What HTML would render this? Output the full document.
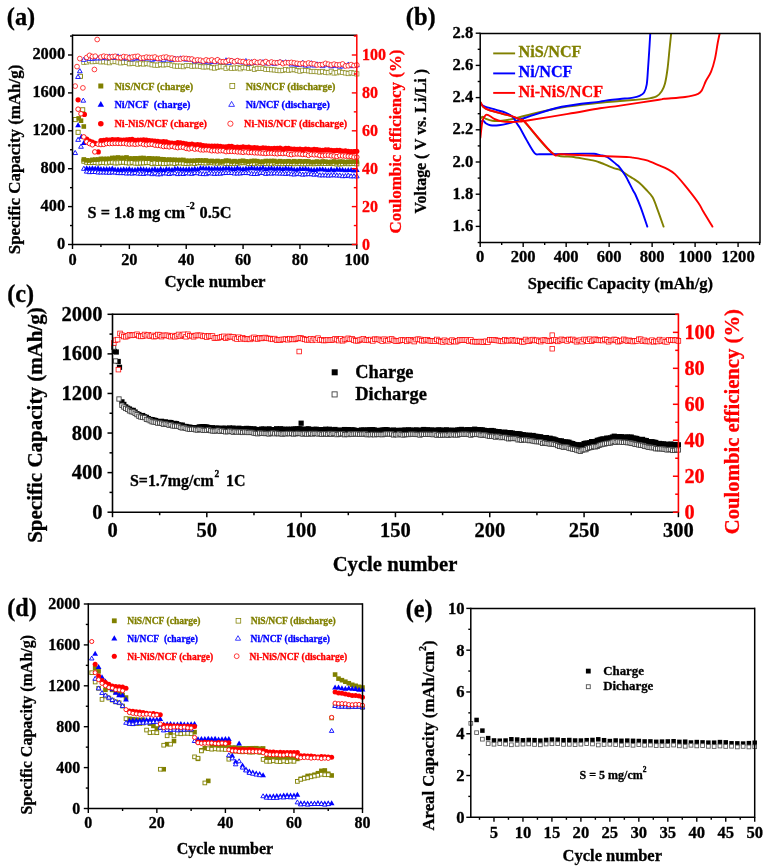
<!DOCTYPE html>
<html><head><meta charset="utf-8"><style>
html,body{margin:0;padding:0;background:#fff;}
svg{display:block;will-change:transform;}
text{stroke-width:0.3px;paint-order:stroke;}
</style></head><body>
<svg width="768" height="867" viewBox="0 0 768 867">
<rect width="768" height="867" fill="#fff"/>
<rect x="81.82" y="159.13" width="4.1" height="4.1" fill="#fff" stroke="#808000" stroke-width="0.9"/>
<rect x="84.67" y="160.19" width="4.1" height="4.1" fill="#fff" stroke="#808000" stroke-width="0.9"/>
<rect x="87.51" y="160.55" width="4.1" height="4.1" fill="#fff" stroke="#808000" stroke-width="0.9"/>
<rect x="90.35" y="160.32" width="4.1" height="4.1" fill="#fff" stroke="#808000" stroke-width="0.9"/>
<rect x="93.19" y="160.4" width="4.1" height="4.1" fill="#fff" stroke="#808000" stroke-width="0.9"/>
<rect x="96.04" y="160.91" width="4.1" height="4.1" fill="#fff" stroke="#808000" stroke-width="0.9"/>
<rect x="98.88" y="160.43" width="4.1" height="4.1" fill="#fff" stroke="#808000" stroke-width="0.9"/>
<rect x="101.72" y="160.52" width="4.1" height="4.1" fill="#fff" stroke="#808000" stroke-width="0.9"/>
<rect x="104.57" y="160.82" width="4.1" height="4.1" fill="#fff" stroke="#808000" stroke-width="0.9"/>
<rect x="107.41" y="160.13" width="4.1" height="4.1" fill="#fff" stroke="#808000" stroke-width="0.9"/>
<rect x="110.25" y="160.1" width="4.1" height="4.1" fill="#fff" stroke="#808000" stroke-width="0.9"/>
<rect x="113.09" y="160.86" width="4.1" height="4.1" fill="#fff" stroke="#808000" stroke-width="0.9"/>
<rect x="115.94" y="160.77" width="4.1" height="4.1" fill="#fff" stroke="#808000" stroke-width="0.9"/>
<rect x="118.78" y="160.2" width="4.1" height="4.1" fill="#fff" stroke="#808000" stroke-width="0.9"/>
<rect x="121.62" y="160.14" width="4.1" height="4.1" fill="#fff" stroke="#808000" stroke-width="0.9"/>
<rect x="124.47" y="160.69" width="4.1" height="4.1" fill="#fff" stroke="#808000" stroke-width="0.9"/>
<rect x="127.31" y="160.89" width="4.1" height="4.1" fill="#fff" stroke="#808000" stroke-width="0.9"/>
<rect x="130.15" y="160.23" width="4.1" height="4.1" fill="#fff" stroke="#808000" stroke-width="0.9"/>
<rect x="133" y="161.06" width="4.1" height="4.1" fill="#fff" stroke="#808000" stroke-width="0.9"/>
<rect x="135.84" y="161.07" width="4.1" height="4.1" fill="#fff" stroke="#808000" stroke-width="0.9"/>
<rect x="138.68" y="160.87" width="4.1" height="4.1" fill="#fff" stroke="#808000" stroke-width="0.9"/>
<rect x="141.52" y="160.77" width="4.1" height="4.1" fill="#fff" stroke="#808000" stroke-width="0.9"/>
<rect x="144.37" y="160.53" width="4.1" height="4.1" fill="#fff" stroke="#808000" stroke-width="0.9"/>
<rect x="147.21" y="160.55" width="4.1" height="4.1" fill="#fff" stroke="#808000" stroke-width="0.9"/>
<rect x="150.05" y="161.55" width="4.1" height="4.1" fill="#fff" stroke="#808000" stroke-width="0.9"/>
<rect x="152.9" y="160.91" width="4.1" height="4.1" fill="#fff" stroke="#808000" stroke-width="0.9"/>
<rect x="155.74" y="161.45" width="4.1" height="4.1" fill="#fff" stroke="#808000" stroke-width="0.9"/>
<rect x="158.58" y="160.99" width="4.1" height="4.1" fill="#fff" stroke="#808000" stroke-width="0.9"/>
<rect x="161.43" y="161.54" width="4.1" height="4.1" fill="#fff" stroke="#808000" stroke-width="0.9"/>
<rect x="164.27" y="161.3" width="4.1" height="4.1" fill="#fff" stroke="#808000" stroke-width="0.9"/>
<rect x="167.11" y="160.98" width="4.1" height="4.1" fill="#fff" stroke="#808000" stroke-width="0.9"/>
<rect x="169.95" y="160.84" width="4.1" height="4.1" fill="#fff" stroke="#808000" stroke-width="0.9"/>
<rect x="172.8" y="161.37" width="4.1" height="4.1" fill="#fff" stroke="#808000" stroke-width="0.9"/>
<rect x="175.64" y="160.7" width="4.1" height="4.1" fill="#fff" stroke="#808000" stroke-width="0.9"/>
<rect x="178.48" y="160.85" width="4.1" height="4.1" fill="#fff" stroke="#808000" stroke-width="0.9"/>
<rect x="181.33" y="161.16" width="4.1" height="4.1" fill="#fff" stroke="#808000" stroke-width="0.9"/>
<rect x="184.17" y="161.44" width="4.1" height="4.1" fill="#fff" stroke="#808000" stroke-width="0.9"/>
<rect x="187.01" y="161.18" width="4.1" height="4.1" fill="#fff" stroke="#808000" stroke-width="0.9"/>
<rect x="189.86" y="160.83" width="4.1" height="4.1" fill="#fff" stroke="#808000" stroke-width="0.9"/>
<rect x="192.7" y="161.45" width="4.1" height="4.1" fill="#fff" stroke="#808000" stroke-width="0.9"/>
<rect x="195.54" y="160.72" width="4.1" height="4.1" fill="#fff" stroke="#808000" stroke-width="0.9"/>
<rect x="198.38" y="160.52" width="4.1" height="4.1" fill="#fff" stroke="#808000" stroke-width="0.9"/>
<rect x="201.23" y="160.75" width="4.1" height="4.1" fill="#fff" stroke="#808000" stroke-width="0.9"/>
<rect x="204.07" y="160.91" width="4.1" height="4.1" fill="#fff" stroke="#808000" stroke-width="0.9"/>
<rect x="206.91" y="160.51" width="4.1" height="4.1" fill="#fff" stroke="#808000" stroke-width="0.9"/>
<rect x="209.76" y="160.64" width="4.1" height="4.1" fill="#fff" stroke="#808000" stroke-width="0.9"/>
<rect x="212.6" y="160.84" width="4.1" height="4.1" fill="#fff" stroke="#808000" stroke-width="0.9"/>
<rect x="215.44" y="161.05" width="4.1" height="4.1" fill="#fff" stroke="#808000" stroke-width="0.9"/>
<rect x="218.29" y="160.62" width="4.1" height="4.1" fill="#fff" stroke="#808000" stroke-width="0.9"/>
<rect x="221.13" y="160.86" width="4.1" height="4.1" fill="#fff" stroke="#808000" stroke-width="0.9"/>
<rect x="223.97" y="161.4" width="4.1" height="4.1" fill="#fff" stroke="#808000" stroke-width="0.9"/>
<rect x="226.81" y="161.5" width="4.1" height="4.1" fill="#fff" stroke="#808000" stroke-width="0.9"/>
<rect x="229.66" y="161.18" width="4.1" height="4.1" fill="#fff" stroke="#808000" stroke-width="0.9"/>
<rect x="232.5" y="161.23" width="4.1" height="4.1" fill="#fff" stroke="#808000" stroke-width="0.9"/>
<rect x="235.34" y="161.13" width="4.1" height="4.1" fill="#fff" stroke="#808000" stroke-width="0.9"/>
<rect x="238.19" y="160.7" width="4.1" height="4.1" fill="#fff" stroke="#808000" stroke-width="0.9"/>
<rect x="241.03" y="160.6" width="4.1" height="4.1" fill="#fff" stroke="#808000" stroke-width="0.9"/>
<rect x="243.87" y="160.59" width="4.1" height="4.1" fill="#fff" stroke="#808000" stroke-width="0.9"/>
<rect x="246.72" y="161.49" width="4.1" height="4.1" fill="#fff" stroke="#808000" stroke-width="0.9"/>
<rect x="249.56" y="161.3" width="4.1" height="4.1" fill="#fff" stroke="#808000" stroke-width="0.9"/>
<rect x="252.4" y="161.57" width="4.1" height="4.1" fill="#fff" stroke="#808000" stroke-width="0.9"/>
<rect x="255.24" y="160.63" width="4.1" height="4.1" fill="#fff" stroke="#808000" stroke-width="0.9"/>
<rect x="258.09" y="161.26" width="4.1" height="4.1" fill="#fff" stroke="#808000" stroke-width="0.9"/>
<rect x="260.93" y="161.11" width="4.1" height="4.1" fill="#fff" stroke="#808000" stroke-width="0.9"/>
<rect x="263.77" y="161.37" width="4.1" height="4.1" fill="#fff" stroke="#808000" stroke-width="0.9"/>
<rect x="266.62" y="160.97" width="4.1" height="4.1" fill="#fff" stroke="#808000" stroke-width="0.9"/>
<rect x="269.46" y="161.66" width="4.1" height="4.1" fill="#fff" stroke="#808000" stroke-width="0.9"/>
<rect x="272.3" y="160.75" width="4.1" height="4.1" fill="#fff" stroke="#808000" stroke-width="0.9"/>
<rect x="275.15" y="161.23" width="4.1" height="4.1" fill="#fff" stroke="#808000" stroke-width="0.9"/>
<rect x="277.99" y="161.43" width="4.1" height="4.1" fill="#fff" stroke="#808000" stroke-width="0.9"/>
<rect x="280.83" y="161.6" width="4.1" height="4.1" fill="#fff" stroke="#808000" stroke-width="0.9"/>
<rect x="283.68" y="161.45" width="4.1" height="4.1" fill="#fff" stroke="#808000" stroke-width="0.9"/>
<rect x="286.52" y="161.42" width="4.1" height="4.1" fill="#fff" stroke="#808000" stroke-width="0.9"/>
<rect x="289.36" y="161.52" width="4.1" height="4.1" fill="#fff" stroke="#808000" stroke-width="0.9"/>
<rect x="292.2" y="161.65" width="4.1" height="4.1" fill="#fff" stroke="#808000" stroke-width="0.9"/>
<rect x="295.05" y="161.1" width="4.1" height="4.1" fill="#fff" stroke="#808000" stroke-width="0.9"/>
<rect x="297.89" y="161.44" width="4.1" height="4.1" fill="#fff" stroke="#808000" stroke-width="0.9"/>
<rect x="300.73" y="161.67" width="4.1" height="4.1" fill="#fff" stroke="#808000" stroke-width="0.9"/>
<rect x="303.58" y="161.65" width="4.1" height="4.1" fill="#fff" stroke="#808000" stroke-width="0.9"/>
<rect x="306.42" y="161.2" width="4.1" height="4.1" fill="#fff" stroke="#808000" stroke-width="0.9"/>
<rect x="309.26" y="161.59" width="4.1" height="4.1" fill="#fff" stroke="#808000" stroke-width="0.9"/>
<rect x="312.1" y="161.67" width="4.1" height="4.1" fill="#fff" stroke="#808000" stroke-width="0.9"/>
<rect x="314.95" y="161.39" width="4.1" height="4.1" fill="#fff" stroke="#808000" stroke-width="0.9"/>
<rect x="317.79" y="161.45" width="4.1" height="4.1" fill="#fff" stroke="#808000" stroke-width="0.9"/>
<rect x="320.63" y="161.22" width="4.1" height="4.1" fill="#fff" stroke="#808000" stroke-width="0.9"/>
<rect x="323.48" y="161.43" width="4.1" height="4.1" fill="#fff" stroke="#808000" stroke-width="0.9"/>
<rect x="326.32" y="161.46" width="4.1" height="4.1" fill="#fff" stroke="#808000" stroke-width="0.9"/>
<rect x="329.16" y="160.94" width="4.1" height="4.1" fill="#fff" stroke="#808000" stroke-width="0.9"/>
<rect x="332.01" y="161.51" width="4.1" height="4.1" fill="#fff" stroke="#808000" stroke-width="0.9"/>
<rect x="334.85" y="161.88" width="4.1" height="4.1" fill="#fff" stroke="#808000" stroke-width="0.9"/>
<rect x="337.69" y="161.77" width="4.1" height="4.1" fill="#fff" stroke="#808000" stroke-width="0.9"/>
<rect x="340.53" y="161.63" width="4.1" height="4.1" fill="#fff" stroke="#808000" stroke-width="0.9"/>
<rect x="343.38" y="161.3" width="4.1" height="4.1" fill="#fff" stroke="#808000" stroke-width="0.9"/>
<rect x="346.22" y="161.66" width="4.1" height="4.1" fill="#fff" stroke="#808000" stroke-width="0.9"/>
<rect x="349.06" y="161.51" width="4.1" height="4.1" fill="#fff" stroke="#808000" stroke-width="0.9"/>
<rect x="351.91" y="161.38" width="4.1" height="4.1" fill="#fff" stroke="#808000" stroke-width="0.9"/>
<rect x="354.75" y="161.79" width="4.1" height="4.1" fill="#fff" stroke="#808000" stroke-width="0.9"/>
<rect x="78.35" y="74.25" width="4.1" height="4.1" fill="#fff" stroke="#808000" stroke-width="0.9"/>
<rect x="80.65" y="107.75" width="4.1" height="4.1" fill="#fff" stroke="#808000" stroke-width="0.9"/>
<rect x="73.15" y="117.55" width="4.1" height="4.1" fill="#fff" stroke="#808000" stroke-width="0.9"/>
<rect x="76.05" y="130.25" width="4.1" height="4.1" fill="#fff" stroke="#808000" stroke-width="0.9"/>
<rect x="81.75" y="60.13" width="4.25" height="4.25" fill="#fff" stroke="#8c8c20" stroke-width="0.75"/>
<rect x="84.59" y="59.83" width="4.25" height="4.25" fill="#fff" stroke="#8c8c20" stroke-width="0.75"/>
<rect x="87.43" y="58.53" width="4.25" height="4.25" fill="#fff" stroke="#8c8c20" stroke-width="0.75"/>
<rect x="90.28" y="59.56" width="4.25" height="4.25" fill="#fff" stroke="#8c8c20" stroke-width="0.75"/>
<rect x="93.12" y="59.34" width="4.25" height="4.25" fill="#fff" stroke="#8c8c20" stroke-width="0.75"/>
<rect x="95.96" y="58.89" width="4.25" height="4.25" fill="#fff" stroke="#8c8c20" stroke-width="0.75"/>
<rect x="98.81" y="59.73" width="4.25" height="4.25" fill="#fff" stroke="#8c8c20" stroke-width="0.75"/>
<rect x="101.65" y="59.52" width="4.25" height="4.25" fill="#fff" stroke="#8c8c20" stroke-width="0.75"/>
<rect x="104.49" y="59.88" width="4.25" height="4.25" fill="#fff" stroke="#8c8c20" stroke-width="0.75"/>
<rect x="107.33" y="60.58" width="4.25" height="4.25" fill="#fff" stroke="#8c8c20" stroke-width="0.75"/>
<rect x="110.18" y="59.54" width="4.25" height="4.25" fill="#fff" stroke="#8c8c20" stroke-width="0.75"/>
<rect x="113.02" y="59.25" width="4.25" height="4.25" fill="#fff" stroke="#8c8c20" stroke-width="0.75"/>
<rect x="115.86" y="59.92" width="4.25" height="4.25" fill="#fff" stroke="#8c8c20" stroke-width="0.75"/>
<rect x="118.71" y="60.75" width="4.25" height="4.25" fill="#fff" stroke="#8c8c20" stroke-width="0.75"/>
<rect x="121.55" y="60.04" width="4.25" height="4.25" fill="#fff" stroke="#8c8c20" stroke-width="0.75"/>
<rect x="124.39" y="60.13" width="4.25" height="4.25" fill="#fff" stroke="#8c8c20" stroke-width="0.75"/>
<rect x="127.24" y="61.61" width="4.25" height="4.25" fill="#fff" stroke="#8c8c20" stroke-width="0.75"/>
<rect x="130.08" y="61.31" width="4.25" height="4.25" fill="#fff" stroke="#8c8c20" stroke-width="0.75"/>
<rect x="132.92" y="61.07" width="4.25" height="4.25" fill="#fff" stroke="#8c8c20" stroke-width="0.75"/>
<rect x="135.76" y="62.03" width="4.25" height="4.25" fill="#fff" stroke="#8c8c20" stroke-width="0.75"/>
<rect x="138.61" y="61.16" width="4.25" height="4.25" fill="#fff" stroke="#8c8c20" stroke-width="0.75"/>
<rect x="141.45" y="61.92" width="4.25" height="4.25" fill="#fff" stroke="#8c8c20" stroke-width="0.75"/>
<rect x="144.29" y="61.23" width="4.25" height="4.25" fill="#fff" stroke="#8c8c20" stroke-width="0.75"/>
<rect x="147.14" y="61.8" width="4.25" height="4.25" fill="#fff" stroke="#8c8c20" stroke-width="0.75"/>
<rect x="149.98" y="62.63" width="4.25" height="4.25" fill="#fff" stroke="#8c8c20" stroke-width="0.75"/>
<rect x="152.82" y="62.97" width="4.25" height="4.25" fill="#fff" stroke="#8c8c20" stroke-width="0.75"/>
<rect x="155.66" y="63.06" width="4.25" height="4.25" fill="#fff" stroke="#8c8c20" stroke-width="0.75"/>
<rect x="158.51" y="62.32" width="4.25" height="4.25" fill="#fff" stroke="#8c8c20" stroke-width="0.75"/>
<rect x="161.35" y="62.82" width="4.25" height="4.25" fill="#fff" stroke="#8c8c20" stroke-width="0.75"/>
<rect x="164.19" y="62.49" width="4.25" height="4.25" fill="#fff" stroke="#8c8c20" stroke-width="0.75"/>
<rect x="167.04" y="62.32" width="4.25" height="4.25" fill="#fff" stroke="#8c8c20" stroke-width="0.75"/>
<rect x="169.88" y="63.12" width="4.25" height="4.25" fill="#fff" stroke="#8c8c20" stroke-width="0.75"/>
<rect x="172.72" y="63.88" width="4.25" height="4.25" fill="#fff" stroke="#8c8c20" stroke-width="0.75"/>
<rect x="175.57" y="64.05" width="4.25" height="4.25" fill="#fff" stroke="#8c8c20" stroke-width="0.75"/>
<rect x="178.41" y="63.96" width="4.25" height="4.25" fill="#fff" stroke="#8c8c20" stroke-width="0.75"/>
<rect x="181.25" y="64.54" width="4.25" height="4.25" fill="#fff" stroke="#8c8c20" stroke-width="0.75"/>
<rect x="184.09" y="63.47" width="4.25" height="4.25" fill="#fff" stroke="#8c8c20" stroke-width="0.75"/>
<rect x="186.94" y="63.4" width="4.25" height="4.25" fill="#fff" stroke="#8c8c20" stroke-width="0.75"/>
<rect x="189.78" y="64.04" width="4.25" height="4.25" fill="#fff" stroke="#8c8c20" stroke-width="0.75"/>
<rect x="192.62" y="63.85" width="4.25" height="4.25" fill="#fff" stroke="#8c8c20" stroke-width="0.75"/>
<rect x="195.47" y="63.86" width="4.25" height="4.25" fill="#fff" stroke="#8c8c20" stroke-width="0.75"/>
<rect x="198.31" y="64.35" width="4.25" height="4.25" fill="#fff" stroke="#8c8c20" stroke-width="0.75"/>
<rect x="201.15" y="64.85" width="4.25" height="4.25" fill="#fff" stroke="#8c8c20" stroke-width="0.75"/>
<rect x="204" y="64.74" width="4.25" height="4.25" fill="#fff" stroke="#8c8c20" stroke-width="0.75"/>
<rect x="206.84" y="64.54" width="4.25" height="4.25" fill="#fff" stroke="#8c8c20" stroke-width="0.75"/>
<rect x="209.68" y="65.6" width="4.25" height="4.25" fill="#fff" stroke="#8c8c20" stroke-width="0.75"/>
<rect x="212.53" y="65.96" width="4.25" height="4.25" fill="#fff" stroke="#8c8c20" stroke-width="0.75"/>
<rect x="215.37" y="65.12" width="4.25" height="4.25" fill="#fff" stroke="#8c8c20" stroke-width="0.75"/>
<rect x="218.21" y="64.55" width="4.25" height="4.25" fill="#fff" stroke="#8c8c20" stroke-width="0.75"/>
<rect x="221.05" y="64.59" width="4.25" height="4.25" fill="#fff" stroke="#8c8c20" stroke-width="0.75"/>
<rect x="223.9" y="66.21" width="4.25" height="4.25" fill="#fff" stroke="#8c8c20" stroke-width="0.75"/>
<rect x="226.74" y="64.83" width="4.25" height="4.25" fill="#fff" stroke="#8c8c20" stroke-width="0.75"/>
<rect x="229.58" y="66.14" width="4.25" height="4.25" fill="#fff" stroke="#8c8c20" stroke-width="0.75"/>
<rect x="232.43" y="66" width="4.25" height="4.25" fill="#fff" stroke="#8c8c20" stroke-width="0.75"/>
<rect x="235.27" y="65.64" width="4.25" height="4.25" fill="#fff" stroke="#8c8c20" stroke-width="0.75"/>
<rect x="238.11" y="66.62" width="4.25" height="4.25" fill="#fff" stroke="#8c8c20" stroke-width="0.75"/>
<rect x="240.95" y="65.34" width="4.25" height="4.25" fill="#fff" stroke="#8c8c20" stroke-width="0.75"/>
<rect x="243.8" y="65.66" width="4.25" height="4.25" fill="#fff" stroke="#8c8c20" stroke-width="0.75"/>
<rect x="246.64" y="66.35" width="4.25" height="4.25" fill="#fff" stroke="#8c8c20" stroke-width="0.75"/>
<rect x="249.48" y="65.69" width="4.25" height="4.25" fill="#fff" stroke="#8c8c20" stroke-width="0.75"/>
<rect x="252.33" y="67.25" width="4.25" height="4.25" fill="#fff" stroke="#8c8c20" stroke-width="0.75"/>
<rect x="255.17" y="66.29" width="4.25" height="4.25" fill="#fff" stroke="#8c8c20" stroke-width="0.75"/>
<rect x="258.01" y="66.23" width="4.25" height="4.25" fill="#fff" stroke="#8c8c20" stroke-width="0.75"/>
<rect x="260.86" y="66.18" width="4.25" height="4.25" fill="#fff" stroke="#8c8c20" stroke-width="0.75"/>
<rect x="263.7" y="67.35" width="4.25" height="4.25" fill="#fff" stroke="#8c8c20" stroke-width="0.75"/>
<rect x="266.54" y="67.15" width="4.25" height="4.25" fill="#fff" stroke="#8c8c20" stroke-width="0.75"/>
<rect x="269.38" y="67.6" width="4.25" height="4.25" fill="#fff" stroke="#8c8c20" stroke-width="0.75"/>
<rect x="272.23" y="67.77" width="4.25" height="4.25" fill="#fff" stroke="#8c8c20" stroke-width="0.75"/>
<rect x="275.07" y="68.17" width="4.25" height="4.25" fill="#fff" stroke="#8c8c20" stroke-width="0.75"/>
<rect x="277.91" y="68.56" width="4.25" height="4.25" fill="#fff" stroke="#8c8c20" stroke-width="0.75"/>
<rect x="280.76" y="68.2" width="4.25" height="4.25" fill="#fff" stroke="#8c8c20" stroke-width="0.75"/>
<rect x="283.6" y="67.45" width="4.25" height="4.25" fill="#fff" stroke="#8c8c20" stroke-width="0.75"/>
<rect x="286.44" y="68.07" width="4.25" height="4.25" fill="#fff" stroke="#8c8c20" stroke-width="0.75"/>
<rect x="289.29" y="67.66" width="4.25" height="4.25" fill="#fff" stroke="#8c8c20" stroke-width="0.75"/>
<rect x="292.13" y="67.48" width="4.25" height="4.25" fill="#fff" stroke="#8c8c20" stroke-width="0.75"/>
<rect x="294.97" y="68.43" width="4.25" height="4.25" fill="#fff" stroke="#8c8c20" stroke-width="0.75"/>
<rect x="297.81" y="68.99" width="4.25" height="4.25" fill="#fff" stroke="#8c8c20" stroke-width="0.75"/>
<rect x="300.66" y="68.15" width="4.25" height="4.25" fill="#fff" stroke="#8c8c20" stroke-width="0.75"/>
<rect x="303.5" y="68.44" width="4.25" height="4.25" fill="#fff" stroke="#8c8c20" stroke-width="0.75"/>
<rect x="306.34" y="68.7" width="4.25" height="4.25" fill="#fff" stroke="#8c8c20" stroke-width="0.75"/>
<rect x="309.19" y="69.45" width="4.25" height="4.25" fill="#fff" stroke="#8c8c20" stroke-width="0.75"/>
<rect x="312.03" y="69.26" width="4.25" height="4.25" fill="#fff" stroke="#8c8c20" stroke-width="0.75"/>
<rect x="314.87" y="69.55" width="4.25" height="4.25" fill="#fff" stroke="#8c8c20" stroke-width="0.75"/>
<rect x="317.72" y="69.93" width="4.25" height="4.25" fill="#fff" stroke="#8c8c20" stroke-width="0.75"/>
<rect x="320.56" y="69.4" width="4.25" height="4.25" fill="#fff" stroke="#8c8c20" stroke-width="0.75"/>
<rect x="323.4" y="70.24" width="4.25" height="4.25" fill="#fff" stroke="#8c8c20" stroke-width="0.75"/>
<rect x="326.25" y="70.57" width="4.25" height="4.25" fill="#fff" stroke="#8c8c20" stroke-width="0.75"/>
<rect x="329.09" y="69.22" width="4.25" height="4.25" fill="#fff" stroke="#8c8c20" stroke-width="0.75"/>
<rect x="331.93" y="70.87" width="4.25" height="4.25" fill="#fff" stroke="#8c8c20" stroke-width="0.75"/>
<rect x="334.77" y="70.61" width="4.25" height="4.25" fill="#fff" stroke="#8c8c20" stroke-width="0.75"/>
<rect x="337.62" y="69.67" width="4.25" height="4.25" fill="#fff" stroke="#8c8c20" stroke-width="0.75"/>
<rect x="340.46" y="70.37" width="4.25" height="4.25" fill="#fff" stroke="#8c8c20" stroke-width="0.75"/>
<rect x="343.3" y="70.81" width="4.25" height="4.25" fill="#fff" stroke="#8c8c20" stroke-width="0.75"/>
<rect x="346.15" y="71.44" width="4.25" height="4.25" fill="#fff" stroke="#8c8c20" stroke-width="0.75"/>
<rect x="348.99" y="70.61" width="4.25" height="4.25" fill="#fff" stroke="#8c8c20" stroke-width="0.75"/>
<rect x="351.83" y="71.08" width="4.25" height="4.25" fill="#fff" stroke="#8c8c20" stroke-width="0.75"/>
<rect x="354.68" y="71.76" width="4.25" height="4.25" fill="#fff" stroke="#8c8c20" stroke-width="0.75"/>
<rect x="81.57" y="157.15" width="4.6" height="4.6" fill="#808000"/>
<rect x="84.42" y="158.06" width="4.6" height="4.6" fill="#808000"/>
<rect x="87.26" y="158.2" width="4.6" height="4.6" fill="#808000"/>
<rect x="90.1" y="157.53" width="4.6" height="4.6" fill="#808000"/>
<rect x="92.94" y="157.35" width="4.6" height="4.6" fill="#808000"/>
<rect x="95.79" y="157.21" width="4.6" height="4.6" fill="#808000"/>
<rect x="98.63" y="156.58" width="4.6" height="4.6" fill="#808000"/>
<rect x="101.47" y="156.7" width="4.6" height="4.6" fill="#808000"/>
<rect x="104.32" y="156.6" width="4.6" height="4.6" fill="#808000"/>
<rect x="107.16" y="156.55" width="4.6" height="4.6" fill="#808000"/>
<rect x="110" y="155.64" width="4.6" height="4.6" fill="#808000"/>
<rect x="112.84" y="155.63" width="4.6" height="4.6" fill="#808000"/>
<rect x="115.69" y="155.2" width="4.6" height="4.6" fill="#808000"/>
<rect x="118.53" y="155.71" width="4.6" height="4.6" fill="#808000"/>
<rect x="121.37" y="155.69" width="4.6" height="4.6" fill="#808000"/>
<rect x="124.22" y="155.14" width="4.6" height="4.6" fill="#808000"/>
<rect x="127.06" y="156.18" width="4.6" height="4.6" fill="#808000"/>
<rect x="129.9" y="156.26" width="4.6" height="4.6" fill="#808000"/>
<rect x="132.75" y="156.05" width="4.6" height="4.6" fill="#808000"/>
<rect x="135.59" y="156.12" width="4.6" height="4.6" fill="#808000"/>
<rect x="138.43" y="155.76" width="4.6" height="4.6" fill="#808000"/>
<rect x="141.27" y="155.72" width="4.6" height="4.6" fill="#808000"/>
<rect x="144.12" y="156.35" width="4.6" height="4.6" fill="#808000"/>
<rect x="146.96" y="156" width="4.6" height="4.6" fill="#808000"/>
<rect x="149.8" y="156.25" width="4.6" height="4.6" fill="#808000"/>
<rect x="152.65" y="156.42" width="4.6" height="4.6" fill="#808000"/>
<rect x="155.49" y="156.33" width="4.6" height="4.6" fill="#808000"/>
<rect x="158.33" y="156.88" width="4.6" height="4.6" fill="#808000"/>
<rect x="161.18" y="156.98" width="4.6" height="4.6" fill="#808000"/>
<rect x="164.02" y="157.5" width="4.6" height="4.6" fill="#808000"/>
<rect x="166.86" y="157.3" width="4.6" height="4.6" fill="#808000"/>
<rect x="169.7" y="157.54" width="4.6" height="4.6" fill="#808000"/>
<rect x="172.55" y="157.52" width="4.6" height="4.6" fill="#808000"/>
<rect x="175.39" y="157.8" width="4.6" height="4.6" fill="#808000"/>
<rect x="178.23" y="157.72" width="4.6" height="4.6" fill="#808000"/>
<rect x="181.08" y="157.66" width="4.6" height="4.6" fill="#808000"/>
<rect x="183.92" y="158.5" width="4.6" height="4.6" fill="#808000"/>
<rect x="186.76" y="158.58" width="4.6" height="4.6" fill="#808000"/>
<rect x="189.61" y="158.52" width="4.6" height="4.6" fill="#808000"/>
<rect x="192.45" y="158.47" width="4.6" height="4.6" fill="#808000"/>
<rect x="195.29" y="158.17" width="4.6" height="4.6" fill="#808000"/>
<rect x="198.13" y="158.17" width="4.6" height="4.6" fill="#808000"/>
<rect x="200.98" y="158.31" width="4.6" height="4.6" fill="#808000"/>
<rect x="203.82" y="158.18" width="4.6" height="4.6" fill="#808000"/>
<rect x="206.66" y="158.97" width="4.6" height="4.6" fill="#808000"/>
<rect x="209.51" y="158.62" width="4.6" height="4.6" fill="#808000"/>
<rect x="212.35" y="159.09" width="4.6" height="4.6" fill="#808000"/>
<rect x="215.19" y="158.64" width="4.6" height="4.6" fill="#808000"/>
<rect x="218.04" y="159.23" width="4.6" height="4.6" fill="#808000"/>
<rect x="220.88" y="159.14" width="4.6" height="4.6" fill="#808000"/>
<rect x="223.72" y="158.32" width="4.6" height="4.6" fill="#808000"/>
<rect x="226.56" y="158.54" width="4.6" height="4.6" fill="#808000"/>
<rect x="229.41" y="159.26" width="4.6" height="4.6" fill="#808000"/>
<rect x="232.25" y="158.84" width="4.6" height="4.6" fill="#808000"/>
<rect x="235.09" y="159.37" width="4.6" height="4.6" fill="#808000"/>
<rect x="237.94" y="158.81" width="4.6" height="4.6" fill="#808000"/>
<rect x="240.78" y="158.5" width="4.6" height="4.6" fill="#808000"/>
<rect x="243.62" y="159.08" width="4.6" height="4.6" fill="#808000"/>
<rect x="246.47" y="159.25" width="4.6" height="4.6" fill="#808000"/>
<rect x="249.31" y="158.76" width="4.6" height="4.6" fill="#808000"/>
<rect x="252.15" y="158.59" width="4.6" height="4.6" fill="#808000"/>
<rect x="254.99" y="158.86" width="4.6" height="4.6" fill="#808000"/>
<rect x="257.84" y="159.51" width="4.6" height="4.6" fill="#808000"/>
<rect x="260.68" y="159.32" width="4.6" height="4.6" fill="#808000"/>
<rect x="263.52" y="158.7" width="4.6" height="4.6" fill="#808000"/>
<rect x="266.37" y="158.85" width="4.6" height="4.6" fill="#808000"/>
<rect x="269.21" y="158.72" width="4.6" height="4.6" fill="#808000"/>
<rect x="272.05" y="158.7" width="4.6" height="4.6" fill="#808000"/>
<rect x="274.9" y="159.46" width="4.6" height="4.6" fill="#808000"/>
<rect x="277.74" y="158.86" width="4.6" height="4.6" fill="#808000"/>
<rect x="280.58" y="159.26" width="4.6" height="4.6" fill="#808000"/>
<rect x="283.43" y="159.17" width="4.6" height="4.6" fill="#808000"/>
<rect x="286.27" y="158.93" width="4.6" height="4.6" fill="#808000"/>
<rect x="289.11" y="159.49" width="4.6" height="4.6" fill="#808000"/>
<rect x="291.95" y="158.91" width="4.6" height="4.6" fill="#808000"/>
<rect x="294.8" y="159.44" width="4.6" height="4.6" fill="#808000"/>
<rect x="297.64" y="158.93" width="4.6" height="4.6" fill="#808000"/>
<rect x="300.48" y="159.26" width="4.6" height="4.6" fill="#808000"/>
<rect x="303.33" y="159.07" width="4.6" height="4.6" fill="#808000"/>
<rect x="306.17" y="159.14" width="4.6" height="4.6" fill="#808000"/>
<rect x="309.01" y="159.86" width="4.6" height="4.6" fill="#808000"/>
<rect x="311.85" y="159.71" width="4.6" height="4.6" fill="#808000"/>
<rect x="314.7" y="159.23" width="4.6" height="4.6" fill="#808000"/>
<rect x="317.54" y="159.83" width="4.6" height="4.6" fill="#808000"/>
<rect x="320.38" y="159.18" width="4.6" height="4.6" fill="#808000"/>
<rect x="323.23" y="159.38" width="4.6" height="4.6" fill="#808000"/>
<rect x="326.07" y="159.86" width="4.6" height="4.6" fill="#808000"/>
<rect x="328.91" y="159.67" width="4.6" height="4.6" fill="#808000"/>
<rect x="331.76" y="159.15" width="4.6" height="4.6" fill="#808000"/>
<rect x="334.6" y="160.05" width="4.6" height="4.6" fill="#808000"/>
<rect x="337.44" y="159.3" width="4.6" height="4.6" fill="#808000"/>
<rect x="340.28" y="159.36" width="4.6" height="4.6" fill="#808000"/>
<rect x="343.13" y="159.9" width="4.6" height="4.6" fill="#808000"/>
<rect x="345.97" y="159.47" width="4.6" height="4.6" fill="#808000"/>
<rect x="348.81" y="159.46" width="4.6" height="4.6" fill="#808000"/>
<rect x="351.66" y="159.25" width="4.6" height="4.6" fill="#808000"/>
<rect x="354.5" y="159.29" width="4.6" height="4.6" fill="#808000"/>
<rect x="76.4" y="116.1" width="4.6" height="4.6" fill="#808000"/>
<rect x="78.7" y="118.4" width="4.6" height="4.6" fill="#808000"/>
<rect x="81.5" y="124.2" width="4.6" height="4.6" fill="#808000"/>
<polygon points="83.87,166.23 81.5,170.34 86.24,170.34" fill="#fff" stroke="#0000ff" stroke-width="0.9"/>
<polygon points="86.72,169 84.34,173.11 89.09,173.11" fill="#fff" stroke="#0000ff" stroke-width="0.9"/>
<polygon points="89.56,169.57 87.19,173.67 91.93,173.67" fill="#fff" stroke="#0000ff" stroke-width="0.9"/>
<polygon points="92.4,169.36 90.03,173.46 94.77,173.46" fill="#fff" stroke="#0000ff" stroke-width="0.9"/>
<polygon points="95.24,169.39 92.87,173.5 97.61,173.5" fill="#fff" stroke="#0000ff" stroke-width="0.9"/>
<polygon points="98.09,169.89 95.72,174 100.46,174" fill="#fff" stroke="#0000ff" stroke-width="0.9"/>
<polygon points="100.93,169.88 98.56,173.98 103.3,173.98" fill="#fff" stroke="#0000ff" stroke-width="0.9"/>
<polygon points="103.77,169.87 101.4,173.97 106.14,173.97" fill="#fff" stroke="#0000ff" stroke-width="0.9"/>
<polygon points="106.62,169.97 104.25,174.08 108.99,174.08" fill="#fff" stroke="#0000ff" stroke-width="0.9"/>
<polygon points="109.46,170.17 107.09,174.28 111.83,174.28" fill="#fff" stroke="#0000ff" stroke-width="0.9"/>
<polygon points="112.3,169.79 109.93,173.89 114.67,173.89" fill="#fff" stroke="#0000ff" stroke-width="0.9"/>
<polygon points="115.14,169.9 112.77,174 117.52,174" fill="#fff" stroke="#0000ff" stroke-width="0.9"/>
<polygon points="117.99,170.47 115.62,174.58 120.36,174.58" fill="#fff" stroke="#0000ff" stroke-width="0.9"/>
<polygon points="120.83,170.54 118.46,174.65 123.2,174.65" fill="#fff" stroke="#0000ff" stroke-width="0.9"/>
<polygon points="123.67,170.47 121.3,174.58 126.04,174.58" fill="#fff" stroke="#0000ff" stroke-width="0.9"/>
<polygon points="126.52,170.92 124.15,175.02 128.89,175.02" fill="#fff" stroke="#0000ff" stroke-width="0.9"/>
<polygon points="129.36,170.69 126.99,174.79 131.73,174.79" fill="#fff" stroke="#0000ff" stroke-width="0.9"/>
<polygon points="132.2,171.04 129.83,175.15 134.57,175.15" fill="#fff" stroke="#0000ff" stroke-width="0.9"/>
<polygon points="135.05,170.35 132.68,174.46 137.42,174.46" fill="#fff" stroke="#0000ff" stroke-width="0.9"/>
<polygon points="137.89,171.02 135.52,175.13 140.26,175.13" fill="#fff" stroke="#0000ff" stroke-width="0.9"/>
<polygon points="140.73,171.17 138.36,175.27 143.1,175.27" fill="#fff" stroke="#0000ff" stroke-width="0.9"/>
<polygon points="143.57,171.34 141.2,175.44 145.94,175.44" fill="#fff" stroke="#0000ff" stroke-width="0.9"/>
<polygon points="146.42,170.69 144.05,174.8 148.79,174.8" fill="#fff" stroke="#0000ff" stroke-width="0.9"/>
<polygon points="149.26,170.75 146.89,174.86 151.63,174.86" fill="#fff" stroke="#0000ff" stroke-width="0.9"/>
<polygon points="152.1,171.54 149.73,175.65 154.47,175.65" fill="#fff" stroke="#0000ff" stroke-width="0.9"/>
<polygon points="154.95,170.76 152.58,174.86 157.32,174.86" fill="#fff" stroke="#0000ff" stroke-width="0.9"/>
<polygon points="157.79,171.75 155.42,175.86 160.16,175.86" fill="#fff" stroke="#0000ff" stroke-width="0.9"/>
<polygon points="160.63,171.61 158.26,175.71 163,175.71" fill="#fff" stroke="#0000ff" stroke-width="0.9"/>
<polygon points="163.48,170.69 161.11,174.8 165.85,174.8" fill="#fff" stroke="#0000ff" stroke-width="0.9"/>
<polygon points="166.32,170.81 163.95,174.91 168.69,174.91" fill="#fff" stroke="#0000ff" stroke-width="0.9"/>
<polygon points="169.16,171.38 166.79,175.49 171.53,175.49" fill="#fff" stroke="#0000ff" stroke-width="0.9"/>
<polygon points="172,170.81 169.63,174.92 174.38,174.92" fill="#fff" stroke="#0000ff" stroke-width="0.9"/>
<polygon points="174.85,170.6 172.48,174.71 177.22,174.71" fill="#fff" stroke="#0000ff" stroke-width="0.9"/>
<polygon points="177.69,171.48 175.32,175.58 180.06,175.58" fill="#fff" stroke="#0000ff" stroke-width="0.9"/>
<polygon points="180.53,170.97 178.16,175.08 182.9,175.08" fill="#fff" stroke="#0000ff" stroke-width="0.9"/>
<polygon points="183.38,171.4 181.01,175.51 185.75,175.51" fill="#fff" stroke="#0000ff" stroke-width="0.9"/>
<polygon points="186.22,170.6 183.85,174.7 188.59,174.7" fill="#fff" stroke="#0000ff" stroke-width="0.9"/>
<polygon points="189.06,170.92 186.69,175.02 191.43,175.02" fill="#fff" stroke="#0000ff" stroke-width="0.9"/>
<polygon points="191.91,171.24 189.54,175.35 194.28,175.35" fill="#fff" stroke="#0000ff" stroke-width="0.9"/>
<polygon points="194.75,170.43 192.38,174.54 197.12,174.54" fill="#fff" stroke="#0000ff" stroke-width="0.9"/>
<polygon points="197.59,170.64 195.22,174.75 199.96,174.75" fill="#fff" stroke="#0000ff" stroke-width="0.9"/>
<polygon points="200.44,171.21 198.06,175.31 202.81,175.31" fill="#fff" stroke="#0000ff" stroke-width="0.9"/>
<polygon points="203.28,171.47 200.91,175.58 205.65,175.58" fill="#fff" stroke="#0000ff" stroke-width="0.9"/>
<polygon points="206.12,171.53 203.75,175.63 208.49,175.63" fill="#fff" stroke="#0000ff" stroke-width="0.9"/>
<polygon points="208.96,170.49 206.59,174.6 211.33,174.6" fill="#fff" stroke="#0000ff" stroke-width="0.9"/>
<polygon points="211.81,170.95 209.44,175.06 214.18,175.06" fill="#fff" stroke="#0000ff" stroke-width="0.9"/>
<polygon points="214.65,171.25 212.28,175.35 217.02,175.35" fill="#fff" stroke="#0000ff" stroke-width="0.9"/>
<polygon points="217.49,170.93 215.12,175.04 219.86,175.04" fill="#fff" stroke="#0000ff" stroke-width="0.9"/>
<polygon points="220.34,171.14 217.97,175.25 222.71,175.25" fill="#fff" stroke="#0000ff" stroke-width="0.9"/>
<polygon points="223.18,170.54 220.81,174.64 225.55,174.64" fill="#fff" stroke="#0000ff" stroke-width="0.9"/>
<polygon points="226.02,170.39 223.65,174.49 228.39,174.49" fill="#fff" stroke="#0000ff" stroke-width="0.9"/>
<polygon points="228.87,170.42 226.5,174.52 231.24,174.52" fill="#fff" stroke="#0000ff" stroke-width="0.9"/>
<polygon points="231.71,170.33 229.34,174.43 234.08,174.43" fill="#fff" stroke="#0000ff" stroke-width="0.9"/>
<polygon points="234.55,170.94 232.18,175.04 236.92,175.04" fill="#fff" stroke="#0000ff" stroke-width="0.9"/>
<polygon points="237.39,170.88 235.02,174.99 239.76,174.99" fill="#fff" stroke="#0000ff" stroke-width="0.9"/>
<polygon points="240.24,170.94 237.87,175.04 242.61,175.04" fill="#fff" stroke="#0000ff" stroke-width="0.9"/>
<polygon points="243.08,170.42 240.71,174.53 245.45,174.53" fill="#fff" stroke="#0000ff" stroke-width="0.9"/>
<polygon points="245.92,170.46 243.55,174.56 248.29,174.56" fill="#fff" stroke="#0000ff" stroke-width="0.9"/>
<polygon points="248.77,170.47 246.4,174.58 251.14,174.58" fill="#fff" stroke="#0000ff" stroke-width="0.9"/>
<polygon points="251.61,171.23 249.24,175.33 253.98,175.33" fill="#fff" stroke="#0000ff" stroke-width="0.9"/>
<polygon points="254.45,171.4 252.08,175.5 256.82,175.5" fill="#fff" stroke="#0000ff" stroke-width="0.9"/>
<polygon points="257.29,171.31 254.92,175.42 259.66,175.42" fill="#fff" stroke="#0000ff" stroke-width="0.9"/>
<polygon points="260.14,170.31 257.77,174.41 262.51,174.41" fill="#fff" stroke="#0000ff" stroke-width="0.9"/>
<polygon points="262.98,170.26 260.61,174.36 265.35,174.36" fill="#fff" stroke="#0000ff" stroke-width="0.9"/>
<polygon points="265.82,171.31 263.45,175.42 268.19,175.42" fill="#fff" stroke="#0000ff" stroke-width="0.9"/>
<polygon points="268.67,170.72 266.3,174.82 271.04,174.82" fill="#fff" stroke="#0000ff" stroke-width="0.9"/>
<polygon points="271.51,171.07 269.14,175.18 273.88,175.18" fill="#fff" stroke="#0000ff" stroke-width="0.9"/>
<polygon points="274.35,170.64 271.98,174.74 276.72,174.74" fill="#fff" stroke="#0000ff" stroke-width="0.9"/>
<polygon points="277.2,170.9 274.83,175 279.57,175" fill="#fff" stroke="#0000ff" stroke-width="0.9"/>
<polygon points="280.04,171.04 277.67,175.15 282.41,175.15" fill="#fff" stroke="#0000ff" stroke-width="0.9"/>
<polygon points="282.88,171.03 280.51,175.14 285.25,175.14" fill="#fff" stroke="#0000ff" stroke-width="0.9"/>
<polygon points="285.73,171.33 283.36,175.43 288.1,175.43" fill="#fff" stroke="#0000ff" stroke-width="0.9"/>
<polygon points="288.57,170.71 286.2,174.82 290.94,174.82" fill="#fff" stroke="#0000ff" stroke-width="0.9"/>
<polygon points="291.41,171.63 289.04,175.73 293.78,175.73" fill="#fff" stroke="#0000ff" stroke-width="0.9"/>
<polygon points="294.25,171.89 291.88,175.99 296.62,175.99" fill="#fff" stroke="#0000ff" stroke-width="0.9"/>
<polygon points="297.1,171.18 294.73,175.29 299.47,175.29" fill="#fff" stroke="#0000ff" stroke-width="0.9"/>
<polygon points="299.94,171.6 297.57,175.7 302.31,175.7" fill="#fff" stroke="#0000ff" stroke-width="0.9"/>
<polygon points="302.78,172.03 300.41,176.14 305.15,176.14" fill="#fff" stroke="#0000ff" stroke-width="0.9"/>
<polygon points="305.63,171.72 303.26,175.83 308,175.83" fill="#fff" stroke="#0000ff" stroke-width="0.9"/>
<polygon points="308.47,171.56 306.1,175.66 310.84,175.66" fill="#fff" stroke="#0000ff" stroke-width="0.9"/>
<polygon points="311.31,171.61 308.94,175.72 313.68,175.72" fill="#fff" stroke="#0000ff" stroke-width="0.9"/>
<polygon points="314.15,172.12 311.78,176.22 316.52,176.22" fill="#fff" stroke="#0000ff" stroke-width="0.9"/>
<polygon points="317,171.61 314.63,175.72 319.37,175.72" fill="#fff" stroke="#0000ff" stroke-width="0.9"/>
<polygon points="319.84,172.76 317.47,176.86 322.21,176.86" fill="#fff" stroke="#0000ff" stroke-width="0.9"/>
<polygon points="322.68,172.74 320.31,176.84 325.05,176.84" fill="#fff" stroke="#0000ff" stroke-width="0.9"/>
<polygon points="325.53,172.71 323.16,176.82 327.9,176.82" fill="#fff" stroke="#0000ff" stroke-width="0.9"/>
<polygon points="328.37,172.99 326,177.09 330.74,177.09" fill="#fff" stroke="#0000ff" stroke-width="0.9"/>
<polygon points="331.21,172.8 328.84,176.91 333.58,176.91" fill="#fff" stroke="#0000ff" stroke-width="0.9"/>
<polygon points="334.06,172.62 331.69,176.73 336.43,176.73" fill="#fff" stroke="#0000ff" stroke-width="0.9"/>
<polygon points="336.9,172.94 334.53,177.05 339.27,177.05" fill="#fff" stroke="#0000ff" stroke-width="0.9"/>
<polygon points="339.74,172.92 337.37,177.02 342.11,177.02" fill="#fff" stroke="#0000ff" stroke-width="0.9"/>
<polygon points="342.58,173.58 340.21,177.69 344.95,177.69" fill="#fff" stroke="#0000ff" stroke-width="0.9"/>
<polygon points="345.43,173.46 343.06,177.57 347.8,177.57" fill="#fff" stroke="#0000ff" stroke-width="0.9"/>
<polygon points="348.27,172.89 345.9,177 350.64,177" fill="#fff" stroke="#0000ff" stroke-width="0.9"/>
<polygon points="351.11,173.77 348.74,177.87 353.48,177.87" fill="#fff" stroke="#0000ff" stroke-width="0.9"/>
<polygon points="353.96,173.66 351.59,177.76 356.33,177.76" fill="#fff" stroke="#0000ff" stroke-width="0.9"/>
<polygon points="356.8,173.79 354.43,177.89 359.17,177.89" fill="#fff" stroke="#0000ff" stroke-width="0.9"/>
<polygon points="79.8,68.65 77.43,72.76 82.17,72.76" fill="#fff" stroke="#0000ff" stroke-width="0.9"/>
<polygon points="78,74.35 75.63,78.46 80.37,78.46" fill="#fff" stroke="#0000ff" stroke-width="0.9"/>
<polygon points="83.3,98.05 80.93,102.16 85.67,102.16" fill="#fff" stroke="#0000ff" stroke-width="0.9"/>
<polygon points="78.1,137.25 75.73,141.36 80.47,141.36" fill="#fff" stroke="#0000ff" stroke-width="0.9"/>
<polygon points="81,144.15 78.63,148.26 83.37,148.26" fill="#fff" stroke="#0000ff" stroke-width="0.9"/>
<polygon points="75.2,150.45 72.83,154.56 77.57,154.56" fill="#fff" stroke="#0000ff" stroke-width="0.9"/>
<polygon points="83.87,57.16 81.4,61.45 86.35,61.45" fill="#fff" stroke="#0000ff" stroke-width="0.75"/>
<polygon points="86.72,55.1 84.24,59.38 89.19,59.38" fill="#fff" stroke="#0000ff" stroke-width="0.75"/>
<polygon points="89.56,56.27 87.08,60.56 92.03,60.56" fill="#fff" stroke="#0000ff" stroke-width="0.75"/>
<polygon points="92.4,56.13 89.93,60.42 94.88,60.42" fill="#fff" stroke="#0000ff" stroke-width="0.75"/>
<polygon points="95.24,55.55 92.77,59.84 97.72,59.84" fill="#fff" stroke="#0000ff" stroke-width="0.75"/>
<polygon points="98.09,55.64 95.61,59.92 100.56,59.92" fill="#fff" stroke="#0000ff" stroke-width="0.75"/>
<polygon points="100.93,55.53 98.46,59.82 103.41,59.82" fill="#fff" stroke="#0000ff" stroke-width="0.75"/>
<polygon points="103.77,54.65 101.3,58.93 106.25,58.93" fill="#fff" stroke="#0000ff" stroke-width="0.75"/>
<polygon points="106.62,55.52 104.14,59.81 109.09,59.81" fill="#fff" stroke="#0000ff" stroke-width="0.75"/>
<polygon points="109.46,53.88 106.98,58.16 111.93,58.16" fill="#fff" stroke="#0000ff" stroke-width="0.75"/>
<polygon points="112.3,54.63 109.83,58.92 114.78,58.92" fill="#fff" stroke="#0000ff" stroke-width="0.75"/>
<polygon points="115.14,55.01 112.67,59.3 117.62,59.3" fill="#fff" stroke="#0000ff" stroke-width="0.75"/>
<polygon points="117.99,53.87 115.51,58.16 120.46,58.16" fill="#fff" stroke="#0000ff" stroke-width="0.75"/>
<polygon points="120.83,54.82 118.36,59.1 123.31,59.1" fill="#fff" stroke="#0000ff" stroke-width="0.75"/>
<polygon points="123.67,55.6 121.2,59.89 126.15,59.89" fill="#fff" stroke="#0000ff" stroke-width="0.75"/>
<polygon points="126.52,55.61 124.04,59.9 128.99,59.9" fill="#fff" stroke="#0000ff" stroke-width="0.75"/>
<polygon points="129.36,54.65 126.89,58.93 131.84,58.93" fill="#fff" stroke="#0000ff" stroke-width="0.75"/>
<polygon points="132.2,56.55 129.73,60.84 134.68,60.84" fill="#fff" stroke="#0000ff" stroke-width="0.75"/>
<polygon points="135.05,55.87 132.57,60.16 137.52,60.16" fill="#fff" stroke="#0000ff" stroke-width="0.75"/>
<polygon points="137.89,55.07 135.41,59.36 140.36,59.36" fill="#fff" stroke="#0000ff" stroke-width="0.75"/>
<polygon points="140.73,55.96 138.26,60.24 143.21,60.24" fill="#fff" stroke="#0000ff" stroke-width="0.75"/>
<polygon points="143.57,55.77 141.1,60.06 146.05,60.06" fill="#fff" stroke="#0000ff" stroke-width="0.75"/>
<polygon points="146.42,55.73 143.94,60.01 148.89,60.01" fill="#fff" stroke="#0000ff" stroke-width="0.75"/>
<polygon points="149.26,55.41 146.79,59.69 151.74,59.69" fill="#fff" stroke="#0000ff" stroke-width="0.75"/>
<polygon points="152.1,57.04 149.63,61.33 154.58,61.33" fill="#fff" stroke="#0000ff" stroke-width="0.75"/>
<polygon points="154.95,56.16 152.47,60.45 157.42,60.45" fill="#fff" stroke="#0000ff" stroke-width="0.75"/>
<polygon points="157.79,56.37 155.31,60.65 160.26,60.65" fill="#fff" stroke="#0000ff" stroke-width="0.75"/>
<polygon points="160.63,56.66 158.16,60.95 163.11,60.95" fill="#fff" stroke="#0000ff" stroke-width="0.75"/>
<polygon points="163.48,57.37 161,61.65 165.95,61.65" fill="#fff" stroke="#0000ff" stroke-width="0.75"/>
<polygon points="166.32,55.02 163.84,59.3 168.79,59.3" fill="#fff" stroke="#0000ff" stroke-width="0.75"/>
<polygon points="169.16,56.7 166.69,60.98 171.64,60.98" fill="#fff" stroke="#0000ff" stroke-width="0.75"/>
<polygon points="172,57.16 169.53,61.44 174.48,61.44" fill="#fff" stroke="#0000ff" stroke-width="0.75"/>
<polygon points="174.85,56.04 172.37,60.33 177.32,60.33" fill="#fff" stroke="#0000ff" stroke-width="0.75"/>
<polygon points="177.69,56.56 175.22,60.85 180.17,60.85" fill="#fff" stroke="#0000ff" stroke-width="0.75"/>
<polygon points="180.53,55.78 178.06,60.07 183.01,60.07" fill="#fff" stroke="#0000ff" stroke-width="0.75"/>
<polygon points="183.38,56.3 180.9,60.59 185.85,60.59" fill="#fff" stroke="#0000ff" stroke-width="0.75"/>
<polygon points="186.22,56.91 183.75,61.19 188.69,61.19" fill="#fff" stroke="#0000ff" stroke-width="0.75"/>
<polygon points="189.06,56.33 186.59,60.61 191.54,60.61" fill="#fff" stroke="#0000ff" stroke-width="0.75"/>
<polygon points="191.91,56.86 189.43,61.15 194.38,61.15" fill="#fff" stroke="#0000ff" stroke-width="0.75"/>
<polygon points="194.75,58.7 192.27,62.99 197.22,62.99" fill="#fff" stroke="#0000ff" stroke-width="0.75"/>
<polygon points="197.59,57.92 195.12,62.2 200.07,62.2" fill="#fff" stroke="#0000ff" stroke-width="0.75"/>
<polygon points="200.44,57.95 197.96,62.23 202.91,62.23" fill="#fff" stroke="#0000ff" stroke-width="0.75"/>
<polygon points="203.28,59.28 200.8,63.57 205.75,63.57" fill="#fff" stroke="#0000ff" stroke-width="0.75"/>
<polygon points="206.12,58.38 203.65,62.67 208.6,62.67" fill="#fff" stroke="#0000ff" stroke-width="0.75"/>
<polygon points="208.96,59.63 206.49,63.92 211.44,63.92" fill="#fff" stroke="#0000ff" stroke-width="0.75"/>
<polygon points="211.81,58.8 209.33,63.08 214.28,63.08" fill="#fff" stroke="#0000ff" stroke-width="0.75"/>
<polygon points="214.65,59.34 212.18,63.62 217.12,63.62" fill="#fff" stroke="#0000ff" stroke-width="0.75"/>
<polygon points="217.49,57.52 215.02,61.81 219.97,61.81" fill="#fff" stroke="#0000ff" stroke-width="0.75"/>
<polygon points="220.34,58.97 217.86,63.26 222.81,63.26" fill="#fff" stroke="#0000ff" stroke-width="0.75"/>
<polygon points="223.18,59.49 220.7,63.77 225.65,63.77" fill="#fff" stroke="#0000ff" stroke-width="0.75"/>
<polygon points="226.02,57.72 223.55,62.01 228.5,62.01" fill="#fff" stroke="#0000ff" stroke-width="0.75"/>
<polygon points="228.87,60.12 226.39,64.41 231.34,64.41" fill="#fff" stroke="#0000ff" stroke-width="0.75"/>
<polygon points="231.71,58.21 229.23,62.5 234.18,62.5" fill="#fff" stroke="#0000ff" stroke-width="0.75"/>
<polygon points="234.55,59.12 232.08,63.4 237.03,63.4" fill="#fff" stroke="#0000ff" stroke-width="0.75"/>
<polygon points="237.39,58.42 234.92,62.71 239.87,62.71" fill="#fff" stroke="#0000ff" stroke-width="0.75"/>
<polygon points="240.24,59.37 237.76,63.65 242.71,63.65" fill="#fff" stroke="#0000ff" stroke-width="0.75"/>
<polygon points="243.08,59.76 240.6,64.05 245.55,64.05" fill="#fff" stroke="#0000ff" stroke-width="0.75"/>
<polygon points="245.92,58.42 243.45,62.71 248.4,62.71" fill="#fff" stroke="#0000ff" stroke-width="0.75"/>
<polygon points="248.77,60.82 246.29,65.11 251.24,65.11" fill="#fff" stroke="#0000ff" stroke-width="0.75"/>
<polygon points="251.61,59.55 249.13,63.84 254.08,63.84" fill="#fff" stroke="#0000ff" stroke-width="0.75"/>
<polygon points="254.45,59.92 251.98,64.21 256.93,64.21" fill="#fff" stroke="#0000ff" stroke-width="0.75"/>
<polygon points="257.29,60.2 254.82,64.49 259.77,64.49" fill="#fff" stroke="#0000ff" stroke-width="0.75"/>
<polygon points="260.14,59.69 257.66,63.98 262.61,63.98" fill="#fff" stroke="#0000ff" stroke-width="0.75"/>
<polygon points="262.98,59.58 260.51,63.86 265.46,63.86" fill="#fff" stroke="#0000ff" stroke-width="0.75"/>
<polygon points="265.82,60.63 263.35,64.92 268.3,64.92" fill="#fff" stroke="#0000ff" stroke-width="0.75"/>
<polygon points="268.67,60.48 266.19,64.77 271.14,64.77" fill="#fff" stroke="#0000ff" stroke-width="0.75"/>
<polygon points="271.51,59.85 269.03,64.14 273.99,64.14" fill="#fff" stroke="#0000ff" stroke-width="0.75"/>
<polygon points="274.35,61.07 271.88,65.36 276.83,65.36" fill="#fff" stroke="#0000ff" stroke-width="0.75"/>
<polygon points="277.2,60.07 274.72,64.36 279.67,64.36" fill="#fff" stroke="#0000ff" stroke-width="0.75"/>
<polygon points="280.04,59.43 277.56,63.72 282.51,63.72" fill="#fff" stroke="#0000ff" stroke-width="0.75"/>
<polygon points="282.88,60.13 280.41,64.42 285.36,64.42" fill="#fff" stroke="#0000ff" stroke-width="0.75"/>
<polygon points="285.73,59.7 283.25,63.98 288.2,63.98" fill="#fff" stroke="#0000ff" stroke-width="0.75"/>
<polygon points="288.57,60.09 286.09,64.37 291.04,64.37" fill="#fff" stroke="#0000ff" stroke-width="0.75"/>
<polygon points="291.41,61.74 288.94,66.02 293.89,66.02" fill="#fff" stroke="#0000ff" stroke-width="0.75"/>
<polygon points="294.25,60.88 291.78,65.17 296.73,65.17" fill="#fff" stroke="#0000ff" stroke-width="0.75"/>
<polygon points="297.1,62.3 294.62,66.58 299.57,66.58" fill="#fff" stroke="#0000ff" stroke-width="0.75"/>
<polygon points="299.94,62 297.46,66.29 302.42,66.29" fill="#fff" stroke="#0000ff" stroke-width="0.75"/>
<polygon points="302.78,60.28 300.31,64.57 305.26,64.57" fill="#fff" stroke="#0000ff" stroke-width="0.75"/>
<polygon points="305.63,62.82 303.15,67.1 308.1,67.1" fill="#fff" stroke="#0000ff" stroke-width="0.75"/>
<polygon points="308.47,62.8 305.99,67.08 310.94,67.08" fill="#fff" stroke="#0000ff" stroke-width="0.75"/>
<polygon points="311.31,60.63 308.84,64.91 313.79,64.91" fill="#fff" stroke="#0000ff" stroke-width="0.75"/>
<polygon points="314.15,62.88 311.68,67.17 316.63,67.17" fill="#fff" stroke="#0000ff" stroke-width="0.75"/>
<polygon points="317,61.74 314.52,66.03 319.47,66.03" fill="#fff" stroke="#0000ff" stroke-width="0.75"/>
<polygon points="319.84,61.96 317.37,66.25 322.32,66.25" fill="#fff" stroke="#0000ff" stroke-width="0.75"/>
<polygon points="322.68,63.34 320.21,67.63 325.16,67.63" fill="#fff" stroke="#0000ff" stroke-width="0.75"/>
<polygon points="325.53,61.54 323.05,65.83 328,65.83" fill="#fff" stroke="#0000ff" stroke-width="0.75"/>
<polygon points="328.37,62.36 325.89,66.65 330.85,66.65" fill="#fff" stroke="#0000ff" stroke-width="0.75"/>
<polygon points="331.21,63.53 328.74,67.82 333.69,67.82" fill="#fff" stroke="#0000ff" stroke-width="0.75"/>
<polygon points="334.06,63.07 331.58,67.35 336.53,67.35" fill="#fff" stroke="#0000ff" stroke-width="0.75"/>
<polygon points="336.9,62.5 334.42,66.79 339.37,66.79" fill="#fff" stroke="#0000ff" stroke-width="0.75"/>
<polygon points="339.74,63.92 337.27,68.21 342.22,68.21" fill="#fff" stroke="#0000ff" stroke-width="0.75"/>
<polygon points="342.58,63.59 340.11,67.88 345.06,67.88" fill="#fff" stroke="#0000ff" stroke-width="0.75"/>
<polygon points="345.43,63.13 342.95,67.42 347.9,67.42" fill="#fff" stroke="#0000ff" stroke-width="0.75"/>
<polygon points="348.27,61.96 345.8,66.25 350.75,66.25" fill="#fff" stroke="#0000ff" stroke-width="0.75"/>
<polygon points="351.11,63.38 348.64,67.66 353.59,67.66" fill="#fff" stroke="#0000ff" stroke-width="0.75"/>
<polygon points="353.96,63.03 351.48,67.32 356.43,67.32" fill="#fff" stroke="#0000ff" stroke-width="0.75"/>
<polygon points="356.8,62.47 354.32,66.76 359.28,66.76" fill="#fff" stroke="#0000ff" stroke-width="0.75"/>
<polygon points="86.72,165.24 83.81,170.26 89.62,170.26" fill="#0000ff"/>
<polygon points="89.56,165.58 86.66,170.6 92.46,170.6" fill="#0000ff"/>
<polygon points="92.4,165.16 89.5,170.19 95.3,170.19" fill="#0000ff"/>
<polygon points="95.24,165.55 92.34,170.57 98.14,170.57" fill="#0000ff"/>
<polygon points="98.09,165.17 95.19,170.19 100.99,170.19" fill="#0000ff"/>
<polygon points="100.93,165.95 98.03,170.97 103.83,170.97" fill="#0000ff"/>
<polygon points="103.77,166.12 100.87,171.14 106.67,171.14" fill="#0000ff"/>
<polygon points="106.62,165.96 103.72,170.98 109.52,170.98" fill="#0000ff"/>
<polygon points="109.46,166.1 106.56,171.12 112.36,171.12" fill="#0000ff"/>
<polygon points="112.3,165.54 109.4,170.56 115.2,170.56" fill="#0000ff"/>
<polygon points="115.14,166.42 112.24,171.44 118.05,171.44" fill="#0000ff"/>
<polygon points="117.99,166.56 115.09,171.59 120.89,171.59" fill="#0000ff"/>
<polygon points="120.83,166.61 117.93,171.63 123.73,171.63" fill="#0000ff"/>
<polygon points="123.67,166.13 120.77,171.15 126.57,171.15" fill="#0000ff"/>
<polygon points="126.52,166.48 123.62,171.51 129.42,171.51" fill="#0000ff"/>
<polygon points="129.36,165.97 126.46,170.99 132.26,170.99" fill="#0000ff"/>
<polygon points="132.2,166.73 129.3,171.75 135.1,171.75" fill="#0000ff"/>
<polygon points="135.05,166.71 132.15,171.74 137.95,171.74" fill="#0000ff"/>
<polygon points="137.89,166.15 134.99,171.18 140.79,171.18" fill="#0000ff"/>
<polygon points="140.73,165.89 137.83,170.91 143.63,170.91" fill="#0000ff"/>
<polygon points="143.57,166.36 140.67,171.39 146.47,171.39" fill="#0000ff"/>
<polygon points="146.42,166.55 143.52,171.57 149.32,171.57" fill="#0000ff"/>
<polygon points="149.26,166.86 146.36,171.88 152.16,171.88" fill="#0000ff"/>
<polygon points="152.1,166.57 149.2,171.59 155,171.59" fill="#0000ff"/>
<polygon points="154.95,166.07 152.05,171.09 157.85,171.09" fill="#0000ff"/>
<polygon points="157.79,167.06 154.89,172.08 160.69,172.08" fill="#0000ff"/>
<polygon points="160.63,166.09 157.73,171.11 163.53,171.11" fill="#0000ff"/>
<polygon points="163.48,166.9 160.58,171.92 166.38,171.92" fill="#0000ff"/>
<polygon points="166.32,166.08 163.42,171.1 169.22,171.1" fill="#0000ff"/>
<polygon points="169.16,166.2 166.26,171.22 172.06,171.22" fill="#0000ff"/>
<polygon points="172,166.67 169.1,171.69 174.91,171.69" fill="#0000ff"/>
<polygon points="174.85,165.82 171.95,170.84 177.75,170.84" fill="#0000ff"/>
<polygon points="177.69,165.76 174.79,170.78 180.59,170.78" fill="#0000ff"/>
<polygon points="180.53,166.13 177.63,171.15 183.43,171.15" fill="#0000ff"/>
<polygon points="183.38,166.3 180.48,171.33 186.28,171.33" fill="#0000ff"/>
<polygon points="186.22,166.37 183.32,171.39 189.12,171.39" fill="#0000ff"/>
<polygon points="189.06,166.12 186.16,171.14 191.96,171.14" fill="#0000ff"/>
<polygon points="191.91,166.35 189.01,171.38 194.81,171.38" fill="#0000ff"/>
<polygon points="194.75,165.74 191.85,170.76 197.65,170.76" fill="#0000ff"/>
<polygon points="197.59,166.21 194.69,171.24 200.49,171.24" fill="#0000ff"/>
<polygon points="200.44,165.11 197.53,170.13 203.34,170.13" fill="#0000ff"/>
<polygon points="203.28,165.2 200.38,170.22 206.18,170.22" fill="#0000ff"/>
<polygon points="206.12,165.49 203.22,170.51 209.02,170.51" fill="#0000ff"/>
<polygon points="208.96,165.13 206.06,170.16 211.86,170.16" fill="#0000ff"/>
<polygon points="211.81,165.66 208.91,170.68 214.71,170.68" fill="#0000ff"/>
<polygon points="214.65,165.55 211.75,170.58 217.55,170.58" fill="#0000ff"/>
<polygon points="217.49,165.41 214.59,170.44 220.39,170.44" fill="#0000ff"/>
<polygon points="220.34,165.8 217.44,170.82 223.24,170.82" fill="#0000ff"/>
<polygon points="223.18,165.46 220.28,170.48 226.08,170.48" fill="#0000ff"/>
<polygon points="226.02,165.16 223.12,170.18 228.92,170.18" fill="#0000ff"/>
<polygon points="228.87,165.24 225.97,170.27 231.77,170.27" fill="#0000ff"/>
<polygon points="231.71,165.8 228.81,170.82 234.61,170.82" fill="#0000ff"/>
<polygon points="234.55,165.87 231.65,170.89 237.45,170.89" fill="#0000ff"/>
<polygon points="237.39,165.04 234.49,170.06 240.29,170.06" fill="#0000ff"/>
<polygon points="240.24,165.81 237.34,170.83 243.14,170.83" fill="#0000ff"/>
<polygon points="243.08,165.95 240.18,170.97 245.98,170.97" fill="#0000ff"/>
<polygon points="245.92,165.41 243.02,170.44 248.82,170.44" fill="#0000ff"/>
<polygon points="248.77,165.47 245.87,170.5 251.67,170.5" fill="#0000ff"/>
<polygon points="251.61,165.03 248.71,170.05 254.51,170.05" fill="#0000ff"/>
<polygon points="254.45,165.43 251.55,170.45 257.35,170.45" fill="#0000ff"/>
<polygon points="257.29,165.39 254.39,170.41 260.19,170.41" fill="#0000ff"/>
<polygon points="260.14,165.51 257.24,170.53 263.04,170.53" fill="#0000ff"/>
<polygon points="262.98,164.82 260.08,169.84 265.88,169.84" fill="#0000ff"/>
<polygon points="265.82,165.95 262.92,170.97 268.72,170.97" fill="#0000ff"/>
<polygon points="268.67,165.41 265.77,170.43 271.57,170.43" fill="#0000ff"/>
<polygon points="271.51,165.27 268.61,170.29 274.41,170.29" fill="#0000ff"/>
<polygon points="274.35,165.81 271.45,170.84 277.25,170.84" fill="#0000ff"/>
<polygon points="277.2,165.59 274.3,170.62 280.1,170.62" fill="#0000ff"/>
<polygon points="280.04,165.58 277.14,170.6 282.94,170.6" fill="#0000ff"/>
<polygon points="282.88,165.88 279.98,170.9 285.78,170.9" fill="#0000ff"/>
<polygon points="285.73,165.2 282.83,170.22 288.62,170.22" fill="#0000ff"/>
<polygon points="288.57,165.83 285.67,170.86 291.47,170.86" fill="#0000ff"/>
<polygon points="291.41,165.75 288.51,170.77 294.31,170.77" fill="#0000ff"/>
<polygon points="294.25,166.47 291.35,171.49 297.15,171.49" fill="#0000ff"/>
<polygon points="297.1,166.49 294.2,171.52 300,171.52" fill="#0000ff"/>
<polygon points="299.94,165.78 297.04,170.8 302.84,170.8" fill="#0000ff"/>
<polygon points="302.78,166.09 299.88,171.11 305.68,171.11" fill="#0000ff"/>
<polygon points="305.63,165.74 302.73,170.76 308.53,170.76" fill="#0000ff"/>
<polygon points="308.47,166.17 305.57,171.2 311.37,171.2" fill="#0000ff"/>
<polygon points="311.31,166.7 308.41,171.72 314.21,171.72" fill="#0000ff"/>
<polygon points="314.15,166.87 311.25,171.89 317.05,171.89" fill="#0000ff"/>
<polygon points="317,166.42 314.1,171.45 319.9,171.45" fill="#0000ff"/>
<polygon points="319.84,166.3 316.94,171.32 322.74,171.32" fill="#0000ff"/>
<polygon points="322.68,166.22 319.78,171.24 325.58,171.24" fill="#0000ff"/>
<polygon points="325.53,166.79 322.63,171.82 328.43,171.82" fill="#0000ff"/>
<polygon points="328.37,167.23 325.47,172.25 331.27,172.25" fill="#0000ff"/>
<polygon points="331.21,166.34 328.31,171.36 334.11,171.36" fill="#0000ff"/>
<polygon points="334.06,167.19 331.16,172.21 336.96,172.21" fill="#0000ff"/>
<polygon points="336.9,166.35 334,171.37 339.8,171.37" fill="#0000ff"/>
<polygon points="339.74,166.62 336.84,171.64 342.64,171.64" fill="#0000ff"/>
<polygon points="342.58,166.73 339.69,171.75 345.48,171.75" fill="#0000ff"/>
<polygon points="345.43,167.34 342.53,172.37 348.33,172.37" fill="#0000ff"/>
<polygon points="348.27,166.97 345.37,172 351.17,172" fill="#0000ff"/>
<polygon points="351.11,167.08 348.21,172.1 354.01,172.1" fill="#0000ff"/>
<polygon points="353.96,167.46 351.06,172.49 356.86,172.49" fill="#0000ff"/>
<polygon points="356.8,166.91 353.9,171.93 359.7,171.93" fill="#0000ff"/>
<polygon points="78.1,122.29 75.2,127.31 81,127.31" fill="#0000ff"/>
<polygon points="81.5,133.79 78.6,138.81 84.4,138.81" fill="#0000ff"/>
<polygon points="83.8,140.09 80.9,145.11 86.7,145.11" fill="#0000ff"/>
<circle cx="86.72" cy="139.05" r="2.6" fill="#ff0000"/>
<circle cx="89.56" cy="141.03" r="2.6" fill="#ff0000"/>
<circle cx="92.4" cy="142.12" r="2.6" fill="#ff0000"/>
<circle cx="95.24" cy="143.44" r="2.6" fill="#ff0000"/>
<circle cx="100.93" cy="140.67" r="2.6" fill="#ff0000"/>
<circle cx="103.77" cy="140.26" r="2.6" fill="#ff0000"/>
<circle cx="106.62" cy="139.86" r="2.6" fill="#ff0000"/>
<circle cx="109.46" cy="139.98" r="2.6" fill="#ff0000"/>
<circle cx="112.3" cy="139.62" r="2.6" fill="#ff0000"/>
<circle cx="115.14" cy="139.78" r="2.6" fill="#ff0000"/>
<circle cx="117.99" cy="139.58" r="2.6" fill="#ff0000"/>
<circle cx="120.83" cy="140.1" r="2.6" fill="#ff0000"/>
<circle cx="123.67" cy="140.1" r="2.6" fill="#ff0000"/>
<circle cx="126.52" cy="139.93" r="2.6" fill="#ff0000"/>
<circle cx="129.36" cy="139.49" r="2.6" fill="#ff0000"/>
<circle cx="132.2" cy="139.41" r="2.6" fill="#ff0000"/>
<circle cx="135.05" cy="140.24" r="2.6" fill="#ff0000"/>
<circle cx="137.89" cy="140.18" r="2.6" fill="#ff0000"/>
<circle cx="140.73" cy="140.07" r="2.6" fill="#ff0000"/>
<circle cx="143.57" cy="139.86" r="2.6" fill="#ff0000"/>
<circle cx="146.42" cy="140.03" r="2.6" fill="#ff0000"/>
<circle cx="149.26" cy="140.71" r="2.6" fill="#ff0000"/>
<circle cx="152.1" cy="140.85" r="2.6" fill="#ff0000"/>
<circle cx="154.95" cy="141.14" r="2.6" fill="#ff0000"/>
<circle cx="157.79" cy="141.44" r="2.6" fill="#ff0000"/>
<circle cx="160.63" cy="141.82" r="2.6" fill="#ff0000"/>
<circle cx="163.48" cy="141.52" r="2.6" fill="#ff0000"/>
<circle cx="166.32" cy="141.84" r="2.6" fill="#ff0000"/>
<circle cx="169.16" cy="142.83" r="2.6" fill="#ff0000"/>
<circle cx="172" cy="143.02" r="2.6" fill="#ff0000"/>
<circle cx="174.85" cy="143.25" r="2.6" fill="#ff0000"/>
<circle cx="177.69" cy="142.67" r="2.6" fill="#ff0000"/>
<circle cx="180.53" cy="142.95" r="2.6" fill="#ff0000"/>
<circle cx="183.38" cy="143.42" r="2.6" fill="#ff0000"/>
<circle cx="186.22" cy="143.84" r="2.6" fill="#ff0000"/>
<circle cx="189.06" cy="144.3" r="2.6" fill="#ff0000"/>
<circle cx="191.91" cy="144.04" r="2.6" fill="#ff0000"/>
<circle cx="194.75" cy="144.74" r="2.6" fill="#ff0000"/>
<circle cx="197.59" cy="144.53" r="2.6" fill="#ff0000"/>
<circle cx="200.44" cy="144.8" r="2.6" fill="#ff0000"/>
<circle cx="203.28" cy="145.65" r="2.6" fill="#ff0000"/>
<circle cx="206.12" cy="145.79" r="2.6" fill="#ff0000"/>
<circle cx="208.96" cy="146.13" r="2.6" fill="#ff0000"/>
<circle cx="211.81" cy="145.98" r="2.6" fill="#ff0000"/>
<circle cx="214.65" cy="146.18" r="2.6" fill="#ff0000"/>
<circle cx="217.49" cy="146.02" r="2.6" fill="#ff0000"/>
<circle cx="220.34" cy="146.25" r="2.6" fill="#ff0000"/>
<circle cx="223.18" cy="146.75" r="2.6" fill="#ff0000"/>
<circle cx="226.02" cy="146.95" r="2.6" fill="#ff0000"/>
<circle cx="228.87" cy="146.29" r="2.6" fill="#ff0000"/>
<circle cx="231.71" cy="146.44" r="2.6" fill="#ff0000"/>
<circle cx="234.55" cy="147.23" r="2.6" fill="#ff0000"/>
<circle cx="237.39" cy="147.14" r="2.6" fill="#ff0000"/>
<circle cx="240.24" cy="147.39" r="2.6" fill="#ff0000"/>
<circle cx="243.08" cy="146.94" r="2.6" fill="#ff0000"/>
<circle cx="245.92" cy="147.25" r="2.6" fill="#ff0000"/>
<circle cx="248.77" cy="147.18" r="2.6" fill="#ff0000"/>
<circle cx="251.61" cy="147.84" r="2.6" fill="#ff0000"/>
<circle cx="254.45" cy="147.5" r="2.6" fill="#ff0000"/>
<circle cx="257.29" cy="147.89" r="2.6" fill="#ff0000"/>
<circle cx="260.14" cy="148.32" r="2.6" fill="#ff0000"/>
<circle cx="262.98" cy="147.76" r="2.6" fill="#ff0000"/>
<circle cx="265.82" cy="148.09" r="2.6" fill="#ff0000"/>
<circle cx="268.67" cy="148.39" r="2.6" fill="#ff0000"/>
<circle cx="271.51" cy="148.66" r="2.6" fill="#ff0000"/>
<circle cx="274.35" cy="148.27" r="2.6" fill="#ff0000"/>
<circle cx="277.2" cy="148.32" r="2.6" fill="#ff0000"/>
<circle cx="280.04" cy="148.15" r="2.6" fill="#ff0000"/>
<circle cx="282.88" cy="149.03" r="2.6" fill="#ff0000"/>
<circle cx="285.73" cy="148.33" r="2.6" fill="#ff0000"/>
<circle cx="288.57" cy="148.44" r="2.6" fill="#ff0000"/>
<circle cx="291.41" cy="149.02" r="2.6" fill="#ff0000"/>
<circle cx="294.25" cy="149.04" r="2.6" fill="#ff0000"/>
<circle cx="297.1" cy="149.34" r="2.6" fill="#ff0000"/>
<circle cx="299.94" cy="149.06" r="2.6" fill="#ff0000"/>
<circle cx="302.78" cy="149.64" r="2.6" fill="#ff0000"/>
<circle cx="305.63" cy="149.04" r="2.6" fill="#ff0000"/>
<circle cx="308.47" cy="149.28" r="2.6" fill="#ff0000"/>
<circle cx="311.31" cy="149.83" r="2.6" fill="#ff0000"/>
<circle cx="314.15" cy="149.35" r="2.6" fill="#ff0000"/>
<circle cx="317" cy="149.68" r="2.6" fill="#ff0000"/>
<circle cx="319.84" cy="150.2" r="2.6" fill="#ff0000"/>
<circle cx="322.68" cy="150.27" r="2.6" fill="#ff0000"/>
<circle cx="325.53" cy="149.96" r="2.6" fill="#ff0000"/>
<circle cx="328.37" cy="149.92" r="2.6" fill="#ff0000"/>
<circle cx="331.21" cy="150.24" r="2.6" fill="#ff0000"/>
<circle cx="334.06" cy="150.71" r="2.6" fill="#ff0000"/>
<circle cx="336.9" cy="150.45" r="2.6" fill="#ff0000"/>
<circle cx="339.74" cy="150.31" r="2.6" fill="#ff0000"/>
<circle cx="342.58" cy="151" r="2.6" fill="#ff0000"/>
<circle cx="345.43" cy="150.96" r="2.6" fill="#ff0000"/>
<circle cx="348.27" cy="151.41" r="2.6" fill="#ff0000"/>
<circle cx="351.11" cy="151.54" r="2.6" fill="#ff0000"/>
<circle cx="353.96" cy="151.61" r="2.6" fill="#ff0000"/>
<circle cx="356.8" cy="151.24" r="2.6" fill="#ff0000"/>
<circle cx="78.1" cy="99.8" r="2.6" fill="#ff0000"/>
<circle cx="84.4" cy="114.4" r="2.6" fill="#ff0000"/>
<circle cx="98.3" cy="151.9" r="2.6" fill="#ff0000"/>
<circle cx="86.72" cy="141.86" r="2.3" fill="#fff" stroke="#ff0000" stroke-width="0.9"/>
<circle cx="89.56" cy="143.57" r="2.3" fill="#fff" stroke="#ff0000" stroke-width="0.9"/>
<circle cx="92.4" cy="144.78" r="2.3" fill="#fff" stroke="#ff0000" stroke-width="0.9"/>
<circle cx="98.09" cy="144.21" r="2.3" fill="#fff" stroke="#ff0000" stroke-width="0.9"/>
<circle cx="100.93" cy="144.52" r="2.3" fill="#fff" stroke="#ff0000" stroke-width="0.9"/>
<circle cx="103.77" cy="144.37" r="2.3" fill="#fff" stroke="#ff0000" stroke-width="0.9"/>
<circle cx="106.62" cy="143.5" r="2.3" fill="#fff" stroke="#ff0000" stroke-width="0.9"/>
<circle cx="109.46" cy="143.53" r="2.3" fill="#fff" stroke="#ff0000" stroke-width="0.9"/>
<circle cx="112.3" cy="143.44" r="2.3" fill="#fff" stroke="#ff0000" stroke-width="0.9"/>
<circle cx="115.14" cy="143.34" r="2.3" fill="#fff" stroke="#ff0000" stroke-width="0.9"/>
<circle cx="117.99" cy="143.42" r="2.3" fill="#fff" stroke="#ff0000" stroke-width="0.9"/>
<circle cx="120.83" cy="143.47" r="2.3" fill="#fff" stroke="#ff0000" stroke-width="0.9"/>
<circle cx="123.67" cy="143.28" r="2.3" fill="#fff" stroke="#ff0000" stroke-width="0.9"/>
<circle cx="126.52" cy="143.78" r="2.3" fill="#fff" stroke="#ff0000" stroke-width="0.9"/>
<circle cx="129.36" cy="144.11" r="2.3" fill="#fff" stroke="#ff0000" stroke-width="0.9"/>
<circle cx="132.2" cy="143.85" r="2.3" fill="#fff" stroke="#ff0000" stroke-width="0.9"/>
<circle cx="135.05" cy="144.25" r="2.3" fill="#fff" stroke="#ff0000" stroke-width="0.9"/>
<circle cx="137.89" cy="143.98" r="2.3" fill="#fff" stroke="#ff0000" stroke-width="0.9"/>
<circle cx="140.73" cy="143.56" r="2.3" fill="#fff" stroke="#ff0000" stroke-width="0.9"/>
<circle cx="143.57" cy="144.31" r="2.3" fill="#fff" stroke="#ff0000" stroke-width="0.9"/>
<circle cx="146.42" cy="144.73" r="2.3" fill="#fff" stroke="#ff0000" stroke-width="0.9"/>
<circle cx="149.26" cy="144.29" r="2.3" fill="#fff" stroke="#ff0000" stroke-width="0.9"/>
<circle cx="152.1" cy="144.25" r="2.3" fill="#fff" stroke="#ff0000" stroke-width="0.9"/>
<circle cx="154.95" cy="145.11" r="2.3" fill="#fff" stroke="#ff0000" stroke-width="0.9"/>
<circle cx="157.79" cy="145.42" r="2.3" fill="#fff" stroke="#ff0000" stroke-width="0.9"/>
<circle cx="160.63" cy="145.72" r="2.3" fill="#fff" stroke="#ff0000" stroke-width="0.9"/>
<circle cx="163.48" cy="146.48" r="2.3" fill="#fff" stroke="#ff0000" stroke-width="0.9"/>
<circle cx="166.32" cy="146.37" r="2.3" fill="#fff" stroke="#ff0000" stroke-width="0.9"/>
<circle cx="169.16" cy="146.83" r="2.3" fill="#fff" stroke="#ff0000" stroke-width="0.9"/>
<circle cx="172" cy="146.22" r="2.3" fill="#fff" stroke="#ff0000" stroke-width="0.9"/>
<circle cx="174.85" cy="147.07" r="2.3" fill="#fff" stroke="#ff0000" stroke-width="0.9"/>
<circle cx="177.69" cy="147.63" r="2.3" fill="#fff" stroke="#ff0000" stroke-width="0.9"/>
<circle cx="180.53" cy="147.06" r="2.3" fill="#fff" stroke="#ff0000" stroke-width="0.9"/>
<circle cx="183.38" cy="147.33" r="2.3" fill="#fff" stroke="#ff0000" stroke-width="0.9"/>
<circle cx="186.22" cy="148.39" r="2.3" fill="#fff" stroke="#ff0000" stroke-width="0.9"/>
<circle cx="189.06" cy="148.86" r="2.3" fill="#fff" stroke="#ff0000" stroke-width="0.9"/>
<circle cx="191.91" cy="148.16" r="2.3" fill="#fff" stroke="#ff0000" stroke-width="0.9"/>
<circle cx="194.75" cy="149.09" r="2.3" fill="#fff" stroke="#ff0000" stroke-width="0.9"/>
<circle cx="197.59" cy="148.78" r="2.3" fill="#fff" stroke="#ff0000" stroke-width="0.9"/>
<circle cx="200.44" cy="149.77" r="2.3" fill="#fff" stroke="#ff0000" stroke-width="0.9"/>
<circle cx="203.28" cy="149.93" r="2.3" fill="#fff" stroke="#ff0000" stroke-width="0.9"/>
<circle cx="206.12" cy="149.72" r="2.3" fill="#fff" stroke="#ff0000" stroke-width="0.9"/>
<circle cx="208.96" cy="149.96" r="2.3" fill="#fff" stroke="#ff0000" stroke-width="0.9"/>
<circle cx="211.81" cy="150.75" r="2.3" fill="#fff" stroke="#ff0000" stroke-width="0.9"/>
<circle cx="214.65" cy="150.58" r="2.3" fill="#fff" stroke="#ff0000" stroke-width="0.9"/>
<circle cx="217.49" cy="151" r="2.3" fill="#fff" stroke="#ff0000" stroke-width="0.9"/>
<circle cx="220.34" cy="150.69" r="2.3" fill="#fff" stroke="#ff0000" stroke-width="0.9"/>
<circle cx="223.18" cy="150.75" r="2.3" fill="#fff" stroke="#ff0000" stroke-width="0.9"/>
<circle cx="226.02" cy="151.64" r="2.3" fill="#fff" stroke="#ff0000" stroke-width="0.9"/>
<circle cx="228.87" cy="151.41" r="2.3" fill="#fff" stroke="#ff0000" stroke-width="0.9"/>
<circle cx="231.71" cy="151.32" r="2.3" fill="#fff" stroke="#ff0000" stroke-width="0.9"/>
<circle cx="234.55" cy="151.5" r="2.3" fill="#fff" stroke="#ff0000" stroke-width="0.9"/>
<circle cx="237.39" cy="151.85" r="2.3" fill="#fff" stroke="#ff0000" stroke-width="0.9"/>
<circle cx="240.24" cy="151.97" r="2.3" fill="#fff" stroke="#ff0000" stroke-width="0.9"/>
<circle cx="243.08" cy="152.34" r="2.3" fill="#fff" stroke="#ff0000" stroke-width="0.9"/>
<circle cx="245.92" cy="151.87" r="2.3" fill="#fff" stroke="#ff0000" stroke-width="0.9"/>
<circle cx="248.77" cy="152.5" r="2.3" fill="#fff" stroke="#ff0000" stroke-width="0.9"/>
<circle cx="251.61" cy="152.43" r="2.3" fill="#fff" stroke="#ff0000" stroke-width="0.9"/>
<circle cx="254.45" cy="152.79" r="2.3" fill="#fff" stroke="#ff0000" stroke-width="0.9"/>
<circle cx="257.29" cy="152.86" r="2.3" fill="#fff" stroke="#ff0000" stroke-width="0.9"/>
<circle cx="260.14" cy="153.02" r="2.3" fill="#fff" stroke="#ff0000" stroke-width="0.9"/>
<circle cx="262.98" cy="153.21" r="2.3" fill="#fff" stroke="#ff0000" stroke-width="0.9"/>
<circle cx="265.82" cy="153.43" r="2.3" fill="#fff" stroke="#ff0000" stroke-width="0.9"/>
<circle cx="268.67" cy="153.17" r="2.3" fill="#fff" stroke="#ff0000" stroke-width="0.9"/>
<circle cx="271.51" cy="153.16" r="2.3" fill="#fff" stroke="#ff0000" stroke-width="0.9"/>
<circle cx="274.35" cy="153.52" r="2.3" fill="#fff" stroke="#ff0000" stroke-width="0.9"/>
<circle cx="277.2" cy="153.76" r="2.3" fill="#fff" stroke="#ff0000" stroke-width="0.9"/>
<circle cx="280.04" cy="153.43" r="2.3" fill="#fff" stroke="#ff0000" stroke-width="0.9"/>
<circle cx="282.88" cy="153.55" r="2.3" fill="#fff" stroke="#ff0000" stroke-width="0.9"/>
<circle cx="285.73" cy="153.35" r="2.3" fill="#fff" stroke="#ff0000" stroke-width="0.9"/>
<circle cx="288.57" cy="154.2" r="2.3" fill="#fff" stroke="#ff0000" stroke-width="0.9"/>
<circle cx="291.41" cy="154.63" r="2.3" fill="#fff" stroke="#ff0000" stroke-width="0.9"/>
<circle cx="294.25" cy="154.02" r="2.3" fill="#fff" stroke="#ff0000" stroke-width="0.9"/>
<circle cx="297.1" cy="153.9" r="2.3" fill="#fff" stroke="#ff0000" stroke-width="0.9"/>
<circle cx="299.94" cy="154.07" r="2.3" fill="#fff" stroke="#ff0000" stroke-width="0.9"/>
<circle cx="302.78" cy="154.46" r="2.3" fill="#fff" stroke="#ff0000" stroke-width="0.9"/>
<circle cx="305.63" cy="154.43" r="2.3" fill="#fff" stroke="#ff0000" stroke-width="0.9"/>
<circle cx="308.47" cy="155.37" r="2.3" fill="#fff" stroke="#ff0000" stroke-width="0.9"/>
<circle cx="311.31" cy="154.41" r="2.3" fill="#fff" stroke="#ff0000" stroke-width="0.9"/>
<circle cx="314.15" cy="154.84" r="2.3" fill="#fff" stroke="#ff0000" stroke-width="0.9"/>
<circle cx="317" cy="154.73" r="2.3" fill="#fff" stroke="#ff0000" stroke-width="0.9"/>
<circle cx="319.84" cy="155.5" r="2.3" fill="#fff" stroke="#ff0000" stroke-width="0.9"/>
<circle cx="322.68" cy="155.78" r="2.3" fill="#fff" stroke="#ff0000" stroke-width="0.9"/>
<circle cx="325.53" cy="155.2" r="2.3" fill="#fff" stroke="#ff0000" stroke-width="0.9"/>
<circle cx="328.37" cy="155.19" r="2.3" fill="#fff" stroke="#ff0000" stroke-width="0.9"/>
<circle cx="331.21" cy="155.79" r="2.3" fill="#fff" stroke="#ff0000" stroke-width="0.9"/>
<circle cx="334.06" cy="156.07" r="2.3" fill="#fff" stroke="#ff0000" stroke-width="0.9"/>
<circle cx="336.9" cy="156.59" r="2.3" fill="#fff" stroke="#ff0000" stroke-width="0.9"/>
<circle cx="339.74" cy="155.67" r="2.3" fill="#fff" stroke="#ff0000" stroke-width="0.9"/>
<circle cx="342.58" cy="155.89" r="2.3" fill="#fff" stroke="#ff0000" stroke-width="0.9"/>
<circle cx="345.43" cy="156.11" r="2.3" fill="#fff" stroke="#ff0000" stroke-width="0.9"/>
<circle cx="348.27" cy="156.27" r="2.3" fill="#fff" stroke="#ff0000" stroke-width="0.9"/>
<circle cx="351.11" cy="156.42" r="2.3" fill="#fff" stroke="#ff0000" stroke-width="0.9"/>
<circle cx="353.96" cy="157.13" r="2.3" fill="#fff" stroke="#ff0000" stroke-width="0.9"/>
<circle cx="356.8" cy="157.11" r="2.3" fill="#fff" stroke="#ff0000" stroke-width="0.9"/>
<circle cx="78.1" cy="109.2" r="2.3" fill="#fff" stroke="#ff0000" stroke-width="0.9"/>
<circle cx="81" cy="113.8" r="2.3" fill="#fff" stroke="#ff0000" stroke-width="0.9"/>
<circle cx="83.8" cy="136.9" r="2.3" fill="#fff" stroke="#ff0000" stroke-width="0.9"/>
<circle cx="94.8" cy="151.9" r="2.3" fill="#fff" stroke="#ff0000" stroke-width="0.9"/>
<circle cx="86.72" cy="57.45" r="2.38" fill="#fff" stroke="#ff0000" stroke-width="0.75"/>
<circle cx="89.56" cy="55.37" r="2.38" fill="#fff" stroke="#ff0000" stroke-width="0.75"/>
<circle cx="92.4" cy="56.56" r="2.38" fill="#fff" stroke="#ff0000" stroke-width="0.75"/>
<circle cx="95.24" cy="56.18" r="2.38" fill="#fff" stroke="#ff0000" stroke-width="0.75"/>
<circle cx="100.93" cy="57.02" r="2.38" fill="#fff" stroke="#ff0000" stroke-width="0.75"/>
<circle cx="103.77" cy="56.17" r="2.38" fill="#fff" stroke="#ff0000" stroke-width="0.75"/>
<circle cx="106.62" cy="56.7" r="2.38" fill="#fff" stroke="#ff0000" stroke-width="0.75"/>
<circle cx="109.46" cy="57.28" r="2.38" fill="#fff" stroke="#ff0000" stroke-width="0.75"/>
<circle cx="112.3" cy="56.66" r="2.38" fill="#fff" stroke="#ff0000" stroke-width="0.75"/>
<circle cx="115.14" cy="56.27" r="2.38" fill="#fff" stroke="#ff0000" stroke-width="0.75"/>
<circle cx="117.99" cy="57.57" r="2.38" fill="#fff" stroke="#ff0000" stroke-width="0.75"/>
<circle cx="120.83" cy="57.68" r="2.38" fill="#fff" stroke="#ff0000" stroke-width="0.75"/>
<circle cx="123.67" cy="56.58" r="2.38" fill="#fff" stroke="#ff0000" stroke-width="0.75"/>
<circle cx="126.52" cy="57.04" r="2.38" fill="#fff" stroke="#ff0000" stroke-width="0.75"/>
<circle cx="129.36" cy="57.91" r="2.38" fill="#fff" stroke="#ff0000" stroke-width="0.75"/>
<circle cx="132.2" cy="57.02" r="2.38" fill="#fff" stroke="#ff0000" stroke-width="0.75"/>
<circle cx="135.05" cy="56.54" r="2.38" fill="#fff" stroke="#ff0000" stroke-width="0.75"/>
<circle cx="137.89" cy="56.25" r="2.38" fill="#fff" stroke="#ff0000" stroke-width="0.75"/>
<circle cx="140.73" cy="58.1" r="2.38" fill="#fff" stroke="#ff0000" stroke-width="0.75"/>
<circle cx="143.57" cy="57.85" r="2.38" fill="#fff" stroke="#ff0000" stroke-width="0.75"/>
<circle cx="146.42" cy="57.07" r="2.38" fill="#fff" stroke="#ff0000" stroke-width="0.75"/>
<circle cx="149.26" cy="57.41" r="2.38" fill="#fff" stroke="#ff0000" stroke-width="0.75"/>
<circle cx="152.1" cy="57.43" r="2.38" fill="#fff" stroke="#ff0000" stroke-width="0.75"/>
<circle cx="154.95" cy="57" r="2.38" fill="#fff" stroke="#ff0000" stroke-width="0.75"/>
<circle cx="157.79" cy="58.48" r="2.38" fill="#fff" stroke="#ff0000" stroke-width="0.75"/>
<circle cx="160.63" cy="57.98" r="2.38" fill="#fff" stroke="#ff0000" stroke-width="0.75"/>
<circle cx="163.48" cy="57.31" r="2.38" fill="#fff" stroke="#ff0000" stroke-width="0.75"/>
<circle cx="166.32" cy="57.02" r="2.38" fill="#fff" stroke="#ff0000" stroke-width="0.75"/>
<circle cx="169.16" cy="58.11" r="2.38" fill="#fff" stroke="#ff0000" stroke-width="0.75"/>
<circle cx="172" cy="58.08" r="2.38" fill="#fff" stroke="#ff0000" stroke-width="0.75"/>
<circle cx="174.85" cy="59.09" r="2.38" fill="#fff" stroke="#ff0000" stroke-width="0.75"/>
<circle cx="177.69" cy="59.09" r="2.38" fill="#fff" stroke="#ff0000" stroke-width="0.75"/>
<circle cx="180.53" cy="59.05" r="2.38" fill="#fff" stroke="#ff0000" stroke-width="0.75"/>
<circle cx="183.38" cy="58.31" r="2.38" fill="#fff" stroke="#ff0000" stroke-width="0.75"/>
<circle cx="186.22" cy="58.48" r="2.38" fill="#fff" stroke="#ff0000" stroke-width="0.75"/>
<circle cx="189.06" cy="58.98" r="2.38" fill="#fff" stroke="#ff0000" stroke-width="0.75"/>
<circle cx="191.91" cy="59.02" r="2.38" fill="#fff" stroke="#ff0000" stroke-width="0.75"/>
<circle cx="194.75" cy="60.41" r="2.38" fill="#fff" stroke="#ff0000" stroke-width="0.75"/>
<circle cx="197.59" cy="59.87" r="2.38" fill="#fff" stroke="#ff0000" stroke-width="0.75"/>
<circle cx="200.44" cy="60.27" r="2.38" fill="#fff" stroke="#ff0000" stroke-width="0.75"/>
<circle cx="203.28" cy="61.15" r="2.38" fill="#fff" stroke="#ff0000" stroke-width="0.75"/>
<circle cx="206.12" cy="59.87" r="2.38" fill="#fff" stroke="#ff0000" stroke-width="0.75"/>
<circle cx="208.96" cy="60.57" r="2.38" fill="#fff" stroke="#ff0000" stroke-width="0.75"/>
<circle cx="211.81" cy="59.9" r="2.38" fill="#fff" stroke="#ff0000" stroke-width="0.75"/>
<circle cx="214.65" cy="61.23" r="2.38" fill="#fff" stroke="#ff0000" stroke-width="0.75"/>
<circle cx="217.49" cy="59.79" r="2.38" fill="#fff" stroke="#ff0000" stroke-width="0.75"/>
<circle cx="220.34" cy="61.52" r="2.38" fill="#fff" stroke="#ff0000" stroke-width="0.75"/>
<circle cx="223.18" cy="61.66" r="2.38" fill="#fff" stroke="#ff0000" stroke-width="0.75"/>
<circle cx="226.02" cy="61.71" r="2.38" fill="#fff" stroke="#ff0000" stroke-width="0.75"/>
<circle cx="228.87" cy="60.32" r="2.38" fill="#fff" stroke="#ff0000" stroke-width="0.75"/>
<circle cx="231.71" cy="60.79" r="2.38" fill="#fff" stroke="#ff0000" stroke-width="0.75"/>
<circle cx="234.55" cy="61.78" r="2.38" fill="#fff" stroke="#ff0000" stroke-width="0.75"/>
<circle cx="237.39" cy="60.64" r="2.38" fill="#fff" stroke="#ff0000" stroke-width="0.75"/>
<circle cx="240.24" cy="61.5" r="2.38" fill="#fff" stroke="#ff0000" stroke-width="0.75"/>
<circle cx="243.08" cy="61.57" r="2.38" fill="#fff" stroke="#ff0000" stroke-width="0.75"/>
<circle cx="245.92" cy="62.64" r="2.38" fill="#fff" stroke="#ff0000" stroke-width="0.75"/>
<circle cx="248.77" cy="61.99" r="2.38" fill="#fff" stroke="#ff0000" stroke-width="0.75"/>
<circle cx="251.61" cy="62.63" r="2.38" fill="#fff" stroke="#ff0000" stroke-width="0.75"/>
<circle cx="254.45" cy="61.61" r="2.38" fill="#fff" stroke="#ff0000" stroke-width="0.75"/>
<circle cx="257.29" cy="62.68" r="2.38" fill="#fff" stroke="#ff0000" stroke-width="0.75"/>
<circle cx="260.14" cy="62.03" r="2.38" fill="#fff" stroke="#ff0000" stroke-width="0.75"/>
<circle cx="262.98" cy="63.12" r="2.38" fill="#fff" stroke="#ff0000" stroke-width="0.75"/>
<circle cx="265.82" cy="61.57" r="2.38" fill="#fff" stroke="#ff0000" stroke-width="0.75"/>
<circle cx="268.67" cy="63.13" r="2.38" fill="#fff" stroke="#ff0000" stroke-width="0.75"/>
<circle cx="271.51" cy="61.99" r="2.38" fill="#fff" stroke="#ff0000" stroke-width="0.75"/>
<circle cx="274.35" cy="62.75" r="2.38" fill="#fff" stroke="#ff0000" stroke-width="0.75"/>
<circle cx="277.2" cy="62.81" r="2.38" fill="#fff" stroke="#ff0000" stroke-width="0.75"/>
<circle cx="280.04" cy="62.17" r="2.38" fill="#fff" stroke="#ff0000" stroke-width="0.75"/>
<circle cx="282.88" cy="63.61" r="2.38" fill="#fff" stroke="#ff0000" stroke-width="0.75"/>
<circle cx="285.73" cy="62.67" r="2.38" fill="#fff" stroke="#ff0000" stroke-width="0.75"/>
<circle cx="288.57" cy="62.76" r="2.38" fill="#fff" stroke="#ff0000" stroke-width="0.75"/>
<circle cx="291.41" cy="62.38" r="2.38" fill="#fff" stroke="#ff0000" stroke-width="0.75"/>
<circle cx="294.25" cy="62.94" r="2.38" fill="#fff" stroke="#ff0000" stroke-width="0.75"/>
<circle cx="297.1" cy="63.36" r="2.38" fill="#fff" stroke="#ff0000" stroke-width="0.75"/>
<circle cx="299.94" cy="63.95" r="2.38" fill="#fff" stroke="#ff0000" stroke-width="0.75"/>
<circle cx="302.78" cy="63.33" r="2.38" fill="#fff" stroke="#ff0000" stroke-width="0.75"/>
<circle cx="305.63" cy="64.08" r="2.38" fill="#fff" stroke="#ff0000" stroke-width="0.75"/>
<circle cx="308.47" cy="63.01" r="2.38" fill="#fff" stroke="#ff0000" stroke-width="0.75"/>
<circle cx="311.31" cy="63.68" r="2.38" fill="#fff" stroke="#ff0000" stroke-width="0.75"/>
<circle cx="314.15" cy="63.91" r="2.38" fill="#fff" stroke="#ff0000" stroke-width="0.75"/>
<circle cx="317" cy="65.01" r="2.38" fill="#fff" stroke="#ff0000" stroke-width="0.75"/>
<circle cx="319.84" cy="64.83" r="2.38" fill="#fff" stroke="#ff0000" stroke-width="0.75"/>
<circle cx="322.68" cy="64.58" r="2.38" fill="#fff" stroke="#ff0000" stroke-width="0.75"/>
<circle cx="325.53" cy="63.39" r="2.38" fill="#fff" stroke="#ff0000" stroke-width="0.75"/>
<circle cx="328.37" cy="64.21" r="2.38" fill="#fff" stroke="#ff0000" stroke-width="0.75"/>
<circle cx="331.21" cy="64.97" r="2.38" fill="#fff" stroke="#ff0000" stroke-width="0.75"/>
<circle cx="334.06" cy="64.12" r="2.38" fill="#fff" stroke="#ff0000" stroke-width="0.75"/>
<circle cx="336.9" cy="64.87" r="2.38" fill="#fff" stroke="#ff0000" stroke-width="0.75"/>
<circle cx="339.74" cy="64.75" r="2.38" fill="#fff" stroke="#ff0000" stroke-width="0.75"/>
<circle cx="342.58" cy="63.95" r="2.38" fill="#fff" stroke="#ff0000" stroke-width="0.75"/>
<circle cx="345.43" cy="66.01" r="2.38" fill="#fff" stroke="#ff0000" stroke-width="0.75"/>
<circle cx="348.27" cy="65.72" r="2.38" fill="#fff" stroke="#ff0000" stroke-width="0.75"/>
<circle cx="351.11" cy="64.62" r="2.38" fill="#fff" stroke="#ff0000" stroke-width="0.75"/>
<circle cx="353.96" cy="65.54" r="2.38" fill="#fff" stroke="#ff0000" stroke-width="0.75"/>
<circle cx="356.8" cy="64.98" r="2.38" fill="#fff" stroke="#ff0000" stroke-width="0.75"/>
<circle cx="75.2" cy="86.1" r="2.38" fill="#fff" stroke="#ff0000" stroke-width="0.75"/>
<circle cx="77" cy="66.6" r="2.38" fill="#fff" stroke="#ff0000" stroke-width="0.75"/>
<circle cx="79.8" cy="58.6" r="2.38" fill="#fff" stroke="#ff0000" stroke-width="0.75"/>
<circle cx="82.9" cy="87.9" r="2.38" fill="#fff" stroke="#ff0000" stroke-width="0.75"/>
<circle cx="94.4" cy="69.5" r="2.38" fill="#fff" stroke="#ff0000" stroke-width="0.75"/>
<circle cx="97.2" cy="39.5" r="2.38" fill="#fff" stroke="#ff0000" stroke-width="0.75"/>
<rect x="98.3" y="83.5" width="5" height="5" fill="#808000"/>
<rect x="229.88" y="83.58" width="4.85" height="4.85" fill="#fff" stroke="#808000" stroke-width="0.75"/>
<text x="114.4" y="89.5" font-size="10.3" font-family="Liberation Serif" font-weight="bold" fill="#808000" stroke="#808000" text-anchor="start">NiS/NCF (charge)</text>
<text x="245.8" y="89.5" font-size="10.1" font-family="Liberation Serif" font-weight="bold" fill="#808000" stroke="#808000" text-anchor="start">NiS/NCF (discharge)</text>
<polygon points="100.8,101.01 97.55,106.64 104.05,106.64" fill="#0000ff"/>
<polygon points="231.6,101.41 228.72,106.39 234.47,106.39" fill="#fff" stroke="#0000ff" stroke-width="0.75"/>
<text x="114.4" y="108" font-size="10.3" font-family="Liberation Serif" font-weight="bold" fill="#0000ff" stroke="#0000ff" text-anchor="start">Ni/NCF&#160;&#160;(charge)</text>
<text x="245.8" y="108" font-size="10.1" font-family="Liberation Serif" font-weight="bold" fill="#0000ff" stroke="#0000ff" text-anchor="start">Ni/NCF (discharge)</text>
<circle cx="100.8" cy="123.7" r="2.8" fill="#ff0000"/>
<circle cx="230.4" cy="123.7" r="2.62" fill="#fff" stroke="#ff0000" stroke-width="0.75"/>
<text x="114.4" y="127.2" font-size="10.3" font-family="Liberation Serif" font-weight="bold" fill="#ff0000" stroke="#ff0000" text-anchor="start">Ni-NiS/NCF (charge)</text>
<text x="244.1" y="127.2" font-size="10.1" font-family="Liberation Serif" font-weight="bold" fill="#ff0000" stroke="#ff0000" text-anchor="start">Ni-NiS/NCF (discharge)</text>
<line x1="72.5" y1="35.2" x2="356.8" y2="35.2" stroke="#000000" stroke-width="1.5"/>
<line x1="72.5" y1="34.45" x2="72.5" y2="245.25" stroke="#000000" stroke-width="1.5"/>
<line x1="72.5" y1="244.5" x2="356.8" y2="244.5" stroke="#000000" stroke-width="1.5"/>
<line x1="356.8" y1="34.45" x2="356.8" y2="245.25" stroke="#ff0000" stroke-width="1.5"/>
<line x1="68" y1="244.5" x2="72.5" y2="244.5" stroke="#000000" stroke-width="1.4"/>
<line x1="68" y1="206.6" x2="72.5" y2="206.6" stroke="#000000" stroke-width="1.4"/>
<line x1="68" y1="168.7" x2="72.5" y2="168.7" stroke="#000000" stroke-width="1.4"/>
<line x1="68" y1="130.8" x2="72.5" y2="130.8" stroke="#000000" stroke-width="1.4"/>
<line x1="68" y1="92.9" x2="72.5" y2="92.9" stroke="#000000" stroke-width="1.4"/>
<line x1="68" y1="55" x2="72.5" y2="55" stroke="#000000" stroke-width="1.4"/>
<line x1="70" y1="225.55" x2="72.5" y2="225.55" stroke="#000000" stroke-width="1.4"/>
<line x1="70" y1="187.65" x2="72.5" y2="187.65" stroke="#000000" stroke-width="1.4"/>
<line x1="70" y1="149.75" x2="72.5" y2="149.75" stroke="#000000" stroke-width="1.4"/>
<line x1="70" y1="111.85" x2="72.5" y2="111.85" stroke="#000000" stroke-width="1.4"/>
<line x1="70" y1="73.95" x2="72.5" y2="73.95" stroke="#000000" stroke-width="1.4"/>
<line x1="70" y1="36.05" x2="72.5" y2="36.05" stroke="#000000" stroke-width="1.4"/>
<line x1="72.5" y1="244.5" x2="72.5" y2="249" stroke="#000000" stroke-width="1.4"/>
<line x1="129.36" y1="244.5" x2="129.36" y2="249" stroke="#000000" stroke-width="1.4"/>
<line x1="186.22" y1="244.5" x2="186.22" y2="249" stroke="#000000" stroke-width="1.4"/>
<line x1="243.08" y1="244.5" x2="243.08" y2="249" stroke="#000000" stroke-width="1.4"/>
<line x1="299.94" y1="244.5" x2="299.94" y2="249" stroke="#000000" stroke-width="1.4"/>
<line x1="356.8" y1="244.5" x2="356.8" y2="249" stroke="#000000" stroke-width="1.4"/>
<line x1="100.93" y1="244.5" x2="100.93" y2="247" stroke="#000000" stroke-width="1.4"/>
<line x1="157.79" y1="244.5" x2="157.79" y2="247" stroke="#000000" stroke-width="1.4"/>
<line x1="214.65" y1="244.5" x2="214.65" y2="247" stroke="#000000" stroke-width="1.4"/>
<line x1="271.51" y1="244.5" x2="271.51" y2="247" stroke="#000000" stroke-width="1.4"/>
<line x1="328.37" y1="244.5" x2="328.37" y2="247" stroke="#000000" stroke-width="1.4"/>
<line x1="351.8" y1="244.5" x2="356.8" y2="244.5" stroke="#ff0000" stroke-width="1.4"/>
<line x1="351.8" y1="206.6" x2="356.8" y2="206.6" stroke="#ff0000" stroke-width="1.4"/>
<line x1="351.8" y1="168.7" x2="356.8" y2="168.7" stroke="#ff0000" stroke-width="1.4"/>
<line x1="351.8" y1="130.8" x2="356.8" y2="130.8" stroke="#ff0000" stroke-width="1.4"/>
<line x1="351.8" y1="92.9" x2="356.8" y2="92.9" stroke="#ff0000" stroke-width="1.4"/>
<line x1="351.8" y1="55" x2="356.8" y2="55" stroke="#ff0000" stroke-width="1.4"/>
<line x1="353.8" y1="225.55" x2="356.8" y2="225.55" stroke="#ff0000" stroke-width="1.4"/>
<line x1="353.8" y1="187.65" x2="356.8" y2="187.65" stroke="#ff0000" stroke-width="1.4"/>
<line x1="353.8" y1="149.75" x2="356.8" y2="149.75" stroke="#ff0000" stroke-width="1.4"/>
<line x1="353.8" y1="111.85" x2="356.8" y2="111.85" stroke="#ff0000" stroke-width="1.4"/>
<line x1="353.8" y1="73.95" x2="356.8" y2="73.95" stroke="#ff0000" stroke-width="1.4"/>
<line x1="353.8" y1="36.05" x2="356.8" y2="36.05" stroke="#ff0000" stroke-width="1.4"/>
<text x="65.2" y="248.7" font-size="16.4" font-family="Liberation Serif" font-weight="bold" fill="#000000" stroke="#000000" text-anchor="end">0</text>
<text x="65.2" y="210.8" font-size="16.4" font-family="Liberation Serif" font-weight="bold" fill="#000000" stroke="#000000" text-anchor="end">400</text>
<text x="65.2" y="172.9" font-size="16.4" font-family="Liberation Serif" font-weight="bold" fill="#000000" stroke="#000000" text-anchor="end">800</text>
<text x="65.2" y="135" font-size="16.4" font-family="Liberation Serif" font-weight="bold" fill="#000000" stroke="#000000" text-anchor="end">1200</text>
<text x="65.2" y="97.1" font-size="16.4" font-family="Liberation Serif" font-weight="bold" fill="#000000" stroke="#000000" text-anchor="end">1600</text>
<text x="65.2" y="59.2" font-size="16.4" font-family="Liberation Serif" font-weight="bold" fill="#000000" stroke="#000000" text-anchor="end">2000</text>
<text x="72.5" y="264.6" font-size="16.4" font-family="Liberation Serif" font-weight="bold" fill="#000000" stroke="#000000" text-anchor="middle">0</text>
<text x="129.36" y="264.6" font-size="16.4" font-family="Liberation Serif" font-weight="bold" fill="#000000" stroke="#000000" text-anchor="middle">20</text>
<text x="186.22" y="264.6" font-size="16.4" font-family="Liberation Serif" font-weight="bold" fill="#000000" stroke="#000000" text-anchor="middle">40</text>
<text x="243.08" y="264.6" font-size="16.4" font-family="Liberation Serif" font-weight="bold" fill="#000000" stroke="#000000" text-anchor="middle">60</text>
<text x="299.94" y="264.6" font-size="16.4" font-family="Liberation Serif" font-weight="bold" fill="#000000" stroke="#000000" text-anchor="middle">80</text>
<text x="356.8" y="264.6" font-size="16.4" font-family="Liberation Serif" font-weight="bold" fill="#000000" stroke="#000000" text-anchor="middle">100</text>
<text x="362" y="249.8" font-size="16.0" font-family="Liberation Serif" font-weight="bold" fill="#ff0000" stroke="#ff0000" text-anchor="start">0</text>
<text x="362" y="211.9" font-size="16.0" font-family="Liberation Serif" font-weight="bold" fill="#ff0000" stroke="#ff0000" text-anchor="start">20</text>
<text x="362" y="174" font-size="16.0" font-family="Liberation Serif" font-weight="bold" fill="#ff0000" stroke="#ff0000" text-anchor="start">40</text>
<text x="362" y="136.1" font-size="16.0" font-family="Liberation Serif" font-weight="bold" fill="#ff0000" stroke="#ff0000" text-anchor="start">60</text>
<text x="362" y="98.2" font-size="16.0" font-family="Liberation Serif" font-weight="bold" fill="#ff0000" stroke="#ff0000" text-anchor="start">80</text>
<text x="362" y="60.3" font-size="16.0" font-family="Liberation Serif" font-weight="bold" fill="#ff0000" stroke="#ff0000" text-anchor="start">100</text>
<text x="215" y="287" font-size="16.8" font-family="Liberation Serif" font-weight="bold" fill="#000000" stroke="#000000" text-anchor="middle">Cycle number</text>
<text x="19.6" y="159.5" font-size="16.9" font-family="Liberation Serif" font-weight="bold" fill="#000000" stroke="#000000" text-anchor="middle" transform="rotate(-90 19.6 159.5)">Specific Capacity (mAh/g)</text>
<text x="400.6" y="141.5" font-size="16.9" font-family="Liberation Serif" font-weight="bold" fill="#ff0000" stroke="#ff0000" text-anchor="middle" transform="rotate(-90 400.6 141.5)">Coulombic efficiency (%)</text>
<text x="6.8" y="24.6" font-size="24.3" font-family="Liberation Serif" font-weight="bold" fill="#000000" stroke="#000000" text-anchor="start">(a)</text>
<text x="87.6" y="218" font-size="16.3" font-family="Liberation Serif" font-weight="bold" fill="#000" stroke="#000">S = 1.8 mg cm<tspan x="186.3" font-size="10" dy="-8.8">-2</tspan><tspan x="199.5" dy="8.8">0.5C</tspan></text>
<clipPath id="cb"><rect x="480.2" y="33.4" width="279.8" height="209.1"/></clipPath>
<g clip-path="url(#cb)">
<path d="M480.5,102.4 C480.95,103.15 481.78,105.6 483.2,106.9 C484.62,108.2 485.87,109.05 489,110.2 C492.13,111.35 498.2,112.78 502,113.8 C505.8,114.82 508.53,115.23 511.8,116.3 C515.07,117.37 519.37,119.17 521.6,120.2 C523.83,121.23 520.08,117.02 525.2,122.5 C530.32,127.98 544.5,147.38 552.3,153.1 C560.1,158.82 565.23,155.58 572,156.8 C578.77,158.02 588.23,159.45 592.9,160.4 C597.57,161.35 596.55,161.22 600,162.5 C603.45,163.78 610.27,166.85 613.6,168.1 C616.93,169.35 617.63,168.82 620,170 C622.37,171.18 625.62,173.78 627.8,175.2 C629.98,176.62 631.15,177.2 633.1,178.5 C635.05,179.8 637.35,181.17 639.5,183 C641.65,184.83 643.82,187.12 646,189.5 C648.18,191.88 650.63,193.83 652.6,197.3 C654.57,200.77 655.97,205.42 657.8,210.3 C659.63,215.18 662.63,223.88 663.6,226.6" fill="none" stroke="#808000" stroke-width="1.9" stroke-linejoin="round" stroke-linecap="round"/>
<path d="M480.5,118.8 C480.83,118.47 481.62,116.8 482.5,116.8 C483.38,116.8 484.17,118.15 485.8,118.8 C487.43,119.45 489.6,120.38 492.3,120.7 C495,121.02 498.22,121.07 502,120.7 C505.78,120.33 511,119.37 515,118.5 C519,117.63 518.22,117.33 526,115.5 C533.78,113.67 549.37,109.62 561.7,107.5 C574.03,105.38 590.28,103.88 600,102.8 C609.72,101.72 612.32,101.65 620,101 C627.68,100.35 640.02,99.67 646.1,98.9 C652.18,98.13 653.9,97.68 656.5,96.4 C659.1,95.12 660.28,93.37 661.7,91.2 C663.12,89.03 664.03,87.1 665,83.4 C665.97,79.7 666.75,74.65 667.5,69 C668.25,63.35 668.88,55.5 669.5,49.5 C670.12,43.5 670.92,35.75 671.2,33" fill="none" stroke="#808000" stroke-width="1.9" stroke-linejoin="round" stroke-linecap="round"/>
<path d="M480.5,103.5 C481.17,103.98 482,105.37 484.5,106.4 C487,107.43 492.03,108.67 495.5,109.7 C498.97,110.73 502.9,111.73 505.3,112.6 C507.7,113.47 508.48,113.98 509.9,114.9 C511.32,115.82 512.72,116.8 513.8,118.1 C514.88,119.4 515.37,121.03 516.4,122.7 C517.43,124.37 518.4,125.38 520,128.1 C521.6,130.82 523.57,134.83 526,139 C528.43,143.17 532.3,150.57 534.6,153.1 C536.9,155.63 536.68,154.02 539.8,154.2 C542.92,154.38 546.18,154.3 553.3,154.2 C560.42,154.1 575.72,153.67 582.5,153.6 C589.28,153.53 591.08,153.53 594,153.8 C596.92,154.07 597.83,154.67 600,155.2 C602.17,155.73 604.3,155.5 607,157 C609.7,158.5 614.03,162.4 616.2,164.2 C618.37,166 618.48,165.92 620,167.8 C621.52,169.68 623.97,173.38 625.3,175.5 C626.63,177.62 626.7,178 628,180.5 C629.3,183 631.83,188.08 633.1,190.5 C634.37,192.92 634.32,192.13 635.6,195 C636.88,197.87 638.85,202.43 640.8,207.7 C642.75,212.97 646.22,223.45 647.3,226.6" fill="none" stroke="#0000ff" stroke-width="1.9" stroke-linejoin="round" stroke-linecap="round"/>
<path d="M480.5,122 C480.95,121.78 482.32,120.48 483.2,120.7 C484.08,120.92 484.62,122.53 485.8,123.3 C486.98,124.07 488.13,124.97 490.3,125.3 C492.47,125.63 495.75,125.63 498.8,125.3 C501.85,124.97 505.35,124.17 508.6,123.3 C511.85,122.43 515.4,121.07 518.3,120.1 C521.2,119.13 518.77,119.72 526,117.5 C533.23,115.28 549.37,109.45 561.7,106.8 C574.03,104.15 592.45,102.67 600,101.6 C607.55,100.53 603.67,100.83 607,100.4 C610.33,99.97 615.65,99.47 620,99 C624.35,98.53 629.85,98.13 633.1,97.6 C636.35,97.07 637.67,96.65 639.5,95.8 C641.33,94.95 642.9,94.35 644.1,92.5 C645.3,90.65 646.05,88.62 646.7,84.7 C647.35,80.78 647.57,74.87 648,69 C648.43,63.13 648.92,55.5 649.3,49.5 C649.68,43.5 650.13,35.75 650.3,33" fill="none" stroke="#0000ff" stroke-width="1.9" stroke-linejoin="round" stroke-linecap="round"/>
<path d="M480.4,102 C480.87,102.78 481.77,105.37 483.2,106.7 C484.63,108.03 485.87,108.85 489,110 C492.13,111.15 498.2,112.57 502,113.6 C505.8,114.63 508.53,115.12 511.8,116.2 C515.07,117.28 519.37,119.07 521.6,120.1 C523.83,121.13 520.08,116.9 525.2,122.4 C530.32,127.9 546.22,147.8 552.3,153.1 C558.38,158.4 553.75,153.72 561.7,154.2 C569.65,154.68 589.18,155.53 600,156 C610.82,156.47 621.1,156.73 626.6,157 C632.1,157.27 629.77,157.07 633,157.6 C636.23,158.13 641.67,158.9 646,160.2 C650.33,161.5 655.33,163.87 659,165.4 C662.67,166.93 665.38,167.98 668,169.4 C670.62,170.82 671.85,171.2 674.7,173.9 C677.55,176.6 681.2,180.83 685.1,185.6 C689,190.37 695.07,198.17 698.1,202.5 C701.13,206.83 700.92,207.58 703.3,211.6 C705.68,215.62 710.88,224.1 712.4,226.6" fill="none" stroke="#ff0000" stroke-width="1.9" stroke-linejoin="round" stroke-linecap="round"/>
<path d="M480.4,137.7 C480.75,134.87 481.6,124.5 482.5,120.7 C483.4,116.9 484.72,115.77 485.8,114.9 C486.88,114.03 487.6,114.85 489,115.5 C490.4,116.15 492.03,117.82 494.2,118.8 C496.37,119.78 499.07,120.87 502,121.4 C504.93,121.93 508.53,122 511.8,122 C515.07,122 519.23,121.62 521.6,121.4 C523.97,121.18 518.27,121.95 526,120.7 C533.73,119.45 555.67,115.97 568,113.9 C580.33,111.83 591.32,109.68 600,108.3 C608.68,106.92 610.27,107.03 620.1,105.6 C629.93,104.17 651.63,100.84 659,99.7 C666.37,98.56 659.95,99.2 664.3,98.75 C668.65,98.3 679.47,97.83 685.1,97 C690.73,96.17 695.28,94.98 698.1,93.8 C700.92,92.62 700.68,92.07 702,89.9 C703.32,87.73 704.48,83.83 706,80.8 C707.52,77.77 709.6,75.4 711.1,71.7 C712.6,68 713.9,63.38 715,58.6 C716.1,53.82 716.9,47.27 717.7,43 C718.5,38.73 719.45,34.67 719.8,33" fill="none" stroke="#ff0000" stroke-width="1.9" stroke-linejoin="round" stroke-linecap="round"/>
</g>
<line x1="493.2" y1="53.4" x2="515.1" y2="53.4" stroke="#808000" stroke-width="1.9"/>
<text x="518.5" y="57.1" font-size="16.2" font-family="Liberation Serif" font-weight="bold" fill="#808000" stroke="#808000" text-anchor="start">NiS/NCF</text>
<line x1="493.2" y1="73.4" x2="515.1" y2="73.4" stroke="#0000ff" stroke-width="1.9"/>
<text x="518.5" y="77.1" font-size="16.2" font-family="Liberation Serif" font-weight="bold" fill="#0000ff" stroke="#0000ff" text-anchor="start">Ni/NCF</text>
<line x1="493.2" y1="92.9" x2="515.1" y2="92.9" stroke="#ff0000" stroke-width="1.9"/>
<text x="518.5" y="96.6" font-size="16.2" font-family="Liberation Serif" font-weight="bold" fill="#ff0000" stroke="#ff0000" text-anchor="start">Ni-NiS/NCF</text>
<line x1="480.2" y1="33.4" x2="760" y2="33.4" stroke="#000000" stroke-width="1.5"/>
<line x1="480.2" y1="32.65" x2="480.2" y2="243.25" stroke="#000000" stroke-width="1.5"/>
<line x1="480.2" y1="242.5" x2="760" y2="242.5" stroke="#000000" stroke-width="1.5"/>
<line x1="760" y1="32.65" x2="760" y2="243.25" stroke="#000000" stroke-width="1.5"/>
<line x1="475.7" y1="226.4" x2="480.2" y2="226.4" stroke="#000000" stroke-width="1.4"/>
<line x1="475.7" y1="194.2" x2="480.2" y2="194.2" stroke="#000000" stroke-width="1.4"/>
<line x1="475.7" y1="162" x2="480.2" y2="162" stroke="#000000" stroke-width="1.4"/>
<line x1="475.7" y1="129.8" x2="480.2" y2="129.8" stroke="#000000" stroke-width="1.4"/>
<line x1="475.7" y1="97.6" x2="480.2" y2="97.6" stroke="#000000" stroke-width="1.4"/>
<line x1="475.7" y1="65.4" x2="480.2" y2="65.4" stroke="#000000" stroke-width="1.4"/>
<line x1="475.7" y1="33.2" x2="480.2" y2="33.2" stroke="#000000" stroke-width="1.4"/>
<line x1="477.7" y1="242.5" x2="480.2" y2="242.5" stroke="#000000" stroke-width="1.4"/>
<line x1="477.7" y1="210.3" x2="480.2" y2="210.3" stroke="#000000" stroke-width="1.4"/>
<line x1="477.7" y1="178.1" x2="480.2" y2="178.1" stroke="#000000" stroke-width="1.4"/>
<line x1="477.7" y1="145.9" x2="480.2" y2="145.9" stroke="#000000" stroke-width="1.4"/>
<line x1="477.7" y1="113.7" x2="480.2" y2="113.7" stroke="#000000" stroke-width="1.4"/>
<line x1="477.7" y1="81.5" x2="480.2" y2="81.5" stroke="#000000" stroke-width="1.4"/>
<line x1="477.7" y1="49.3" x2="480.2" y2="49.3" stroke="#000000" stroke-width="1.4"/>
<line x1="480.2" y1="242.5" x2="480.2" y2="247" stroke="#000000" stroke-width="1.4"/>
<line x1="523.18" y1="242.5" x2="523.18" y2="247" stroke="#000000" stroke-width="1.4"/>
<line x1="566.16" y1="242.5" x2="566.16" y2="247" stroke="#000000" stroke-width="1.4"/>
<line x1="609.14" y1="242.5" x2="609.14" y2="247" stroke="#000000" stroke-width="1.4"/>
<line x1="652.12" y1="242.5" x2="652.12" y2="247" stroke="#000000" stroke-width="1.4"/>
<line x1="695.1" y1="242.5" x2="695.1" y2="247" stroke="#000000" stroke-width="1.4"/>
<line x1="738.08" y1="242.5" x2="738.08" y2="247" stroke="#000000" stroke-width="1.4"/>
<line x1="501.69" y1="242.5" x2="501.69" y2="245" stroke="#000000" stroke-width="1.4"/>
<line x1="544.67" y1="242.5" x2="544.67" y2="245" stroke="#000000" stroke-width="1.4"/>
<line x1="587.65" y1="242.5" x2="587.65" y2="245" stroke="#000000" stroke-width="1.4"/>
<line x1="630.63" y1="242.5" x2="630.63" y2="245" stroke="#000000" stroke-width="1.4"/>
<line x1="673.61" y1="242.5" x2="673.61" y2="245" stroke="#000000" stroke-width="1.4"/>
<line x1="716.59" y1="242.5" x2="716.59" y2="245" stroke="#000000" stroke-width="1.4"/>
<line x1="759.57" y1="242.5" x2="759.57" y2="245" stroke="#000000" stroke-width="1.4"/>
<text x="473.3" y="231" font-size="16.6" font-family="Liberation Serif" font-weight="bold" fill="#000000" stroke="#000000" text-anchor="end">1.6</text>
<text x="473.3" y="198.8" font-size="16.6" font-family="Liberation Serif" font-weight="bold" fill="#000000" stroke="#000000" text-anchor="end">1.8</text>
<text x="473.3" y="166.6" font-size="16.6" font-family="Liberation Serif" font-weight="bold" fill="#000000" stroke="#000000" text-anchor="end">2.0</text>
<text x="473.3" y="134.4" font-size="16.6" font-family="Liberation Serif" font-weight="bold" fill="#000000" stroke="#000000" text-anchor="end">2.2</text>
<text x="473.3" y="102.2" font-size="16.6" font-family="Liberation Serif" font-weight="bold" fill="#000000" stroke="#000000" text-anchor="end">2.4</text>
<text x="473.3" y="70" font-size="16.6" font-family="Liberation Serif" font-weight="bold" fill="#000000" stroke="#000000" text-anchor="end">2.6</text>
<text x="473.3" y="37.8" font-size="16.6" font-family="Liberation Serif" font-weight="bold" fill="#000000" stroke="#000000" text-anchor="end">2.8</text>
<text x="480.2" y="262" font-size="16.6" font-family="Liberation Serif" font-weight="bold" fill="#000000" stroke="#000000" text-anchor="middle">0</text>
<text x="523.18" y="262" font-size="16.6" font-family="Liberation Serif" font-weight="bold" fill="#000000" stroke="#000000" text-anchor="middle">200</text>
<text x="566.16" y="262" font-size="16.6" font-family="Liberation Serif" font-weight="bold" fill="#000000" stroke="#000000" text-anchor="middle">400</text>
<text x="609.14" y="262" font-size="16.6" font-family="Liberation Serif" font-weight="bold" fill="#000000" stroke="#000000" text-anchor="middle">600</text>
<text x="652.12" y="262" font-size="16.6" font-family="Liberation Serif" font-weight="bold" fill="#000000" stroke="#000000" text-anchor="middle">800</text>
<text x="695.1" y="262" font-size="16.6" font-family="Liberation Serif" font-weight="bold" fill="#000000" stroke="#000000" text-anchor="middle">1000</text>
<text x="738.08" y="262" font-size="16.6" font-family="Liberation Serif" font-weight="bold" fill="#000000" stroke="#000000" text-anchor="middle">1200</text>
<text x="620.4" y="288.7" font-size="16.5" font-family="Liberation Serif" font-weight="bold" fill="#000000" stroke="#000000" text-anchor="middle">Specific Capacity (mAh/g)</text>
<text x="426.2" y="141.2" font-size="15.9" font-family="Liberation Serif" font-weight="bold" fill="#000" stroke="#000" text-anchor="middle" transform="rotate(-90 426.2 141.2)" xml:space="preserve">Voltage ( V vs. Li/Li )</text>
<text x="405.8" y="25.3" font-size="24.5" font-family="Liberation Serif" font-weight="bold" fill="#000000" stroke="#000000" text-anchor="start">(b)</text>
<rect x="119.33" y="399.25" width="5.2" height="5.2" fill="#000000"/>
<rect x="121.22" y="401.79" width="5.2" height="5.2" fill="#000000"/>
<rect x="123.1" y="404.25" width="5.2" height="5.2" fill="#000000"/>
<rect x="124.99" y="405.55" width="5.2" height="5.2" fill="#000000"/>
<rect x="126.88" y="406.42" width="5.2" height="5.2" fill="#000000"/>
<rect x="128.76" y="407.75" width="5.2" height="5.2" fill="#000000"/>
<rect x="130.65" y="407.79" width="5.2" height="5.2" fill="#000000"/>
<rect x="132.54" y="409.43" width="5.2" height="5.2" fill="#000000"/>
<rect x="134.42" y="411.12" width="5.2" height="5.2" fill="#000000"/>
<rect x="136.31" y="411.88" width="5.2" height="5.2" fill="#000000"/>
<rect x="138.19" y="413.02" width="5.2" height="5.2" fill="#000000"/>
<rect x="140.08" y="412.92" width="5.2" height="5.2" fill="#000000"/>
<rect x="141.97" y="414.19" width="5.2" height="5.2" fill="#000000"/>
<rect x="143.85" y="414.77" width="5.2" height="5.2" fill="#000000"/>
<rect x="145.74" y="415.97" width="5.2" height="5.2" fill="#000000"/>
<rect x="147.63" y="416.85" width="5.2" height="5.2" fill="#000000"/>
<rect x="149.51" y="417.02" width="5.2" height="5.2" fill="#000000"/>
<rect x="151.4" y="417.56" width="5.2" height="5.2" fill="#000000"/>
<rect x="153.28" y="417.94" width="5.2" height="5.2" fill="#000000"/>
<rect x="155.17" y="419" width="5.2" height="5.2" fill="#000000"/>
<rect x="157.06" y="419.12" width="5.2" height="5.2" fill="#000000"/>
<rect x="158.94" y="418.69" width="5.2" height="5.2" fill="#000000"/>
<rect x="160.83" y="419.76" width="5.2" height="5.2" fill="#000000"/>
<rect x="162.72" y="419.27" width="5.2" height="5.2" fill="#000000"/>
<rect x="164.6" y="420.13" width="5.2" height="5.2" fill="#000000"/>
<rect x="166.49" y="419.82" width="5.2" height="5.2" fill="#000000"/>
<rect x="168.38" y="419.96" width="5.2" height="5.2" fill="#000000"/>
<rect x="170.26" y="421.29" width="5.2" height="5.2" fill="#000000"/>
<rect x="172.15" y="420.78" width="5.2" height="5.2" fill="#000000"/>
<rect x="174.03" y="421.07" width="5.2" height="5.2" fill="#000000"/>
<rect x="175.92" y="422.28" width="5.2" height="5.2" fill="#000000"/>
<rect x="177.81" y="422.68" width="5.2" height="5.2" fill="#000000"/>
<rect x="179.69" y="422.51" width="5.2" height="5.2" fill="#000000"/>
<rect x="181.58" y="423.85" width="5.2" height="5.2" fill="#000000"/>
<rect x="183.47" y="423.88" width="5.2" height="5.2" fill="#000000"/>
<rect x="185.35" y="424.58" width="5.2" height="5.2" fill="#000000"/>
<rect x="187.24" y="424.55" width="5.2" height="5.2" fill="#000000"/>
<rect x="189.12" y="425.36" width="5.2" height="5.2" fill="#000000"/>
<rect x="191.01" y="424.99" width="5.2" height="5.2" fill="#000000"/>
<rect x="192.9" y="425.25" width="5.2" height="5.2" fill="#000000"/>
<rect x="194.78" y="425.09" width="5.2" height="5.2" fill="#000000"/>
<rect x="196.67" y="424.3" width="5.2" height="5.2" fill="#000000"/>
<rect x="198.56" y="424.3" width="5.2" height="5.2" fill="#000000"/>
<rect x="200.44" y="424" width="5.2" height="5.2" fill="#000000"/>
<rect x="202.33" y="424.23" width="5.2" height="5.2" fill="#000000"/>
<rect x="204.22" y="424.4" width="5.2" height="5.2" fill="#000000"/>
<rect x="206.1" y="424.94" width="5.2" height="5.2" fill="#000000"/>
<rect x="207.99" y="425.56" width="5.2" height="5.2" fill="#000000"/>
<rect x="209.87" y="425.1" width="5.2" height="5.2" fill="#000000"/>
<rect x="211.76" y="425.94" width="5.2" height="5.2" fill="#000000"/>
<rect x="213.65" y="425.55" width="5.2" height="5.2" fill="#000000"/>
<rect x="215.53" y="425.54" width="5.2" height="5.2" fill="#000000"/>
<rect x="217.42" y="426.17" width="5.2" height="5.2" fill="#000000"/>
<rect x="219.31" y="425.79" width="5.2" height="5.2" fill="#000000"/>
<rect x="221.19" y="425.61" width="5.2" height="5.2" fill="#000000"/>
<rect x="223.08" y="425.83" width="5.2" height="5.2" fill="#000000"/>
<rect x="224.96" y="426.12" width="5.2" height="5.2" fill="#000000"/>
<rect x="226.85" y="425.37" width="5.2" height="5.2" fill="#000000"/>
<rect x="228.74" y="426.53" width="5.2" height="5.2" fill="#000000"/>
<rect x="230.62" y="425.45" width="5.2" height="5.2" fill="#000000"/>
<rect x="232.51" y="426.39" width="5.2" height="5.2" fill="#000000"/>
<rect x="234.4" y="426.56" width="5.2" height="5.2" fill="#000000"/>
<rect x="236.28" y="425.63" width="5.2" height="5.2" fill="#000000"/>
<rect x="238.17" y="426.62" width="5.2" height="5.2" fill="#000000"/>
<rect x="240.05" y="426.18" width="5.2" height="5.2" fill="#000000"/>
<rect x="241.94" y="426.49" width="5.2" height="5.2" fill="#000000"/>
<rect x="243.83" y="425.84" width="5.2" height="5.2" fill="#000000"/>
<rect x="245.71" y="425.92" width="5.2" height="5.2" fill="#000000"/>
<rect x="247.6" y="426.11" width="5.2" height="5.2" fill="#000000"/>
<rect x="249.49" y="427.07" width="5.2" height="5.2" fill="#000000"/>
<rect x="251.37" y="426.19" width="5.2" height="5.2" fill="#000000"/>
<rect x="253.26" y="426.89" width="5.2" height="5.2" fill="#000000"/>
<rect x="255.15" y="427.13" width="5.2" height="5.2" fill="#000000"/>
<rect x="257.03" y="427.17" width="5.2" height="5.2" fill="#000000"/>
<rect x="258.92" y="426.48" width="5.2" height="5.2" fill="#000000"/>
<rect x="260.8" y="426.53" width="5.2" height="5.2" fill="#000000"/>
<rect x="262.69" y="426.73" width="5.2" height="5.2" fill="#000000"/>
<rect x="264.58" y="427.03" width="5.2" height="5.2" fill="#000000"/>
<rect x="266.46" y="426.23" width="5.2" height="5.2" fill="#000000"/>
<rect x="268.35" y="427" width="5.2" height="5.2" fill="#000000"/>
<rect x="270.24" y="427.06" width="5.2" height="5.2" fill="#000000"/>
<rect x="272.12" y="427.13" width="5.2" height="5.2" fill="#000000"/>
<rect x="274.01" y="426.14" width="5.2" height="5.2" fill="#000000"/>
<rect x="275.89" y="427.23" width="5.2" height="5.2" fill="#000000"/>
<rect x="277.78" y="426.21" width="5.2" height="5.2" fill="#000000"/>
<rect x="279.67" y="426.51" width="5.2" height="5.2" fill="#000000"/>
<rect x="281.55" y="426.83" width="5.2" height="5.2" fill="#000000"/>
<rect x="283.44" y="427.2" width="5.2" height="5.2" fill="#000000"/>
<rect x="285.33" y="426.51" width="5.2" height="5.2" fill="#000000"/>
<rect x="287.21" y="427.21" width="5.2" height="5.2" fill="#000000"/>
<rect x="289.1" y="426.75" width="5.2" height="5.2" fill="#000000"/>
<rect x="290.98" y="426.47" width="5.2" height="5.2" fill="#000000"/>
<rect x="292.87" y="426.48" width="5.2" height="5.2" fill="#000000"/>
<rect x="294.76" y="426.31" width="5.2" height="5.2" fill="#000000"/>
<rect x="296.64" y="426.19" width="5.2" height="5.2" fill="#000000"/>
<rect x="298.53" y="426.28" width="5.2" height="5.2" fill="#000000"/>
<rect x="300.42" y="426.96" width="5.2" height="5.2" fill="#000000"/>
<rect x="302.3" y="427.37" width="5.2" height="5.2" fill="#000000"/>
<rect x="304.19" y="426.4" width="5.2" height="5.2" fill="#000000"/>
<rect x="306.08" y="426.3" width="5.2" height="5.2" fill="#000000"/>
<rect x="307.96" y="427.46" width="5.2" height="5.2" fill="#000000"/>
<rect x="309.85" y="426.95" width="5.2" height="5.2" fill="#000000"/>
<rect x="311.73" y="426.83" width="5.2" height="5.2" fill="#000000"/>
<rect x="313.62" y="426.66" width="5.2" height="5.2" fill="#000000"/>
<rect x="315.51" y="427.13" width="5.2" height="5.2" fill="#000000"/>
<rect x="317.39" y="427.44" width="5.2" height="5.2" fill="#000000"/>
<rect x="319.28" y="427.03" width="5.2" height="5.2" fill="#000000"/>
<rect x="321.17" y="427.03" width="5.2" height="5.2" fill="#000000"/>
<rect x="323.05" y="426.62" width="5.2" height="5.2" fill="#000000"/>
<rect x="324.94" y="427.69" width="5.2" height="5.2" fill="#000000"/>
<rect x="326.82" y="426.66" width="5.2" height="5.2" fill="#000000"/>
<rect x="328.71" y="427.25" width="5.2" height="5.2" fill="#000000"/>
<rect x="330.6" y="427.7" width="5.2" height="5.2" fill="#000000"/>
<rect x="332.48" y="426.89" width="5.2" height="5.2" fill="#000000"/>
<rect x="334.37" y="427.64" width="5.2" height="5.2" fill="#000000"/>
<rect x="336.26" y="427.94" width="5.2" height="5.2" fill="#000000"/>
<rect x="338.14" y="427.56" width="5.2" height="5.2" fill="#000000"/>
<rect x="340.03" y="427.76" width="5.2" height="5.2" fill="#000000"/>
<rect x="341.91" y="426.95" width="5.2" height="5.2" fill="#000000"/>
<rect x="343.8" y="427.35" width="5.2" height="5.2" fill="#000000"/>
<rect x="345.69" y="427.01" width="5.2" height="5.2" fill="#000000"/>
<rect x="347.57" y="427.85" width="5.2" height="5.2" fill="#000000"/>
<rect x="349.46" y="427.2" width="5.2" height="5.2" fill="#000000"/>
<rect x="351.35" y="427.4" width="5.2" height="5.2" fill="#000000"/>
<rect x="353.23" y="428.06" width="5.2" height="5.2" fill="#000000"/>
<rect x="355.12" y="427.89" width="5.2" height="5.2" fill="#000000"/>
<rect x="357.01" y="428.04" width="5.2" height="5.2" fill="#000000"/>
<rect x="358.89" y="427.42" width="5.2" height="5.2" fill="#000000"/>
<rect x="360.78" y="427.47" width="5.2" height="5.2" fill="#000000"/>
<rect x="362.66" y="427.77" width="5.2" height="5.2" fill="#000000"/>
<rect x="364.55" y="427.47" width="5.2" height="5.2" fill="#000000"/>
<rect x="366.44" y="427.26" width="5.2" height="5.2" fill="#000000"/>
<rect x="368.32" y="427.4" width="5.2" height="5.2" fill="#000000"/>
<rect x="370.21" y="427.1" width="5.2" height="5.2" fill="#000000"/>
<rect x="372.1" y="427.38" width="5.2" height="5.2" fill="#000000"/>
<rect x="373.98" y="428.12" width="5.2" height="5.2" fill="#000000"/>
<rect x="375.87" y="428.09" width="5.2" height="5.2" fill="#000000"/>
<rect x="377.75" y="427.7" width="5.2" height="5.2" fill="#000000"/>
<rect x="379.64" y="427.55" width="5.2" height="5.2" fill="#000000"/>
<rect x="381.53" y="427.37" width="5.2" height="5.2" fill="#000000"/>
<rect x="383.41" y="427.07" width="5.2" height="5.2" fill="#000000"/>
<rect x="385.3" y="427.3" width="5.2" height="5.2" fill="#000000"/>
<rect x="387.19" y="427.92" width="5.2" height="5.2" fill="#000000"/>
<rect x="389.07" y="428.03" width="5.2" height="5.2" fill="#000000"/>
<rect x="390.96" y="427.43" width="5.2" height="5.2" fill="#000000"/>
<rect x="392.84" y="427.94" width="5.2" height="5.2" fill="#000000"/>
<rect x="394.73" y="427.92" width="5.2" height="5.2" fill="#000000"/>
<rect x="396.62" y="427.82" width="5.2" height="5.2" fill="#000000"/>
<rect x="398.5" y="427.78" width="5.2" height="5.2" fill="#000000"/>
<rect x="400.39" y="427.88" width="5.2" height="5.2" fill="#000000"/>
<rect x="402.28" y="427.4" width="5.2" height="5.2" fill="#000000"/>
<rect x="404.16" y="427.81" width="5.2" height="5.2" fill="#000000"/>
<rect x="406.05" y="427.29" width="5.2" height="5.2" fill="#000000"/>
<rect x="407.94" y="427.53" width="5.2" height="5.2" fill="#000000"/>
<rect x="409.82" y="427.86" width="5.2" height="5.2" fill="#000000"/>
<rect x="411.71" y="427.76" width="5.2" height="5.2" fill="#000000"/>
<rect x="413.59" y="427.28" width="5.2" height="5.2" fill="#000000"/>
<rect x="415.48" y="428.05" width="5.2" height="5.2" fill="#000000"/>
<rect x="417.37" y="427.69" width="5.2" height="5.2" fill="#000000"/>
<rect x="419.25" y="427.6" width="5.2" height="5.2" fill="#000000"/>
<rect x="421.14" y="426.91" width="5.2" height="5.2" fill="#000000"/>
<rect x="423.03" y="427.55" width="5.2" height="5.2" fill="#000000"/>
<rect x="424.91" y="427.19" width="5.2" height="5.2" fill="#000000"/>
<rect x="426.8" y="427.69" width="5.2" height="5.2" fill="#000000"/>
<rect x="428.68" y="427.43" width="5.2" height="5.2" fill="#000000"/>
<rect x="430.57" y="427.85" width="5.2" height="5.2" fill="#000000"/>
<rect x="432.46" y="427.64" width="5.2" height="5.2" fill="#000000"/>
<rect x="434.34" y="427.81" width="5.2" height="5.2" fill="#000000"/>
<rect x="436.23" y="427.26" width="5.2" height="5.2" fill="#000000"/>
<rect x="438.12" y="427.61" width="5.2" height="5.2" fill="#000000"/>
<rect x="440" y="427.72" width="5.2" height="5.2" fill="#000000"/>
<rect x="441.89" y="427.82" width="5.2" height="5.2" fill="#000000"/>
<rect x="443.78" y="427.24" width="5.2" height="5.2" fill="#000000"/>
<rect x="445.66" y="427.82" width="5.2" height="5.2" fill="#000000"/>
<rect x="447.55" y="427.85" width="5.2" height="5.2" fill="#000000"/>
<rect x="449.43" y="427.63" width="5.2" height="5.2" fill="#000000"/>
<rect x="451.32" y="427.94" width="5.2" height="5.2" fill="#000000"/>
<rect x="453.21" y="427.88" width="5.2" height="5.2" fill="#000000"/>
<rect x="455.09" y="427.31" width="5.2" height="5.2" fill="#000000"/>
<rect x="456.98" y="427.29" width="5.2" height="5.2" fill="#000000"/>
<rect x="458.87" y="426.82" width="5.2" height="5.2" fill="#000000"/>
<rect x="460.75" y="427.59" width="5.2" height="5.2" fill="#000000"/>
<rect x="462.64" y="427.67" width="5.2" height="5.2" fill="#000000"/>
<rect x="464.52" y="427.09" width="5.2" height="5.2" fill="#000000"/>
<rect x="466.41" y="427.31" width="5.2" height="5.2" fill="#000000"/>
<rect x="468.3" y="427.31" width="5.2" height="5.2" fill="#000000"/>
<rect x="470.18" y="427.28" width="5.2" height="5.2" fill="#000000"/>
<rect x="472.07" y="426.58" width="5.2" height="5.2" fill="#000000"/>
<rect x="473.96" y="427.27" width="5.2" height="5.2" fill="#000000"/>
<rect x="475.84" y="427" width="5.2" height="5.2" fill="#000000"/>
<rect x="477.73" y="427.32" width="5.2" height="5.2" fill="#000000"/>
<rect x="479.61" y="427.25" width="5.2" height="5.2" fill="#000000"/>
<rect x="481.5" y="427.72" width="5.2" height="5.2" fill="#000000"/>
<rect x="483.39" y="428.13" width="5.2" height="5.2" fill="#000000"/>
<rect x="485.27" y="428.19" width="5.2" height="5.2" fill="#000000"/>
<rect x="487.16" y="428.51" width="5.2" height="5.2" fill="#000000"/>
<rect x="489.05" y="427.91" width="5.2" height="5.2" fill="#000000"/>
<rect x="490.93" y="428.29" width="5.2" height="5.2" fill="#000000"/>
<rect x="492.82" y="428.85" width="5.2" height="5.2" fill="#000000"/>
<rect x="494.71" y="429.33" width="5.2" height="5.2" fill="#000000"/>
<rect x="496.59" y="429.04" width="5.2" height="5.2" fill="#000000"/>
<rect x="498.48" y="429.82" width="5.2" height="5.2" fill="#000000"/>
<rect x="500.36" y="429.98" width="5.2" height="5.2" fill="#000000"/>
<rect x="502.25" y="429.5" width="5.2" height="5.2" fill="#000000"/>
<rect x="504.14" y="430.24" width="5.2" height="5.2" fill="#000000"/>
<rect x="506.02" y="430.17" width="5.2" height="5.2" fill="#000000"/>
<rect x="507.91" y="430.19" width="5.2" height="5.2" fill="#000000"/>
<rect x="509.8" y="430.51" width="5.2" height="5.2" fill="#000000"/>
<rect x="511.68" y="430.96" width="5.2" height="5.2" fill="#000000"/>
<rect x="513.57" y="431.02" width="5.2" height="5.2" fill="#000000"/>
<rect x="515.45" y="431.26" width="5.2" height="5.2" fill="#000000"/>
<rect x="517.34" y="431.29" width="5.2" height="5.2" fill="#000000"/>
<rect x="519.23" y="432.03" width="5.2" height="5.2" fill="#000000"/>
<rect x="521.11" y="432.16" width="5.2" height="5.2" fill="#000000"/>
<rect x="523" y="432.66" width="5.2" height="5.2" fill="#000000"/>
<rect x="524.89" y="432.86" width="5.2" height="5.2" fill="#000000"/>
<rect x="526.77" y="432.66" width="5.2" height="5.2" fill="#000000"/>
<rect x="528.66" y="433.68" width="5.2" height="5.2" fill="#000000"/>
<rect x="530.54" y="432.89" width="5.2" height="5.2" fill="#000000"/>
<rect x="532.43" y="433.67" width="5.2" height="5.2" fill="#000000"/>
<rect x="534.32" y="433.81" width="5.2" height="5.2" fill="#000000"/>
<rect x="536.2" y="434.26" width="5.2" height="5.2" fill="#000000"/>
<rect x="538.09" y="434.2" width="5.2" height="5.2" fill="#000000"/>
<rect x="539.98" y="435.35" width="5.2" height="5.2" fill="#000000"/>
<rect x="541.86" y="435.09" width="5.2" height="5.2" fill="#000000"/>
<rect x="543.75" y="434.98" width="5.2" height="5.2" fill="#000000"/>
<rect x="545.64" y="435.96" width="5.2" height="5.2" fill="#000000"/>
<rect x="547.52" y="435.63" width="5.2" height="5.2" fill="#000000"/>
<rect x="549.41" y="436.46" width="5.2" height="5.2" fill="#000000"/>
<rect x="551.29" y="436.51" width="5.2" height="5.2" fill="#000000"/>
<rect x="553.18" y="437.22" width="5.2" height="5.2" fill="#000000"/>
<rect x="555.07" y="438.09" width="5.2" height="5.2" fill="#000000"/>
<rect x="556.95" y="438.35" width="5.2" height="5.2" fill="#000000"/>
<rect x="558.84" y="438.29" width="5.2" height="5.2" fill="#000000"/>
<rect x="560.73" y="439.18" width="5.2" height="5.2" fill="#000000"/>
<rect x="562.61" y="439.4" width="5.2" height="5.2" fill="#000000"/>
<rect x="564.5" y="439.49" width="5.2" height="5.2" fill="#000000"/>
<rect x="566.38" y="439.64" width="5.2" height="5.2" fill="#000000"/>
<rect x="568.27" y="440.61" width="5.2" height="5.2" fill="#000000"/>
<rect x="570.16" y="440.99" width="5.2" height="5.2" fill="#000000"/>
<rect x="572.04" y="441.88" width="5.2" height="5.2" fill="#000000"/>
<rect x="573.93" y="442.32" width="5.2" height="5.2" fill="#000000"/>
<rect x="575.82" y="442.31" width="5.2" height="5.2" fill="#000000"/>
<rect x="577.7" y="442.42" width="5.2" height="5.2" fill="#000000"/>
<rect x="579.59" y="442.55" width="5.2" height="5.2" fill="#000000"/>
<rect x="581.48" y="440.96" width="5.2" height="5.2" fill="#000000"/>
<rect x="583.36" y="440.56" width="5.2" height="5.2" fill="#000000"/>
<rect x="585.25" y="440.59" width="5.2" height="5.2" fill="#000000"/>
<rect x="587.13" y="440.13" width="5.2" height="5.2" fill="#000000"/>
<rect x="589.02" y="439.04" width="5.2" height="5.2" fill="#000000"/>
<rect x="590.91" y="439.1" width="5.2" height="5.2" fill="#000000"/>
<rect x="592.79" y="438.89" width="5.2" height="5.2" fill="#000000"/>
<rect x="594.68" y="437.75" width="5.2" height="5.2" fill="#000000"/>
<rect x="596.57" y="437.37" width="5.2" height="5.2" fill="#000000"/>
<rect x="598.45" y="436.68" width="5.2" height="5.2" fill="#000000"/>
<rect x="600.34" y="436.32" width="5.2" height="5.2" fill="#000000"/>
<rect x="602.22" y="436.69" width="5.2" height="5.2" fill="#000000"/>
<rect x="604.11" y="435.53" width="5.2" height="5.2" fill="#000000"/>
<rect x="606" y="435.79" width="5.2" height="5.2" fill="#000000"/>
<rect x="607.88" y="435.29" width="5.2" height="5.2" fill="#000000"/>
<rect x="609.77" y="434.46" width="5.2" height="5.2" fill="#000000"/>
<rect x="611.66" y="433.61" width="5.2" height="5.2" fill="#000000"/>
<rect x="613.54" y="434.59" width="5.2" height="5.2" fill="#000000"/>
<rect x="615.43" y="434.12" width="5.2" height="5.2" fill="#000000"/>
<rect x="617.31" y="434.13" width="5.2" height="5.2" fill="#000000"/>
<rect x="619.2" y="434.13" width="5.2" height="5.2" fill="#000000"/>
<rect x="621.09" y="435.04" width="5.2" height="5.2" fill="#000000"/>
<rect x="622.97" y="434.56" width="5.2" height="5.2" fill="#000000"/>
<rect x="624.86" y="434.42" width="5.2" height="5.2" fill="#000000"/>
<rect x="626.75" y="434.76" width="5.2" height="5.2" fill="#000000"/>
<rect x="628.63" y="434.45" width="5.2" height="5.2" fill="#000000"/>
<rect x="630.52" y="435.46" width="5.2" height="5.2" fill="#000000"/>
<rect x="632.41" y="435.66" width="5.2" height="5.2" fill="#000000"/>
<rect x="634.29" y="435.89" width="5.2" height="5.2" fill="#000000"/>
<rect x="636.18" y="436.89" width="5.2" height="5.2" fill="#000000"/>
<rect x="638.06" y="437.36" width="5.2" height="5.2" fill="#000000"/>
<rect x="639.95" y="436.8" width="5.2" height="5.2" fill="#000000"/>
<rect x="641.84" y="437.83" width="5.2" height="5.2" fill="#000000"/>
<rect x="643.72" y="437.94" width="5.2" height="5.2" fill="#000000"/>
<rect x="645.61" y="439.14" width="5.2" height="5.2" fill="#000000"/>
<rect x="647.5" y="439.37" width="5.2" height="5.2" fill="#000000"/>
<rect x="649.38" y="439.14" width="5.2" height="5.2" fill="#000000"/>
<rect x="651.27" y="439.58" width="5.2" height="5.2" fill="#000000"/>
<rect x="653.15" y="439.86" width="5.2" height="5.2" fill="#000000"/>
<rect x="655.04" y="441.27" width="5.2" height="5.2" fill="#000000"/>
<rect x="656.93" y="440.85" width="5.2" height="5.2" fill="#000000"/>
<rect x="658.81" y="441.36" width="5.2" height="5.2" fill="#000000"/>
<rect x="660.7" y="441.33" width="5.2" height="5.2" fill="#000000"/>
<rect x="662.59" y="441.66" width="5.2" height="5.2" fill="#000000"/>
<rect x="664.47" y="441.74" width="5.2" height="5.2" fill="#000000"/>
<rect x="666.36" y="442.04" width="5.2" height="5.2" fill="#000000"/>
<rect x="668.24" y="441.42" width="5.2" height="5.2" fill="#000000"/>
<rect x="670.13" y="442.32" width="5.2" height="5.2" fill="#000000"/>
<rect x="672.02" y="441.9" width="5.2" height="5.2" fill="#000000"/>
<rect x="673.9" y="442.31" width="5.2" height="5.2" fill="#000000"/>
<rect x="675.79" y="442.2" width="5.2" height="5.2" fill="#000000"/>
<rect x="111.8" y="348.8" width="5.2" height="5.2" fill="#000000"/>
<rect x="113.7" y="349.4" width="5.2" height="5.2" fill="#000000"/>
<rect x="115.6" y="358.9" width="5.2" height="5.2" fill="#000000"/>
<rect x="116.9" y="364.7" width="5.2" height="5.2" fill="#000000"/>
<rect x="298.53" y="420.6" width="5.2" height="5.2" fill="#000000"/>
<rect x="119.78" y="403.11" width="4.3" height="4.3" fill="#fff" stroke="#404040" stroke-width="0.9"/>
<rect x="121.67" y="404.89" width="4.3" height="4.3" fill="#fff" stroke="#404040" stroke-width="0.9"/>
<rect x="123.55" y="406.31" width="4.3" height="4.3" fill="#fff" stroke="#404040" stroke-width="0.9"/>
<rect x="125.44" y="407.21" width="4.3" height="4.3" fill="#fff" stroke="#404040" stroke-width="0.9"/>
<rect x="127.33" y="408.7" width="4.3" height="4.3" fill="#fff" stroke="#404040" stroke-width="0.9"/>
<rect x="129.21" y="409.54" width="4.3" height="4.3" fill="#fff" stroke="#404040" stroke-width="0.9"/>
<rect x="131.1" y="409.91" width="4.3" height="4.3" fill="#fff" stroke="#404040" stroke-width="0.9"/>
<rect x="132.99" y="411.2" width="4.3" height="4.3" fill="#fff" stroke="#404040" stroke-width="0.9"/>
<rect x="134.87" y="412.47" width="4.3" height="4.3" fill="#fff" stroke="#404040" stroke-width="0.9"/>
<rect x="136.76" y="414.05" width="4.3" height="4.3" fill="#fff" stroke="#404040" stroke-width="0.9"/>
<rect x="138.64" y="414.84" width="4.3" height="4.3" fill="#fff" stroke="#404040" stroke-width="0.9"/>
<rect x="140.53" y="415.26" width="4.3" height="4.3" fill="#fff" stroke="#404040" stroke-width="0.9"/>
<rect x="142.42" y="415.45" width="4.3" height="4.3" fill="#fff" stroke="#404040" stroke-width="0.9"/>
<rect x="144.3" y="417.2" width="4.3" height="4.3" fill="#fff" stroke="#404040" stroke-width="0.9"/>
<rect x="146.19" y="417.61" width="4.3" height="4.3" fill="#fff" stroke="#404040" stroke-width="0.9"/>
<rect x="148.08" y="418.61" width="4.3" height="4.3" fill="#fff" stroke="#404040" stroke-width="0.9"/>
<rect x="149.96" y="419.6" width="4.3" height="4.3" fill="#fff" stroke="#404040" stroke-width="0.9"/>
<rect x="151.85" y="419.89" width="4.3" height="4.3" fill="#fff" stroke="#404040" stroke-width="0.9"/>
<rect x="153.73" y="420.1" width="4.3" height="4.3" fill="#fff" stroke="#404040" stroke-width="0.9"/>
<rect x="155.62" y="421" width="4.3" height="4.3" fill="#fff" stroke="#404040" stroke-width="0.9"/>
<rect x="157.51" y="420.76" width="4.3" height="4.3" fill="#fff" stroke="#404040" stroke-width="0.9"/>
<rect x="159.39" y="421.15" width="4.3" height="4.3" fill="#fff" stroke="#404040" stroke-width="0.9"/>
<rect x="161.28" y="422.09" width="4.3" height="4.3" fill="#fff" stroke="#404040" stroke-width="0.9"/>
<rect x="163.17" y="421.69" width="4.3" height="4.3" fill="#fff" stroke="#404040" stroke-width="0.9"/>
<rect x="165.05" y="422.13" width="4.3" height="4.3" fill="#fff" stroke="#404040" stroke-width="0.9"/>
<rect x="166.94" y="423.1" width="4.3" height="4.3" fill="#fff" stroke="#404040" stroke-width="0.9"/>
<rect x="168.83" y="422.51" width="4.3" height="4.3" fill="#fff" stroke="#404040" stroke-width="0.9"/>
<rect x="170.71" y="423.77" width="4.3" height="4.3" fill="#fff" stroke="#404040" stroke-width="0.9"/>
<rect x="172.6" y="423.93" width="4.3" height="4.3" fill="#fff" stroke="#404040" stroke-width="0.9"/>
<rect x="174.48" y="423.94" width="4.3" height="4.3" fill="#fff" stroke="#404040" stroke-width="0.9"/>
<rect x="176.37" y="424.09" width="4.3" height="4.3" fill="#fff" stroke="#404040" stroke-width="0.9"/>
<rect x="178.26" y="425.17" width="4.3" height="4.3" fill="#fff" stroke="#404040" stroke-width="0.9"/>
<rect x="180.14" y="425.81" width="4.3" height="4.3" fill="#fff" stroke="#404040" stroke-width="0.9"/>
<rect x="182.03" y="425.37" width="4.3" height="4.3" fill="#fff" stroke="#404040" stroke-width="0.9"/>
<rect x="183.92" y="426.26" width="4.3" height="4.3" fill="#fff" stroke="#404040" stroke-width="0.9"/>
<rect x="185.8" y="426.83" width="4.3" height="4.3" fill="#fff" stroke="#404040" stroke-width="0.9"/>
<rect x="187.69" y="427.25" width="4.3" height="4.3" fill="#fff" stroke="#404040" stroke-width="0.9"/>
<rect x="189.57" y="427.13" width="4.3" height="4.3" fill="#fff" stroke="#404040" stroke-width="0.9"/>
<rect x="191.46" y="427" width="4.3" height="4.3" fill="#fff" stroke="#404040" stroke-width="0.9"/>
<rect x="193.35" y="427.6" width="4.3" height="4.3" fill="#fff" stroke="#404040" stroke-width="0.9"/>
<rect x="195.23" y="427.96" width="4.3" height="4.3" fill="#fff" stroke="#404040" stroke-width="0.9"/>
<rect x="197.12" y="427.15" width="4.3" height="4.3" fill="#fff" stroke="#404040" stroke-width="0.9"/>
<rect x="199.01" y="427.43" width="4.3" height="4.3" fill="#fff" stroke="#404040" stroke-width="0.9"/>
<rect x="200.89" y="428.22" width="4.3" height="4.3" fill="#fff" stroke="#404040" stroke-width="0.9"/>
<rect x="202.78" y="428.27" width="4.3" height="4.3" fill="#fff" stroke="#404040" stroke-width="0.9"/>
<rect x="204.66" y="428.2" width="4.3" height="4.3" fill="#fff" stroke="#404040" stroke-width="0.9"/>
<rect x="206.55" y="427.51" width="4.3" height="4.3" fill="#fff" stroke="#404040" stroke-width="0.9"/>
<rect x="208.44" y="428.43" width="4.3" height="4.3" fill="#fff" stroke="#404040" stroke-width="0.9"/>
<rect x="210.32" y="428.82" width="4.3" height="4.3" fill="#fff" stroke="#404040" stroke-width="0.9"/>
<rect x="212.21" y="428.97" width="4.3" height="4.3" fill="#fff" stroke="#404040" stroke-width="0.9"/>
<rect x="214.1" y="428.74" width="4.3" height="4.3" fill="#fff" stroke="#404040" stroke-width="0.9"/>
<rect x="215.98" y="428.08" width="4.3" height="4.3" fill="#fff" stroke="#404040" stroke-width="0.9"/>
<rect x="217.87" y="429.15" width="4.3" height="4.3" fill="#fff" stroke="#404040" stroke-width="0.9"/>
<rect x="219.76" y="428.52" width="4.3" height="4.3" fill="#fff" stroke="#404040" stroke-width="0.9"/>
<rect x="221.64" y="429.16" width="4.3" height="4.3" fill="#fff" stroke="#404040" stroke-width="0.9"/>
<rect x="223.53" y="429.65" width="4.3" height="4.3" fill="#fff" stroke="#404040" stroke-width="0.9"/>
<rect x="225.41" y="429.48" width="4.3" height="4.3" fill="#fff" stroke="#404040" stroke-width="0.9"/>
<rect x="227.3" y="428.91" width="4.3" height="4.3" fill="#fff" stroke="#404040" stroke-width="0.9"/>
<rect x="229.19" y="429.22" width="4.3" height="4.3" fill="#fff" stroke="#404040" stroke-width="0.9"/>
<rect x="231.07" y="430.09" width="4.3" height="4.3" fill="#fff" stroke="#404040" stroke-width="0.9"/>
<rect x="232.96" y="429.29" width="4.3" height="4.3" fill="#fff" stroke="#404040" stroke-width="0.9"/>
<rect x="234.85" y="429.96" width="4.3" height="4.3" fill="#fff" stroke="#404040" stroke-width="0.9"/>
<rect x="236.73" y="429.84" width="4.3" height="4.3" fill="#fff" stroke="#404040" stroke-width="0.9"/>
<rect x="238.62" y="429.66" width="4.3" height="4.3" fill="#fff" stroke="#404040" stroke-width="0.9"/>
<rect x="240.5" y="430.33" width="4.3" height="4.3" fill="#fff" stroke="#404040" stroke-width="0.9"/>
<rect x="242.39" y="429.75" width="4.3" height="4.3" fill="#fff" stroke="#404040" stroke-width="0.9"/>
<rect x="244.28" y="429.95" width="4.3" height="4.3" fill="#fff" stroke="#404040" stroke-width="0.9"/>
<rect x="246.16" y="430.39" width="4.3" height="4.3" fill="#fff" stroke="#404040" stroke-width="0.9"/>
<rect x="248.05" y="430.14" width="4.3" height="4.3" fill="#fff" stroke="#404040" stroke-width="0.9"/>
<rect x="249.94" y="430.24" width="4.3" height="4.3" fill="#fff" stroke="#404040" stroke-width="0.9"/>
<rect x="251.82" y="430.98" width="4.3" height="4.3" fill="#fff" stroke="#404040" stroke-width="0.9"/>
<rect x="253.71" y="431.3" width="4.3" height="4.3" fill="#fff" stroke="#404040" stroke-width="0.9"/>
<rect x="255.6" y="431.59" width="4.3" height="4.3" fill="#fff" stroke="#404040" stroke-width="0.9"/>
<rect x="257.48" y="430.81" width="4.3" height="4.3" fill="#fff" stroke="#404040" stroke-width="0.9"/>
<rect x="259.37" y="431.19" width="4.3" height="4.3" fill="#fff" stroke="#404040" stroke-width="0.9"/>
<rect x="261.25" y="431.06" width="4.3" height="4.3" fill="#fff" stroke="#404040" stroke-width="0.9"/>
<rect x="263.14" y="431.42" width="4.3" height="4.3" fill="#fff" stroke="#404040" stroke-width="0.9"/>
<rect x="265.03" y="431.31" width="4.3" height="4.3" fill="#fff" stroke="#404040" stroke-width="0.9"/>
<rect x="266.91" y="431.87" width="4.3" height="4.3" fill="#fff" stroke="#404040" stroke-width="0.9"/>
<rect x="268.8" y="431.21" width="4.3" height="4.3" fill="#fff" stroke="#404040" stroke-width="0.9"/>
<rect x="270.69" y="430.84" width="4.3" height="4.3" fill="#fff" stroke="#404040" stroke-width="0.9"/>
<rect x="272.57" y="431.63" width="4.3" height="4.3" fill="#fff" stroke="#404040" stroke-width="0.9"/>
<rect x="274.46" y="430.99" width="4.3" height="4.3" fill="#fff" stroke="#404040" stroke-width="0.9"/>
<rect x="276.34" y="431.59" width="4.3" height="4.3" fill="#fff" stroke="#404040" stroke-width="0.9"/>
<rect x="278.23" y="431.46" width="4.3" height="4.3" fill="#fff" stroke="#404040" stroke-width="0.9"/>
<rect x="280.12" y="431.96" width="4.3" height="4.3" fill="#fff" stroke="#404040" stroke-width="0.9"/>
<rect x="282" y="431.55" width="4.3" height="4.3" fill="#fff" stroke="#404040" stroke-width="0.9"/>
<rect x="283.89" y="431.65" width="4.3" height="4.3" fill="#fff" stroke="#404040" stroke-width="0.9"/>
<rect x="285.78" y="431.24" width="4.3" height="4.3" fill="#fff" stroke="#404040" stroke-width="0.9"/>
<rect x="287.66" y="431.6" width="4.3" height="4.3" fill="#fff" stroke="#404040" stroke-width="0.9"/>
<rect x="289.55" y="431.26" width="4.3" height="4.3" fill="#fff" stroke="#404040" stroke-width="0.9"/>
<rect x="291.43" y="431.88" width="4.3" height="4.3" fill="#fff" stroke="#404040" stroke-width="0.9"/>
<rect x="293.32" y="431.62" width="4.3" height="4.3" fill="#fff" stroke="#404040" stroke-width="0.9"/>
<rect x="295.21" y="431.17" width="4.3" height="4.3" fill="#fff" stroke="#404040" stroke-width="0.9"/>
<rect x="297.09" y="431.31" width="4.3" height="4.3" fill="#fff" stroke="#404040" stroke-width="0.9"/>
<rect x="298.98" y="431.5" width="4.3" height="4.3" fill="#fff" stroke="#404040" stroke-width="0.9"/>
<rect x="300.87" y="431.95" width="4.3" height="4.3" fill="#fff" stroke="#404040" stroke-width="0.9"/>
<rect x="302.75" y="431.29" width="4.3" height="4.3" fill="#fff" stroke="#404040" stroke-width="0.9"/>
<rect x="304.64" y="431.95" width="4.3" height="4.3" fill="#fff" stroke="#404040" stroke-width="0.9"/>
<rect x="306.53" y="431.89" width="4.3" height="4.3" fill="#fff" stroke="#404040" stroke-width="0.9"/>
<rect x="308.41" y="431.22" width="4.3" height="4.3" fill="#fff" stroke="#404040" stroke-width="0.9"/>
<rect x="310.3" y="431.94" width="4.3" height="4.3" fill="#fff" stroke="#404040" stroke-width="0.9"/>
<rect x="312.18" y="431.26" width="4.3" height="4.3" fill="#fff" stroke="#404040" stroke-width="0.9"/>
<rect x="314.07" y="431.31" width="4.3" height="4.3" fill="#fff" stroke="#404040" stroke-width="0.9"/>
<rect x="315.96" y="431.89" width="4.3" height="4.3" fill="#fff" stroke="#404040" stroke-width="0.9"/>
<rect x="317.84" y="431.48" width="4.3" height="4.3" fill="#fff" stroke="#404040" stroke-width="0.9"/>
<rect x="319.73" y="432.26" width="4.3" height="4.3" fill="#fff" stroke="#404040" stroke-width="0.9"/>
<rect x="321.62" y="431.79" width="4.3" height="4.3" fill="#fff" stroke="#404040" stroke-width="0.9"/>
<rect x="323.5" y="431.62" width="4.3" height="4.3" fill="#fff" stroke="#404040" stroke-width="0.9"/>
<rect x="325.39" y="432.2" width="4.3" height="4.3" fill="#fff" stroke="#404040" stroke-width="0.9"/>
<rect x="327.27" y="431.3" width="4.3" height="4.3" fill="#fff" stroke="#404040" stroke-width="0.9"/>
<rect x="329.16" y="432.14" width="4.3" height="4.3" fill="#fff" stroke="#404040" stroke-width="0.9"/>
<rect x="331.05" y="431.35" width="4.3" height="4.3" fill="#fff" stroke="#404040" stroke-width="0.9"/>
<rect x="332.93" y="431.48" width="4.3" height="4.3" fill="#fff" stroke="#404040" stroke-width="0.9"/>
<rect x="334.82" y="432.46" width="4.3" height="4.3" fill="#fff" stroke="#404040" stroke-width="0.9"/>
<rect x="336.71" y="432.15" width="4.3" height="4.3" fill="#fff" stroke="#404040" stroke-width="0.9"/>
<rect x="338.59" y="431.61" width="4.3" height="4.3" fill="#fff" stroke="#404040" stroke-width="0.9"/>
<rect x="340.48" y="431.5" width="4.3" height="4.3" fill="#fff" stroke="#404040" stroke-width="0.9"/>
<rect x="342.36" y="432.54" width="4.3" height="4.3" fill="#fff" stroke="#404040" stroke-width="0.9"/>
<rect x="344.25" y="432.18" width="4.3" height="4.3" fill="#fff" stroke="#404040" stroke-width="0.9"/>
<rect x="346.14" y="432.38" width="4.3" height="4.3" fill="#fff" stroke="#404040" stroke-width="0.9"/>
<rect x="348.02" y="431.58" width="4.3" height="4.3" fill="#fff" stroke="#404040" stroke-width="0.9"/>
<rect x="349.91" y="432.18" width="4.3" height="4.3" fill="#fff" stroke="#404040" stroke-width="0.9"/>
<rect x="351.8" y="431.87" width="4.3" height="4.3" fill="#fff" stroke="#404040" stroke-width="0.9"/>
<rect x="353.68" y="431.74" width="4.3" height="4.3" fill="#fff" stroke="#404040" stroke-width="0.9"/>
<rect x="355.57" y="431.87" width="4.3" height="4.3" fill="#fff" stroke="#404040" stroke-width="0.9"/>
<rect x="357.46" y="432.22" width="4.3" height="4.3" fill="#fff" stroke="#404040" stroke-width="0.9"/>
<rect x="359.34" y="431.92" width="4.3" height="4.3" fill="#fff" stroke="#404040" stroke-width="0.9"/>
<rect x="361.23" y="431.97" width="4.3" height="4.3" fill="#fff" stroke="#404040" stroke-width="0.9"/>
<rect x="363.11" y="431.69" width="4.3" height="4.3" fill="#fff" stroke="#404040" stroke-width="0.9"/>
<rect x="365" y="432.54" width="4.3" height="4.3" fill="#fff" stroke="#404040" stroke-width="0.9"/>
<rect x="366.89" y="432.33" width="4.3" height="4.3" fill="#fff" stroke="#404040" stroke-width="0.9"/>
<rect x="368.77" y="432.53" width="4.3" height="4.3" fill="#fff" stroke="#404040" stroke-width="0.9"/>
<rect x="370.66" y="432.1" width="4.3" height="4.3" fill="#fff" stroke="#404040" stroke-width="0.9"/>
<rect x="372.55" y="432.62" width="4.3" height="4.3" fill="#fff" stroke="#404040" stroke-width="0.9"/>
<rect x="374.43" y="432.23" width="4.3" height="4.3" fill="#fff" stroke="#404040" stroke-width="0.9"/>
<rect x="376.32" y="432.34" width="4.3" height="4.3" fill="#fff" stroke="#404040" stroke-width="0.9"/>
<rect x="378.2" y="432.33" width="4.3" height="4.3" fill="#fff" stroke="#404040" stroke-width="0.9"/>
<rect x="380.09" y="432.54" width="4.3" height="4.3" fill="#fff" stroke="#404040" stroke-width="0.9"/>
<rect x="381.98" y="432.14" width="4.3" height="4.3" fill="#fff" stroke="#404040" stroke-width="0.9"/>
<rect x="383.86" y="431.8" width="4.3" height="4.3" fill="#fff" stroke="#404040" stroke-width="0.9"/>
<rect x="385.75" y="431.73" width="4.3" height="4.3" fill="#fff" stroke="#404040" stroke-width="0.9"/>
<rect x="387.64" y="431.95" width="4.3" height="4.3" fill="#fff" stroke="#404040" stroke-width="0.9"/>
<rect x="389.52" y="431.77" width="4.3" height="4.3" fill="#fff" stroke="#404040" stroke-width="0.9"/>
<rect x="391.41" y="432.8" width="4.3" height="4.3" fill="#fff" stroke="#404040" stroke-width="0.9"/>
<rect x="393.3" y="432.33" width="4.3" height="4.3" fill="#fff" stroke="#404040" stroke-width="0.9"/>
<rect x="395.18" y="432.67" width="4.3" height="4.3" fill="#fff" stroke="#404040" stroke-width="0.9"/>
<rect x="397.07" y="431.77" width="4.3" height="4.3" fill="#fff" stroke="#404040" stroke-width="0.9"/>
<rect x="398.95" y="432.34" width="4.3" height="4.3" fill="#fff" stroke="#404040" stroke-width="0.9"/>
<rect x="400.84" y="432.86" width="4.3" height="4.3" fill="#fff" stroke="#404040" stroke-width="0.9"/>
<rect x="402.73" y="432.54" width="4.3" height="4.3" fill="#fff" stroke="#404040" stroke-width="0.9"/>
<rect x="404.61" y="432.32" width="4.3" height="4.3" fill="#fff" stroke="#404040" stroke-width="0.9"/>
<rect x="406.5" y="432.38" width="4.3" height="4.3" fill="#fff" stroke="#404040" stroke-width="0.9"/>
<rect x="408.39" y="431.95" width="4.3" height="4.3" fill="#fff" stroke="#404040" stroke-width="0.9"/>
<rect x="410.27" y="432.03" width="4.3" height="4.3" fill="#fff" stroke="#404040" stroke-width="0.9"/>
<rect x="412.16" y="432.04" width="4.3" height="4.3" fill="#fff" stroke="#404040" stroke-width="0.9"/>
<rect x="414.04" y="432.31" width="4.3" height="4.3" fill="#fff" stroke="#404040" stroke-width="0.9"/>
<rect x="415.93" y="432.33" width="4.3" height="4.3" fill="#fff" stroke="#404040" stroke-width="0.9"/>
<rect x="417.82" y="432.94" width="4.3" height="4.3" fill="#fff" stroke="#404040" stroke-width="0.9"/>
<rect x="419.7" y="432.07" width="4.3" height="4.3" fill="#fff" stroke="#404040" stroke-width="0.9"/>
<rect x="421.59" y="432.2" width="4.3" height="4.3" fill="#fff" stroke="#404040" stroke-width="0.9"/>
<rect x="423.48" y="432.24" width="4.3" height="4.3" fill="#fff" stroke="#404040" stroke-width="0.9"/>
<rect x="425.36" y="432.11" width="4.3" height="4.3" fill="#fff" stroke="#404040" stroke-width="0.9"/>
<rect x="427.25" y="432.27" width="4.3" height="4.3" fill="#fff" stroke="#404040" stroke-width="0.9"/>
<rect x="429.13" y="432.22" width="4.3" height="4.3" fill="#fff" stroke="#404040" stroke-width="0.9"/>
<rect x="431.02" y="432.53" width="4.3" height="4.3" fill="#fff" stroke="#404040" stroke-width="0.9"/>
<rect x="432.91" y="432" width="4.3" height="4.3" fill="#fff" stroke="#404040" stroke-width="0.9"/>
<rect x="434.79" y="433.08" width="4.3" height="4.3" fill="#fff" stroke="#404040" stroke-width="0.9"/>
<rect x="436.68" y="432.42" width="4.3" height="4.3" fill="#fff" stroke="#404040" stroke-width="0.9"/>
<rect x="438.57" y="433.12" width="4.3" height="4.3" fill="#fff" stroke="#404040" stroke-width="0.9"/>
<rect x="440.45" y="432.83" width="4.3" height="4.3" fill="#fff" stroke="#404040" stroke-width="0.9"/>
<rect x="442.34" y="432.82" width="4.3" height="4.3" fill="#fff" stroke="#404040" stroke-width="0.9"/>
<rect x="444.23" y="432.59" width="4.3" height="4.3" fill="#fff" stroke="#404040" stroke-width="0.9"/>
<rect x="446.11" y="433.16" width="4.3" height="4.3" fill="#fff" stroke="#404040" stroke-width="0.9"/>
<rect x="448" y="432.18" width="4.3" height="4.3" fill="#fff" stroke="#404040" stroke-width="0.9"/>
<rect x="449.88" y="432.85" width="4.3" height="4.3" fill="#fff" stroke="#404040" stroke-width="0.9"/>
<rect x="451.77" y="432.38" width="4.3" height="4.3" fill="#fff" stroke="#404040" stroke-width="0.9"/>
<rect x="453.66" y="432.82" width="4.3" height="4.3" fill="#fff" stroke="#404040" stroke-width="0.9"/>
<rect x="455.54" y="432.86" width="4.3" height="4.3" fill="#fff" stroke="#404040" stroke-width="0.9"/>
<rect x="457.43" y="432.16" width="4.3" height="4.3" fill="#fff" stroke="#404040" stroke-width="0.9"/>
<rect x="459.32" y="432.18" width="4.3" height="4.3" fill="#fff" stroke="#404040" stroke-width="0.9"/>
<rect x="461.2" y="431.95" width="4.3" height="4.3" fill="#fff" stroke="#404040" stroke-width="0.9"/>
<rect x="463.09" y="432.18" width="4.3" height="4.3" fill="#fff" stroke="#404040" stroke-width="0.9"/>
<rect x="464.97" y="431.97" width="4.3" height="4.3" fill="#fff" stroke="#404040" stroke-width="0.9"/>
<rect x="466.86" y="432.34" width="4.3" height="4.3" fill="#fff" stroke="#404040" stroke-width="0.9"/>
<rect x="468.75" y="433" width="4.3" height="4.3" fill="#fff" stroke="#404040" stroke-width="0.9"/>
<rect x="470.63" y="432.25" width="4.3" height="4.3" fill="#fff" stroke="#404040" stroke-width="0.9"/>
<rect x="472.52" y="432.17" width="4.3" height="4.3" fill="#fff" stroke="#404040" stroke-width="0.9"/>
<rect x="474.41" y="432.33" width="4.3" height="4.3" fill="#fff" stroke="#404040" stroke-width="0.9"/>
<rect x="476.29" y="432.09" width="4.3" height="4.3" fill="#fff" stroke="#404040" stroke-width="0.9"/>
<rect x="478.18" y="432.86" width="4.3" height="4.3" fill="#fff" stroke="#404040" stroke-width="0.9"/>
<rect x="480.06" y="433.08" width="4.3" height="4.3" fill="#fff" stroke="#404040" stroke-width="0.9"/>
<rect x="481.95" y="432.64" width="4.3" height="4.3" fill="#fff" stroke="#404040" stroke-width="0.9"/>
<rect x="483.84" y="432.97" width="4.3" height="4.3" fill="#fff" stroke="#404040" stroke-width="0.9"/>
<rect x="485.72" y="433.72" width="4.3" height="4.3" fill="#fff" stroke="#404040" stroke-width="0.9"/>
<rect x="487.61" y="434.27" width="4.3" height="4.3" fill="#fff" stroke="#404040" stroke-width="0.9"/>
<rect x="489.5" y="434.15" width="4.3" height="4.3" fill="#fff" stroke="#404040" stroke-width="0.9"/>
<rect x="491.38" y="434.12" width="4.3" height="4.3" fill="#fff" stroke="#404040" stroke-width="0.9"/>
<rect x="493.27" y="435.01" width="4.3" height="4.3" fill="#fff" stroke="#404040" stroke-width="0.9"/>
<rect x="495.16" y="434.08" width="4.3" height="4.3" fill="#fff" stroke="#404040" stroke-width="0.9"/>
<rect x="497.04" y="434.38" width="4.3" height="4.3" fill="#fff" stroke="#404040" stroke-width="0.9"/>
<rect x="498.93" y="435.47" width="4.3" height="4.3" fill="#fff" stroke="#404040" stroke-width="0.9"/>
<rect x="500.81" y="435.26" width="4.3" height="4.3" fill="#fff" stroke="#404040" stroke-width="0.9"/>
<rect x="502.7" y="435.05" width="4.3" height="4.3" fill="#fff" stroke="#404040" stroke-width="0.9"/>
<rect x="504.59" y="435.89" width="4.3" height="4.3" fill="#fff" stroke="#404040" stroke-width="0.9"/>
<rect x="506.47" y="436.65" width="4.3" height="4.3" fill="#fff" stroke="#404040" stroke-width="0.9"/>
<rect x="508.36" y="436.32" width="4.3" height="4.3" fill="#fff" stroke="#404040" stroke-width="0.9"/>
<rect x="510.25" y="436.35" width="4.3" height="4.3" fill="#fff" stroke="#404040" stroke-width="0.9"/>
<rect x="512.13" y="436.27" width="4.3" height="4.3" fill="#fff" stroke="#404040" stroke-width="0.9"/>
<rect x="514.02" y="436.48" width="4.3" height="4.3" fill="#fff" stroke="#404040" stroke-width="0.9"/>
<rect x="515.9" y="437.7" width="4.3" height="4.3" fill="#fff" stroke="#404040" stroke-width="0.9"/>
<rect x="517.79" y="437.45" width="4.3" height="4.3" fill="#fff" stroke="#404040" stroke-width="0.9"/>
<rect x="519.68" y="438.21" width="4.3" height="4.3" fill="#fff" stroke="#404040" stroke-width="0.9"/>
<rect x="521.56" y="437.39" width="4.3" height="4.3" fill="#fff" stroke="#404040" stroke-width="0.9"/>
<rect x="523.45" y="437.85" width="4.3" height="4.3" fill="#fff" stroke="#404040" stroke-width="0.9"/>
<rect x="525.34" y="437.85" width="4.3" height="4.3" fill="#fff" stroke="#404040" stroke-width="0.9"/>
<rect x="527.22" y="438.49" width="4.3" height="4.3" fill="#fff" stroke="#404040" stroke-width="0.9"/>
<rect x="529.11" y="438.32" width="4.3" height="4.3" fill="#fff" stroke="#404040" stroke-width="0.9"/>
<rect x="530.99" y="438.86" width="4.3" height="4.3" fill="#fff" stroke="#404040" stroke-width="0.9"/>
<rect x="532.88" y="439.34" width="4.3" height="4.3" fill="#fff" stroke="#404040" stroke-width="0.9"/>
<rect x="534.77" y="439.52" width="4.3" height="4.3" fill="#fff" stroke="#404040" stroke-width="0.9"/>
<rect x="536.65" y="439.51" width="4.3" height="4.3" fill="#fff" stroke="#404040" stroke-width="0.9"/>
<rect x="538.54" y="439.8" width="4.3" height="4.3" fill="#fff" stroke="#404040" stroke-width="0.9"/>
<rect x="540.43" y="441.22" width="4.3" height="4.3" fill="#fff" stroke="#404040" stroke-width="0.9"/>
<rect x="542.31" y="440.57" width="4.3" height="4.3" fill="#fff" stroke="#404040" stroke-width="0.9"/>
<rect x="544.2" y="441.26" width="4.3" height="4.3" fill="#fff" stroke="#404040" stroke-width="0.9"/>
<rect x="546.09" y="441.43" width="4.3" height="4.3" fill="#fff" stroke="#404040" stroke-width="0.9"/>
<rect x="547.97" y="441.89" width="4.3" height="4.3" fill="#fff" stroke="#404040" stroke-width="0.9"/>
<rect x="549.86" y="441.65" width="4.3" height="4.3" fill="#fff" stroke="#404040" stroke-width="0.9"/>
<rect x="551.74" y="442.23" width="4.3" height="4.3" fill="#fff" stroke="#404040" stroke-width="0.9"/>
<rect x="553.63" y="442.42" width="4.3" height="4.3" fill="#fff" stroke="#404040" stroke-width="0.9"/>
<rect x="555.52" y="443.39" width="4.3" height="4.3" fill="#fff" stroke="#404040" stroke-width="0.9"/>
<rect x="557.4" y="444.28" width="4.3" height="4.3" fill="#fff" stroke="#404040" stroke-width="0.9"/>
<rect x="559.29" y="444.34" width="4.3" height="4.3" fill="#fff" stroke="#404040" stroke-width="0.9"/>
<rect x="561.18" y="445.09" width="4.3" height="4.3" fill="#fff" stroke="#404040" stroke-width="0.9"/>
<rect x="563.06" y="444.76" width="4.3" height="4.3" fill="#fff" stroke="#404040" stroke-width="0.9"/>
<rect x="564.95" y="444.97" width="4.3" height="4.3" fill="#fff" stroke="#404040" stroke-width="0.9"/>
<rect x="566.83" y="446.04" width="4.3" height="4.3" fill="#fff" stroke="#404040" stroke-width="0.9"/>
<rect x="568.72" y="446.42" width="4.3" height="4.3" fill="#fff" stroke="#404040" stroke-width="0.9"/>
<rect x="570.61" y="446.96" width="4.3" height="4.3" fill="#fff" stroke="#404040" stroke-width="0.9"/>
<rect x="572.49" y="447.17" width="4.3" height="4.3" fill="#fff" stroke="#404040" stroke-width="0.9"/>
<rect x="574.38" y="447.91" width="4.3" height="4.3" fill="#fff" stroke="#404040" stroke-width="0.9"/>
<rect x="576.27" y="448.48" width="4.3" height="4.3" fill="#fff" stroke="#404040" stroke-width="0.9"/>
<rect x="578.15" y="449.15" width="4.3" height="4.3" fill="#fff" stroke="#404040" stroke-width="0.9"/>
<rect x="580.04" y="447.89" width="4.3" height="4.3" fill="#fff" stroke="#404040" stroke-width="0.9"/>
<rect x="581.93" y="447.52" width="4.3" height="4.3" fill="#fff" stroke="#404040" stroke-width="0.9"/>
<rect x="583.81" y="447.44" width="4.3" height="4.3" fill="#fff" stroke="#404040" stroke-width="0.9"/>
<rect x="585.7" y="446.19" width="4.3" height="4.3" fill="#fff" stroke="#404040" stroke-width="0.9"/>
<rect x="587.58" y="445.52" width="4.3" height="4.3" fill="#fff" stroke="#404040" stroke-width="0.9"/>
<rect x="589.47" y="445.22" width="4.3" height="4.3" fill="#fff" stroke="#404040" stroke-width="0.9"/>
<rect x="591.36" y="444.42" width="4.3" height="4.3" fill="#fff" stroke="#404040" stroke-width="0.9"/>
<rect x="593.24" y="444.71" width="4.3" height="4.3" fill="#fff" stroke="#404040" stroke-width="0.9"/>
<rect x="595.13" y="444.23" width="4.3" height="4.3" fill="#fff" stroke="#404040" stroke-width="0.9"/>
<rect x="597.02" y="443.18" width="4.3" height="4.3" fill="#fff" stroke="#404040" stroke-width="0.9"/>
<rect x="598.9" y="442.52" width="4.3" height="4.3" fill="#fff" stroke="#404040" stroke-width="0.9"/>
<rect x="600.79" y="442.02" width="4.3" height="4.3" fill="#fff" stroke="#404040" stroke-width="0.9"/>
<rect x="602.67" y="441.77" width="4.3" height="4.3" fill="#fff" stroke="#404040" stroke-width="0.9"/>
<rect x="604.56" y="441.13" width="4.3" height="4.3" fill="#fff" stroke="#404040" stroke-width="0.9"/>
<rect x="606.45" y="441.1" width="4.3" height="4.3" fill="#fff" stroke="#404040" stroke-width="0.9"/>
<rect x="608.33" y="440.83" width="4.3" height="4.3" fill="#fff" stroke="#404040" stroke-width="0.9"/>
<rect x="610.22" y="439.99" width="4.3" height="4.3" fill="#fff" stroke="#404040" stroke-width="0.9"/>
<rect x="612.11" y="439.32" width="4.3" height="4.3" fill="#fff" stroke="#404040" stroke-width="0.9"/>
<rect x="613.99" y="440.2" width="4.3" height="4.3" fill="#fff" stroke="#404040" stroke-width="0.9"/>
<rect x="615.88" y="439.53" width="4.3" height="4.3" fill="#fff" stroke="#404040" stroke-width="0.9"/>
<rect x="617.76" y="439.82" width="4.3" height="4.3" fill="#fff" stroke="#404040" stroke-width="0.9"/>
<rect x="619.65" y="440.04" width="4.3" height="4.3" fill="#fff" stroke="#404040" stroke-width="0.9"/>
<rect x="621.54" y="440.25" width="4.3" height="4.3" fill="#fff" stroke="#404040" stroke-width="0.9"/>
<rect x="623.42" y="440.03" width="4.3" height="4.3" fill="#fff" stroke="#404040" stroke-width="0.9"/>
<rect x="625.31" y="440.53" width="4.3" height="4.3" fill="#fff" stroke="#404040" stroke-width="0.9"/>
<rect x="627.2" y="440.52" width="4.3" height="4.3" fill="#fff" stroke="#404040" stroke-width="0.9"/>
<rect x="629.08" y="441.15" width="4.3" height="4.3" fill="#fff" stroke="#404040" stroke-width="0.9"/>
<rect x="630.97" y="441.33" width="4.3" height="4.3" fill="#fff" stroke="#404040" stroke-width="0.9"/>
<rect x="632.86" y="442.15" width="4.3" height="4.3" fill="#fff" stroke="#404040" stroke-width="0.9"/>
<rect x="634.74" y="442.27" width="4.3" height="4.3" fill="#fff" stroke="#404040" stroke-width="0.9"/>
<rect x="636.63" y="442.81" width="4.3" height="4.3" fill="#fff" stroke="#404040" stroke-width="0.9"/>
<rect x="638.51" y="443.01" width="4.3" height="4.3" fill="#fff" stroke="#404040" stroke-width="0.9"/>
<rect x="640.4" y="443.26" width="4.3" height="4.3" fill="#fff" stroke="#404040" stroke-width="0.9"/>
<rect x="642.29" y="444.12" width="4.3" height="4.3" fill="#fff" stroke="#404040" stroke-width="0.9"/>
<rect x="644.17" y="444.34" width="4.3" height="4.3" fill="#fff" stroke="#404040" stroke-width="0.9"/>
<rect x="646.06" y="445.12" width="4.3" height="4.3" fill="#fff" stroke="#404040" stroke-width="0.9"/>
<rect x="647.95" y="445.26" width="4.3" height="4.3" fill="#fff" stroke="#404040" stroke-width="0.9"/>
<rect x="649.83" y="445.64" width="4.3" height="4.3" fill="#fff" stroke="#404040" stroke-width="0.9"/>
<rect x="651.72" y="445.53" width="4.3" height="4.3" fill="#fff" stroke="#404040" stroke-width="0.9"/>
<rect x="653.6" y="446.6" width="4.3" height="4.3" fill="#fff" stroke="#404040" stroke-width="0.9"/>
<rect x="655.49" y="446.5" width="4.3" height="4.3" fill="#fff" stroke="#404040" stroke-width="0.9"/>
<rect x="657.38" y="446.61" width="4.3" height="4.3" fill="#fff" stroke="#404040" stroke-width="0.9"/>
<rect x="659.26" y="446.66" width="4.3" height="4.3" fill="#fff" stroke="#404040" stroke-width="0.9"/>
<rect x="661.15" y="446.91" width="4.3" height="4.3" fill="#fff" stroke="#404040" stroke-width="0.9"/>
<rect x="663.04" y="447.16" width="4.3" height="4.3" fill="#fff" stroke="#404040" stroke-width="0.9"/>
<rect x="664.92" y="447.78" width="4.3" height="4.3" fill="#fff" stroke="#404040" stroke-width="0.9"/>
<rect x="666.81" y="447.44" width="4.3" height="4.3" fill="#fff" stroke="#404040" stroke-width="0.9"/>
<rect x="668.69" y="447.31" width="4.3" height="4.3" fill="#fff" stroke="#404040" stroke-width="0.9"/>
<rect x="670.58" y="448.28" width="4.3" height="4.3" fill="#fff" stroke="#404040" stroke-width="0.9"/>
<rect x="672.47" y="448.16" width="4.3" height="4.3" fill="#fff" stroke="#404040" stroke-width="0.9"/>
<rect x="674.35" y="447.65" width="4.3" height="4.3" fill="#fff" stroke="#404040" stroke-width="0.9"/>
<rect x="676.24" y="447.81" width="4.3" height="4.3" fill="#fff" stroke="#404040" stroke-width="0.9"/>
<rect x="111.45" y="344.95" width="4.3" height="4.3" fill="#fff" stroke="#404040" stroke-width="0.9"/>
<rect x="113.35" y="358.85" width="4.3" height="4.3" fill="#fff" stroke="#404040" stroke-width="0.9"/>
<rect x="116.85" y="396.85" width="4.3" height="4.3" fill="#fff" stroke="#404040" stroke-width="0.9"/>
<rect x="117.72" y="331.11" width="4.65" height="4.65" fill="#fff" stroke="#ff0000" stroke-width="0.75"/>
<rect x="119.61" y="332.9" width="4.65" height="4.65" fill="#fff" stroke="#ff0000" stroke-width="0.75"/>
<rect x="121.49" y="334.21" width="4.65" height="4.65" fill="#fff" stroke="#ff0000" stroke-width="0.75"/>
<rect x="123.38" y="334.44" width="4.65" height="4.65" fill="#fff" stroke="#ff0000" stroke-width="0.75"/>
<rect x="125.27" y="333.56" width="4.65" height="4.65" fill="#fff" stroke="#ff0000" stroke-width="0.75"/>
<rect x="127.15" y="332.56" width="4.65" height="4.65" fill="#fff" stroke="#ff0000" stroke-width="0.75"/>
<rect x="129.04" y="333.08" width="4.65" height="4.65" fill="#fff" stroke="#ff0000" stroke-width="0.75"/>
<rect x="130.92" y="332.9" width="4.65" height="4.65" fill="#fff" stroke="#ff0000" stroke-width="0.75"/>
<rect x="132.81" y="332.81" width="4.65" height="4.65" fill="#fff" stroke="#ff0000" stroke-width="0.75"/>
<rect x="134.7" y="331.98" width="4.65" height="4.65" fill="#fff" stroke="#ff0000" stroke-width="0.75"/>
<rect x="136.58" y="333.47" width="4.65" height="4.65" fill="#fff" stroke="#ff0000" stroke-width="0.75"/>
<rect x="138.47" y="334.1" width="4.65" height="4.65" fill="#fff" stroke="#ff0000" stroke-width="0.75"/>
<rect x="140.36" y="333.83" width="4.65" height="4.65" fill="#fff" stroke="#ff0000" stroke-width="0.75"/>
<rect x="142.24" y="332.19" width="4.65" height="4.65" fill="#fff" stroke="#ff0000" stroke-width="0.75"/>
<rect x="144.13" y="333.32" width="4.65" height="4.65" fill="#fff" stroke="#ff0000" stroke-width="0.75"/>
<rect x="146.01" y="332.38" width="4.65" height="4.65" fill="#fff" stroke="#ff0000" stroke-width="0.75"/>
<rect x="147.9" y="333.78" width="4.65" height="4.65" fill="#fff" stroke="#ff0000" stroke-width="0.75"/>
<rect x="149.79" y="333.09" width="4.65" height="4.65" fill="#fff" stroke="#ff0000" stroke-width="0.75"/>
<rect x="151.67" y="334.37" width="4.65" height="4.65" fill="#fff" stroke="#ff0000" stroke-width="0.75"/>
<rect x="153.56" y="333.99" width="4.65" height="4.65" fill="#fff" stroke="#ff0000" stroke-width="0.75"/>
<rect x="155.45" y="332.23" width="4.65" height="4.65" fill="#fff" stroke="#ff0000" stroke-width="0.75"/>
<rect x="157.33" y="332.74" width="4.65" height="4.65" fill="#fff" stroke="#ff0000" stroke-width="0.75"/>
<rect x="159.22" y="334.29" width="4.65" height="4.65" fill="#fff" stroke="#ff0000" stroke-width="0.75"/>
<rect x="161.11" y="333.11" width="4.65" height="4.65" fill="#fff" stroke="#ff0000" stroke-width="0.75"/>
<rect x="162.99" y="333.04" width="4.65" height="4.65" fill="#fff" stroke="#ff0000" stroke-width="0.75"/>
<rect x="164.88" y="333.05" width="4.65" height="4.65" fill="#fff" stroke="#ff0000" stroke-width="0.75"/>
<rect x="166.76" y="333.9" width="4.65" height="4.65" fill="#fff" stroke="#ff0000" stroke-width="0.75"/>
<rect x="168.65" y="334.34" width="4.65" height="4.65" fill="#fff" stroke="#ff0000" stroke-width="0.75"/>
<rect x="170.54" y="333.28" width="4.65" height="4.65" fill="#fff" stroke="#ff0000" stroke-width="0.75"/>
<rect x="172.42" y="334.42" width="4.65" height="4.65" fill="#fff" stroke="#ff0000" stroke-width="0.75"/>
<rect x="174.31" y="333.44" width="4.65" height="4.65" fill="#fff" stroke="#ff0000" stroke-width="0.75"/>
<rect x="176.2" y="332.16" width="4.65" height="4.65" fill="#fff" stroke="#ff0000" stroke-width="0.75"/>
<rect x="178.08" y="334" width="4.65" height="4.65" fill="#fff" stroke="#ff0000" stroke-width="0.75"/>
<rect x="179.97" y="332.97" width="4.65" height="4.65" fill="#fff" stroke="#ff0000" stroke-width="0.75"/>
<rect x="181.85" y="332.02" width="4.65" height="4.65" fill="#fff" stroke="#ff0000" stroke-width="0.75"/>
<rect x="183.74" y="334.42" width="4.65" height="4.65" fill="#fff" stroke="#ff0000" stroke-width="0.75"/>
<rect x="185.63" y="331.96" width="4.65" height="4.65" fill="#fff" stroke="#ff0000" stroke-width="0.75"/>
<rect x="187.51" y="333.47" width="4.65" height="4.65" fill="#fff" stroke="#ff0000" stroke-width="0.75"/>
<rect x="189.4" y="333.32" width="4.65" height="4.65" fill="#fff" stroke="#ff0000" stroke-width="0.75"/>
<rect x="191.29" y="334.45" width="4.65" height="4.65" fill="#fff" stroke="#ff0000" stroke-width="0.75"/>
<rect x="193.17" y="333.27" width="4.65" height="4.65" fill="#fff" stroke="#ff0000" stroke-width="0.75"/>
<rect x="195.06" y="332.91" width="4.65" height="4.65" fill="#fff" stroke="#ff0000" stroke-width="0.75"/>
<rect x="196.94" y="333.16" width="4.65" height="4.65" fill="#fff" stroke="#ff0000" stroke-width="0.75"/>
<rect x="198.83" y="333.06" width="4.65" height="4.65" fill="#fff" stroke="#ff0000" stroke-width="0.75"/>
<rect x="200.72" y="334.09" width="4.65" height="4.65" fill="#fff" stroke="#ff0000" stroke-width="0.75"/>
<rect x="202.6" y="333.65" width="4.65" height="4.65" fill="#fff" stroke="#ff0000" stroke-width="0.75"/>
<rect x="204.49" y="334.77" width="4.65" height="4.65" fill="#fff" stroke="#ff0000" stroke-width="0.75"/>
<rect x="206.38" y="333.54" width="4.65" height="4.65" fill="#fff" stroke="#ff0000" stroke-width="0.75"/>
<rect x="208.26" y="333.92" width="4.65" height="4.65" fill="#fff" stroke="#ff0000" stroke-width="0.75"/>
<rect x="210.15" y="333.74" width="4.65" height="4.65" fill="#fff" stroke="#ff0000" stroke-width="0.75"/>
<rect x="212.04" y="335.74" width="4.65" height="4.65" fill="#fff" stroke="#ff0000" stroke-width="0.75"/>
<rect x="213.92" y="335.47" width="4.65" height="4.65" fill="#fff" stroke="#ff0000" stroke-width="0.75"/>
<rect x="215.81" y="335.59" width="4.65" height="4.65" fill="#fff" stroke="#ff0000" stroke-width="0.75"/>
<rect x="217.69" y="335.08" width="4.65" height="4.65" fill="#fff" stroke="#ff0000" stroke-width="0.75"/>
<rect x="219.58" y="334.61" width="4.65" height="4.65" fill="#fff" stroke="#ff0000" stroke-width="0.75"/>
<rect x="221.47" y="334.03" width="4.65" height="4.65" fill="#fff" stroke="#ff0000" stroke-width="0.75"/>
<rect x="223.35" y="335.92" width="4.65" height="4.65" fill="#fff" stroke="#ff0000" stroke-width="0.75"/>
<rect x="225.24" y="335.12" width="4.65" height="4.65" fill="#fff" stroke="#ff0000" stroke-width="0.75"/>
<rect x="227.13" y="334.04" width="4.65" height="4.65" fill="#fff" stroke="#ff0000" stroke-width="0.75"/>
<rect x="229.01" y="334.48" width="4.65" height="4.65" fill="#fff" stroke="#ff0000" stroke-width="0.75"/>
<rect x="230.9" y="334.39" width="4.65" height="4.65" fill="#fff" stroke="#ff0000" stroke-width="0.75"/>
<rect x="232.78" y="336.09" width="4.65" height="4.65" fill="#fff" stroke="#ff0000" stroke-width="0.75"/>
<rect x="234.67" y="336.66" width="4.65" height="4.65" fill="#fff" stroke="#ff0000" stroke-width="0.75"/>
<rect x="236.56" y="334.93" width="4.65" height="4.65" fill="#fff" stroke="#ff0000" stroke-width="0.75"/>
<rect x="238.44" y="336.58" width="4.65" height="4.65" fill="#fff" stroke="#ff0000" stroke-width="0.75"/>
<rect x="240.33" y="335.44" width="4.65" height="4.65" fill="#fff" stroke="#ff0000" stroke-width="0.75"/>
<rect x="242.22" y="336.47" width="4.65" height="4.65" fill="#fff" stroke="#ff0000" stroke-width="0.75"/>
<rect x="244.1" y="337.03" width="4.65" height="4.65" fill="#fff" stroke="#ff0000" stroke-width="0.75"/>
<rect x="245.99" y="336.5" width="4.65" height="4.65" fill="#fff" stroke="#ff0000" stroke-width="0.75"/>
<rect x="247.87" y="337.06" width="4.65" height="4.65" fill="#fff" stroke="#ff0000" stroke-width="0.75"/>
<rect x="249.76" y="335.97" width="4.65" height="4.65" fill="#fff" stroke="#ff0000" stroke-width="0.75"/>
<rect x="251.65" y="335.04" width="4.65" height="4.65" fill="#fff" stroke="#ff0000" stroke-width="0.75"/>
<rect x="253.53" y="336.36" width="4.65" height="4.65" fill="#fff" stroke="#ff0000" stroke-width="0.75"/>
<rect x="255.42" y="336.58" width="4.65" height="4.65" fill="#fff" stroke="#ff0000" stroke-width="0.75"/>
<rect x="257.31" y="335.55" width="4.65" height="4.65" fill="#fff" stroke="#ff0000" stroke-width="0.75"/>
<rect x="259.19" y="336.1" width="4.65" height="4.65" fill="#fff" stroke="#ff0000" stroke-width="0.75"/>
<rect x="261.08" y="335.93" width="4.65" height="4.65" fill="#fff" stroke="#ff0000" stroke-width="0.75"/>
<rect x="262.97" y="335.2" width="4.65" height="4.65" fill="#fff" stroke="#ff0000" stroke-width="0.75"/>
<rect x="264.85" y="335.96" width="4.65" height="4.65" fill="#fff" stroke="#ff0000" stroke-width="0.75"/>
<rect x="266.74" y="336.16" width="4.65" height="4.65" fill="#fff" stroke="#ff0000" stroke-width="0.75"/>
<rect x="268.62" y="336.42" width="4.65" height="4.65" fill="#fff" stroke="#ff0000" stroke-width="0.75"/>
<rect x="270.51" y="337.03" width="4.65" height="4.65" fill="#fff" stroke="#ff0000" stroke-width="0.75"/>
<rect x="272.4" y="336.26" width="4.65" height="4.65" fill="#fff" stroke="#ff0000" stroke-width="0.75"/>
<rect x="274.28" y="337.8" width="4.65" height="4.65" fill="#fff" stroke="#ff0000" stroke-width="0.75"/>
<rect x="276.17" y="337.38" width="4.65" height="4.65" fill="#fff" stroke="#ff0000" stroke-width="0.75"/>
<rect x="278.06" y="337.68" width="4.65" height="4.65" fill="#fff" stroke="#ff0000" stroke-width="0.75"/>
<rect x="279.94" y="337.1" width="4.65" height="4.65" fill="#fff" stroke="#ff0000" stroke-width="0.75"/>
<rect x="281.83" y="337.06" width="4.65" height="4.65" fill="#fff" stroke="#ff0000" stroke-width="0.75"/>
<rect x="283.71" y="336.73" width="4.65" height="4.65" fill="#fff" stroke="#ff0000" stroke-width="0.75"/>
<rect x="285.6" y="337.43" width="4.65" height="4.65" fill="#fff" stroke="#ff0000" stroke-width="0.75"/>
<rect x="287.49" y="336.32" width="4.65" height="4.65" fill="#fff" stroke="#ff0000" stroke-width="0.75"/>
<rect x="289.37" y="336.94" width="4.65" height="4.65" fill="#fff" stroke="#ff0000" stroke-width="0.75"/>
<rect x="291.26" y="337.18" width="4.65" height="4.65" fill="#fff" stroke="#ff0000" stroke-width="0.75"/>
<rect x="293.15" y="336.79" width="4.65" height="4.65" fill="#fff" stroke="#ff0000" stroke-width="0.75"/>
<rect x="295.03" y="336.19" width="4.65" height="4.65" fill="#fff" stroke="#ff0000" stroke-width="0.75"/>
<rect x="296.92" y="335.68" width="4.65" height="4.65" fill="#fff" stroke="#ff0000" stroke-width="0.75"/>
<rect x="298.81" y="335.72" width="4.65" height="4.65" fill="#fff" stroke="#ff0000" stroke-width="0.75"/>
<rect x="300.69" y="336.44" width="4.65" height="4.65" fill="#fff" stroke="#ff0000" stroke-width="0.75"/>
<rect x="302.58" y="337.04" width="4.65" height="4.65" fill="#fff" stroke="#ff0000" stroke-width="0.75"/>
<rect x="304.46" y="337.52" width="4.65" height="4.65" fill="#fff" stroke="#ff0000" stroke-width="0.75"/>
<rect x="306.35" y="337.43" width="4.65" height="4.65" fill="#fff" stroke="#ff0000" stroke-width="0.75"/>
<rect x="308.24" y="336.39" width="4.65" height="4.65" fill="#fff" stroke="#ff0000" stroke-width="0.75"/>
<rect x="310.12" y="338.02" width="4.65" height="4.65" fill="#fff" stroke="#ff0000" stroke-width="0.75"/>
<rect x="312.01" y="336.34" width="4.65" height="4.65" fill="#fff" stroke="#ff0000" stroke-width="0.75"/>
<rect x="313.9" y="337.51" width="4.65" height="4.65" fill="#fff" stroke="#ff0000" stroke-width="0.75"/>
<rect x="315.78" y="335.85" width="4.65" height="4.65" fill="#fff" stroke="#ff0000" stroke-width="0.75"/>
<rect x="317.67" y="337.64" width="4.65" height="4.65" fill="#fff" stroke="#ff0000" stroke-width="0.75"/>
<rect x="319.55" y="337.44" width="4.65" height="4.65" fill="#fff" stroke="#ff0000" stroke-width="0.75"/>
<rect x="321.44" y="338.21" width="4.65" height="4.65" fill="#fff" stroke="#ff0000" stroke-width="0.75"/>
<rect x="323.33" y="338.07" width="4.65" height="4.65" fill="#fff" stroke="#ff0000" stroke-width="0.75"/>
<rect x="325.21" y="337.55" width="4.65" height="4.65" fill="#fff" stroke="#ff0000" stroke-width="0.75"/>
<rect x="327.1" y="337.96" width="4.65" height="4.65" fill="#fff" stroke="#ff0000" stroke-width="0.75"/>
<rect x="328.99" y="337.72" width="4.65" height="4.65" fill="#fff" stroke="#ff0000" stroke-width="0.75"/>
<rect x="330.87" y="337.41" width="4.65" height="4.65" fill="#fff" stroke="#ff0000" stroke-width="0.75"/>
<rect x="332.76" y="336.38" width="4.65" height="4.65" fill="#fff" stroke="#ff0000" stroke-width="0.75"/>
<rect x="334.64" y="337.2" width="4.65" height="4.65" fill="#fff" stroke="#ff0000" stroke-width="0.75"/>
<rect x="336.53" y="338.2" width="4.65" height="4.65" fill="#fff" stroke="#ff0000" stroke-width="0.75"/>
<rect x="338.42" y="336.52" width="4.65" height="4.65" fill="#fff" stroke="#ff0000" stroke-width="0.75"/>
<rect x="340.3" y="338.45" width="4.65" height="4.65" fill="#fff" stroke="#ff0000" stroke-width="0.75"/>
<rect x="342.19" y="337.35" width="4.65" height="4.65" fill="#fff" stroke="#ff0000" stroke-width="0.75"/>
<rect x="344.08" y="336.98" width="4.65" height="4.65" fill="#fff" stroke="#ff0000" stroke-width="0.75"/>
<rect x="345.96" y="335.99" width="4.65" height="4.65" fill="#fff" stroke="#ff0000" stroke-width="0.75"/>
<rect x="347.85" y="337.02" width="4.65" height="4.65" fill="#fff" stroke="#ff0000" stroke-width="0.75"/>
<rect x="349.74" y="336.49" width="4.65" height="4.65" fill="#fff" stroke="#ff0000" stroke-width="0.75"/>
<rect x="351.62" y="337.75" width="4.65" height="4.65" fill="#fff" stroke="#ff0000" stroke-width="0.75"/>
<rect x="353.51" y="338.41" width="4.65" height="4.65" fill="#fff" stroke="#ff0000" stroke-width="0.75"/>
<rect x="355.39" y="338.46" width="4.65" height="4.65" fill="#fff" stroke="#ff0000" stroke-width="0.75"/>
<rect x="357.28" y="337.71" width="4.65" height="4.65" fill="#fff" stroke="#ff0000" stroke-width="0.75"/>
<rect x="359.17" y="337.14" width="4.65" height="4.65" fill="#fff" stroke="#ff0000" stroke-width="0.75"/>
<rect x="361.05" y="336.44" width="4.65" height="4.65" fill="#fff" stroke="#ff0000" stroke-width="0.75"/>
<rect x="362.94" y="337.97" width="4.65" height="4.65" fill="#fff" stroke="#ff0000" stroke-width="0.75"/>
<rect x="364.83" y="337.64" width="4.65" height="4.65" fill="#fff" stroke="#ff0000" stroke-width="0.75"/>
<rect x="366.71" y="338.08" width="4.65" height="4.65" fill="#fff" stroke="#ff0000" stroke-width="0.75"/>
<rect x="368.6" y="337.22" width="4.65" height="4.65" fill="#fff" stroke="#ff0000" stroke-width="0.75"/>
<rect x="370.48" y="338.57" width="4.65" height="4.65" fill="#fff" stroke="#ff0000" stroke-width="0.75"/>
<rect x="372.37" y="336.84" width="4.65" height="4.65" fill="#fff" stroke="#ff0000" stroke-width="0.75"/>
<rect x="374.26" y="337.1" width="4.65" height="4.65" fill="#fff" stroke="#ff0000" stroke-width="0.75"/>
<rect x="376.14" y="337.03" width="4.65" height="4.65" fill="#fff" stroke="#ff0000" stroke-width="0.75"/>
<rect x="378.03" y="337.97" width="4.65" height="4.65" fill="#fff" stroke="#ff0000" stroke-width="0.75"/>
<rect x="379.92" y="338.71" width="4.65" height="4.65" fill="#fff" stroke="#ff0000" stroke-width="0.75"/>
<rect x="381.8" y="336.83" width="4.65" height="4.65" fill="#fff" stroke="#ff0000" stroke-width="0.75"/>
<rect x="383.69" y="338.06" width="4.65" height="4.65" fill="#fff" stroke="#ff0000" stroke-width="0.75"/>
<rect x="385.57" y="338.43" width="4.65" height="4.65" fill="#fff" stroke="#ff0000" stroke-width="0.75"/>
<rect x="387.46" y="337.05" width="4.65" height="4.65" fill="#fff" stroke="#ff0000" stroke-width="0.75"/>
<rect x="389.35" y="336.65" width="4.65" height="4.65" fill="#fff" stroke="#ff0000" stroke-width="0.75"/>
<rect x="391.23" y="337.98" width="4.65" height="4.65" fill="#fff" stroke="#ff0000" stroke-width="0.75"/>
<rect x="393.12" y="338.69" width="4.65" height="4.65" fill="#fff" stroke="#ff0000" stroke-width="0.75"/>
<rect x="395.01" y="338.83" width="4.65" height="4.65" fill="#fff" stroke="#ff0000" stroke-width="0.75"/>
<rect x="396.89" y="338.46" width="4.65" height="4.65" fill="#fff" stroke="#ff0000" stroke-width="0.75"/>
<rect x="398.78" y="337.68" width="4.65" height="4.65" fill="#fff" stroke="#ff0000" stroke-width="0.75"/>
<rect x="400.67" y="337.72" width="4.65" height="4.65" fill="#fff" stroke="#ff0000" stroke-width="0.75"/>
<rect x="402.55" y="338.01" width="4.65" height="4.65" fill="#fff" stroke="#ff0000" stroke-width="0.75"/>
<rect x="404.44" y="339.01" width="4.65" height="4.65" fill="#fff" stroke="#ff0000" stroke-width="0.75"/>
<rect x="406.32" y="337.47" width="4.65" height="4.65" fill="#fff" stroke="#ff0000" stroke-width="0.75"/>
<rect x="408.21" y="337.43" width="4.65" height="4.65" fill="#fff" stroke="#ff0000" stroke-width="0.75"/>
<rect x="410.1" y="338.3" width="4.65" height="4.65" fill="#fff" stroke="#ff0000" stroke-width="0.75"/>
<rect x="411.98" y="339.26" width="4.65" height="4.65" fill="#fff" stroke="#ff0000" stroke-width="0.75"/>
<rect x="413.87" y="337.25" width="4.65" height="4.65" fill="#fff" stroke="#ff0000" stroke-width="0.75"/>
<rect x="415.76" y="336.87" width="4.65" height="4.65" fill="#fff" stroke="#ff0000" stroke-width="0.75"/>
<rect x="417.64" y="337.11" width="4.65" height="4.65" fill="#fff" stroke="#ff0000" stroke-width="0.75"/>
<rect x="419.53" y="338.29" width="4.65" height="4.65" fill="#fff" stroke="#ff0000" stroke-width="0.75"/>
<rect x="421.41" y="338.42" width="4.65" height="4.65" fill="#fff" stroke="#ff0000" stroke-width="0.75"/>
<rect x="423.3" y="337.35" width="4.65" height="4.65" fill="#fff" stroke="#ff0000" stroke-width="0.75"/>
<rect x="425.19" y="337.39" width="4.65" height="4.65" fill="#fff" stroke="#ff0000" stroke-width="0.75"/>
<rect x="427.07" y="338.46" width="4.65" height="4.65" fill="#fff" stroke="#ff0000" stroke-width="0.75"/>
<rect x="428.96" y="338.62" width="4.65" height="4.65" fill="#fff" stroke="#ff0000" stroke-width="0.75"/>
<rect x="430.85" y="338.76" width="4.65" height="4.65" fill="#fff" stroke="#ff0000" stroke-width="0.75"/>
<rect x="432.73" y="338.88" width="4.65" height="4.65" fill="#fff" stroke="#ff0000" stroke-width="0.75"/>
<rect x="434.62" y="337.17" width="4.65" height="4.65" fill="#fff" stroke="#ff0000" stroke-width="0.75"/>
<rect x="436.5" y="338.29" width="4.65" height="4.65" fill="#fff" stroke="#ff0000" stroke-width="0.75"/>
<rect x="438.39" y="339.22" width="4.65" height="4.65" fill="#fff" stroke="#ff0000" stroke-width="0.75"/>
<rect x="440.28" y="339.56" width="4.65" height="4.65" fill="#fff" stroke="#ff0000" stroke-width="0.75"/>
<rect x="442.16" y="337.92" width="4.65" height="4.65" fill="#fff" stroke="#ff0000" stroke-width="0.75"/>
<rect x="444.05" y="339.33" width="4.65" height="4.65" fill="#fff" stroke="#ff0000" stroke-width="0.75"/>
<rect x="445.94" y="338.81" width="4.65" height="4.65" fill="#fff" stroke="#ff0000" stroke-width="0.75"/>
<rect x="447.82" y="339.57" width="4.65" height="4.65" fill="#fff" stroke="#ff0000" stroke-width="0.75"/>
<rect x="449.71" y="337.77" width="4.65" height="4.65" fill="#fff" stroke="#ff0000" stroke-width="0.75"/>
<rect x="451.6" y="339.01" width="4.65" height="4.65" fill="#fff" stroke="#ff0000" stroke-width="0.75"/>
<rect x="453.48" y="339.41" width="4.65" height="4.65" fill="#fff" stroke="#ff0000" stroke-width="0.75"/>
<rect x="455.37" y="338.48" width="4.65" height="4.65" fill="#fff" stroke="#ff0000" stroke-width="0.75"/>
<rect x="457.25" y="337.53" width="4.65" height="4.65" fill="#fff" stroke="#ff0000" stroke-width="0.75"/>
<rect x="459.14" y="337.79" width="4.65" height="4.65" fill="#fff" stroke="#ff0000" stroke-width="0.75"/>
<rect x="461.03" y="337.72" width="4.65" height="4.65" fill="#fff" stroke="#ff0000" stroke-width="0.75"/>
<rect x="462.91" y="337.57" width="4.65" height="4.65" fill="#fff" stroke="#ff0000" stroke-width="0.75"/>
<rect x="464.8" y="337.75" width="4.65" height="4.65" fill="#fff" stroke="#ff0000" stroke-width="0.75"/>
<rect x="466.69" y="338.98" width="4.65" height="4.65" fill="#fff" stroke="#ff0000" stroke-width="0.75"/>
<rect x="468.57" y="337.64" width="4.65" height="4.65" fill="#fff" stroke="#ff0000" stroke-width="0.75"/>
<rect x="470.46" y="339.32" width="4.65" height="4.65" fill="#fff" stroke="#ff0000" stroke-width="0.75"/>
<rect x="472.34" y="339.25" width="4.65" height="4.65" fill="#fff" stroke="#ff0000" stroke-width="0.75"/>
<rect x="474.23" y="339.45" width="4.65" height="4.65" fill="#fff" stroke="#ff0000" stroke-width="0.75"/>
<rect x="476.12" y="339.4" width="4.65" height="4.65" fill="#fff" stroke="#ff0000" stroke-width="0.75"/>
<rect x="478" y="339.16" width="4.65" height="4.65" fill="#fff" stroke="#ff0000" stroke-width="0.75"/>
<rect x="479.89" y="339.69" width="4.65" height="4.65" fill="#fff" stroke="#ff0000" stroke-width="0.75"/>
<rect x="481.78" y="339.77" width="4.65" height="4.65" fill="#fff" stroke="#ff0000" stroke-width="0.75"/>
<rect x="483.66" y="338.89" width="4.65" height="4.65" fill="#fff" stroke="#ff0000" stroke-width="0.75"/>
<rect x="485.55" y="339.76" width="4.65" height="4.65" fill="#fff" stroke="#ff0000" stroke-width="0.75"/>
<rect x="487.44" y="337.51" width="4.65" height="4.65" fill="#fff" stroke="#ff0000" stroke-width="0.75"/>
<rect x="489.32" y="337.5" width="4.65" height="4.65" fill="#fff" stroke="#ff0000" stroke-width="0.75"/>
<rect x="491.21" y="337.38" width="4.65" height="4.65" fill="#fff" stroke="#ff0000" stroke-width="0.75"/>
<rect x="493.09" y="337.74" width="4.65" height="4.65" fill="#fff" stroke="#ff0000" stroke-width="0.75"/>
<rect x="494.98" y="338.17" width="4.65" height="4.65" fill="#fff" stroke="#ff0000" stroke-width="0.75"/>
<rect x="496.87" y="338.37" width="4.65" height="4.65" fill="#fff" stroke="#ff0000" stroke-width="0.75"/>
<rect x="498.75" y="338.94" width="4.65" height="4.65" fill="#fff" stroke="#ff0000" stroke-width="0.75"/>
<rect x="500.64" y="339.09" width="4.65" height="4.65" fill="#fff" stroke="#ff0000" stroke-width="0.75"/>
<rect x="502.53" y="337.36" width="4.65" height="4.65" fill="#fff" stroke="#ff0000" stroke-width="0.75"/>
<rect x="504.41" y="338.18" width="4.65" height="4.65" fill="#fff" stroke="#ff0000" stroke-width="0.75"/>
<rect x="506.3" y="338.53" width="4.65" height="4.65" fill="#fff" stroke="#ff0000" stroke-width="0.75"/>
<rect x="508.18" y="338.08" width="4.65" height="4.65" fill="#fff" stroke="#ff0000" stroke-width="0.75"/>
<rect x="510.07" y="337.4" width="4.65" height="4.65" fill="#fff" stroke="#ff0000" stroke-width="0.75"/>
<rect x="511.96" y="338.63" width="4.65" height="4.65" fill="#fff" stroke="#ff0000" stroke-width="0.75"/>
<rect x="513.84" y="338.04" width="4.65" height="4.65" fill="#fff" stroke="#ff0000" stroke-width="0.75"/>
<rect x="515.73" y="338.84" width="4.65" height="4.65" fill="#fff" stroke="#ff0000" stroke-width="0.75"/>
<rect x="517.62" y="338.33" width="4.65" height="4.65" fill="#fff" stroke="#ff0000" stroke-width="0.75"/>
<rect x="519.5" y="339.54" width="4.65" height="4.65" fill="#fff" stroke="#ff0000" stroke-width="0.75"/>
<rect x="521.39" y="339.48" width="4.65" height="4.65" fill="#fff" stroke="#ff0000" stroke-width="0.75"/>
<rect x="523.27" y="337.2" width="4.65" height="4.65" fill="#fff" stroke="#ff0000" stroke-width="0.75"/>
<rect x="525.16" y="338.97" width="4.65" height="4.65" fill="#fff" stroke="#ff0000" stroke-width="0.75"/>
<rect x="527.05" y="338.86" width="4.65" height="4.65" fill="#fff" stroke="#ff0000" stroke-width="0.75"/>
<rect x="528.93" y="337.74" width="4.65" height="4.65" fill="#fff" stroke="#ff0000" stroke-width="0.75"/>
<rect x="530.82" y="337.26" width="4.65" height="4.65" fill="#fff" stroke="#ff0000" stroke-width="0.75"/>
<rect x="532.71" y="338.19" width="4.65" height="4.65" fill="#fff" stroke="#ff0000" stroke-width="0.75"/>
<rect x="534.59" y="337.86" width="4.65" height="4.65" fill="#fff" stroke="#ff0000" stroke-width="0.75"/>
<rect x="536.48" y="338.84" width="4.65" height="4.65" fill="#fff" stroke="#ff0000" stroke-width="0.75"/>
<rect x="538.37" y="339.3" width="4.65" height="4.65" fill="#fff" stroke="#ff0000" stroke-width="0.75"/>
<rect x="540.25" y="337.89" width="4.65" height="4.65" fill="#fff" stroke="#ff0000" stroke-width="0.75"/>
<rect x="542.14" y="337.64" width="4.65" height="4.65" fill="#fff" stroke="#ff0000" stroke-width="0.75"/>
<rect x="544.02" y="338.17" width="4.65" height="4.65" fill="#fff" stroke="#ff0000" stroke-width="0.75"/>
<rect x="545.91" y="338.69" width="4.65" height="4.65" fill="#fff" stroke="#ff0000" stroke-width="0.75"/>
<rect x="547.8" y="338.93" width="4.65" height="4.65" fill="#fff" stroke="#ff0000" stroke-width="0.75"/>
<rect x="549.68" y="338.37" width="4.65" height="4.65" fill="#fff" stroke="#ff0000" stroke-width="0.75"/>
<rect x="551.57" y="337.64" width="4.65" height="4.65" fill="#fff" stroke="#ff0000" stroke-width="0.75"/>
<rect x="553.46" y="337.75" width="4.65" height="4.65" fill="#fff" stroke="#ff0000" stroke-width="0.75"/>
<rect x="555.34" y="339.08" width="4.65" height="4.65" fill="#fff" stroke="#ff0000" stroke-width="0.75"/>
<rect x="557.23" y="338.23" width="4.65" height="4.65" fill="#fff" stroke="#ff0000" stroke-width="0.75"/>
<rect x="559.11" y="337.01" width="4.65" height="4.65" fill="#fff" stroke="#ff0000" stroke-width="0.75"/>
<rect x="561" y="337.97" width="4.65" height="4.65" fill="#fff" stroke="#ff0000" stroke-width="0.75"/>
<rect x="562.89" y="337.49" width="4.65" height="4.65" fill="#fff" stroke="#ff0000" stroke-width="0.75"/>
<rect x="564.77" y="338.61" width="4.65" height="4.65" fill="#fff" stroke="#ff0000" stroke-width="0.75"/>
<rect x="566.66" y="337.07" width="4.65" height="4.65" fill="#fff" stroke="#ff0000" stroke-width="0.75"/>
<rect x="568.55" y="337.58" width="4.65" height="4.65" fill="#fff" stroke="#ff0000" stroke-width="0.75"/>
<rect x="570.43" y="337.12" width="4.65" height="4.65" fill="#fff" stroke="#ff0000" stroke-width="0.75"/>
<rect x="572.32" y="338.12" width="4.65" height="4.65" fill="#fff" stroke="#ff0000" stroke-width="0.75"/>
<rect x="574.2" y="339.44" width="4.65" height="4.65" fill="#fff" stroke="#ff0000" stroke-width="0.75"/>
<rect x="576.09" y="338.28" width="4.65" height="4.65" fill="#fff" stroke="#ff0000" stroke-width="0.75"/>
<rect x="577.98" y="337.88" width="4.65" height="4.65" fill="#fff" stroke="#ff0000" stroke-width="0.75"/>
<rect x="579.86" y="339.3" width="4.65" height="4.65" fill="#fff" stroke="#ff0000" stroke-width="0.75"/>
<rect x="581.75" y="337.11" width="4.65" height="4.65" fill="#fff" stroke="#ff0000" stroke-width="0.75"/>
<rect x="583.64" y="337.8" width="4.65" height="4.65" fill="#fff" stroke="#ff0000" stroke-width="0.75"/>
<rect x="585.52" y="338.98" width="4.65" height="4.65" fill="#fff" stroke="#ff0000" stroke-width="0.75"/>
<rect x="587.41" y="336.89" width="4.65" height="4.65" fill="#fff" stroke="#ff0000" stroke-width="0.75"/>
<rect x="589.3" y="338.87" width="4.65" height="4.65" fill="#fff" stroke="#ff0000" stroke-width="0.75"/>
<rect x="591.18" y="337.81" width="4.65" height="4.65" fill="#fff" stroke="#ff0000" stroke-width="0.75"/>
<rect x="593.07" y="336.92" width="4.65" height="4.65" fill="#fff" stroke="#ff0000" stroke-width="0.75"/>
<rect x="594.95" y="337.53" width="4.65" height="4.65" fill="#fff" stroke="#ff0000" stroke-width="0.75"/>
<rect x="596.84" y="338.07" width="4.65" height="4.65" fill="#fff" stroke="#ff0000" stroke-width="0.75"/>
<rect x="598.73" y="337.87" width="4.65" height="4.65" fill="#fff" stroke="#ff0000" stroke-width="0.75"/>
<rect x="600.61" y="338.22" width="4.65" height="4.65" fill="#fff" stroke="#ff0000" stroke-width="0.75"/>
<rect x="602.5" y="337.01" width="4.65" height="4.65" fill="#fff" stroke="#ff0000" stroke-width="0.75"/>
<rect x="604.39" y="337.44" width="4.65" height="4.65" fill="#fff" stroke="#ff0000" stroke-width="0.75"/>
<rect x="606.27" y="339.41" width="4.65" height="4.65" fill="#fff" stroke="#ff0000" stroke-width="0.75"/>
<rect x="608.16" y="338.03" width="4.65" height="4.65" fill="#fff" stroke="#ff0000" stroke-width="0.75"/>
<rect x="610.04" y="338.1" width="4.65" height="4.65" fill="#fff" stroke="#ff0000" stroke-width="0.75"/>
<rect x="611.93" y="337.1" width="4.65" height="4.65" fill="#fff" stroke="#ff0000" stroke-width="0.75"/>
<rect x="613.82" y="337.6" width="4.65" height="4.65" fill="#fff" stroke="#ff0000" stroke-width="0.75"/>
<rect x="615.7" y="339.36" width="4.65" height="4.65" fill="#fff" stroke="#ff0000" stroke-width="0.75"/>
<rect x="617.59" y="338.66" width="4.65" height="4.65" fill="#fff" stroke="#ff0000" stroke-width="0.75"/>
<rect x="619.48" y="338.2" width="4.65" height="4.65" fill="#fff" stroke="#ff0000" stroke-width="0.75"/>
<rect x="621.36" y="337.01" width="4.65" height="4.65" fill="#fff" stroke="#ff0000" stroke-width="0.75"/>
<rect x="623.25" y="337.9" width="4.65" height="4.65" fill="#fff" stroke="#ff0000" stroke-width="0.75"/>
<rect x="625.13" y="338.9" width="4.65" height="4.65" fill="#fff" stroke="#ff0000" stroke-width="0.75"/>
<rect x="627.02" y="338.01" width="4.65" height="4.65" fill="#fff" stroke="#ff0000" stroke-width="0.75"/>
<rect x="628.91" y="338.42" width="4.65" height="4.65" fill="#fff" stroke="#ff0000" stroke-width="0.75"/>
<rect x="630.79" y="339.22" width="4.65" height="4.65" fill="#fff" stroke="#ff0000" stroke-width="0.75"/>
<rect x="632.68" y="338.55" width="4.65" height="4.65" fill="#fff" stroke="#ff0000" stroke-width="0.75"/>
<rect x="634.57" y="338.53" width="4.65" height="4.65" fill="#fff" stroke="#ff0000" stroke-width="0.75"/>
<rect x="636.45" y="336.97" width="4.65" height="4.65" fill="#fff" stroke="#ff0000" stroke-width="0.75"/>
<rect x="638.34" y="336.94" width="4.65" height="4.65" fill="#fff" stroke="#ff0000" stroke-width="0.75"/>
<rect x="640.23" y="338.88" width="4.65" height="4.65" fill="#fff" stroke="#ff0000" stroke-width="0.75"/>
<rect x="642.11" y="337.95" width="4.65" height="4.65" fill="#fff" stroke="#ff0000" stroke-width="0.75"/>
<rect x="644" y="339.15" width="4.65" height="4.65" fill="#fff" stroke="#ff0000" stroke-width="0.75"/>
<rect x="645.88" y="339.02" width="4.65" height="4.65" fill="#fff" stroke="#ff0000" stroke-width="0.75"/>
<rect x="647.77" y="339.25" width="4.65" height="4.65" fill="#fff" stroke="#ff0000" stroke-width="0.75"/>
<rect x="649.66" y="337.86" width="4.65" height="4.65" fill="#fff" stroke="#ff0000" stroke-width="0.75"/>
<rect x="651.54" y="339.47" width="4.65" height="4.65" fill="#fff" stroke="#ff0000" stroke-width="0.75"/>
<rect x="653.43" y="338.84" width="4.65" height="4.65" fill="#fff" stroke="#ff0000" stroke-width="0.75"/>
<rect x="655.32" y="339.19" width="4.65" height="4.65" fill="#fff" stroke="#ff0000" stroke-width="0.75"/>
<rect x="657.2" y="337.26" width="4.65" height="4.65" fill="#fff" stroke="#ff0000" stroke-width="0.75"/>
<rect x="659.09" y="338.91" width="4.65" height="4.65" fill="#fff" stroke="#ff0000" stroke-width="0.75"/>
<rect x="660.97" y="337.97" width="4.65" height="4.65" fill="#fff" stroke="#ff0000" stroke-width="0.75"/>
<rect x="662.86" y="339.4" width="4.65" height="4.65" fill="#fff" stroke="#ff0000" stroke-width="0.75"/>
<rect x="664.75" y="339.46" width="4.65" height="4.65" fill="#fff" stroke="#ff0000" stroke-width="0.75"/>
<rect x="666.63" y="337.44" width="4.65" height="4.65" fill="#fff" stroke="#ff0000" stroke-width="0.75"/>
<rect x="668.52" y="337.97" width="4.65" height="4.65" fill="#fff" stroke="#ff0000" stroke-width="0.75"/>
<rect x="670.41" y="337.58" width="4.65" height="4.65" fill="#fff" stroke="#ff0000" stroke-width="0.75"/>
<rect x="672.29" y="338.1" width="4.65" height="4.65" fill="#fff" stroke="#ff0000" stroke-width="0.75"/>
<rect x="674.18" y="337.62" width="4.65" height="4.65" fill="#fff" stroke="#ff0000" stroke-width="0.75"/>
<rect x="676.06" y="338.61" width="4.65" height="4.65" fill="#fff" stroke="#ff0000" stroke-width="0.75"/>
<rect x="111.47" y="340.68" width="4.65" height="4.65" fill="#fff" stroke="#ff0000" stroke-width="0.75"/>
<rect x="113.17" y="337.88" width="4.65" height="4.65" fill="#fff" stroke="#ff0000" stroke-width="0.75"/>
<rect x="115.27" y="337.28" width="4.65" height="4.65" fill="#fff" stroke="#ff0000" stroke-width="0.75"/>
<rect x="116.08" y="367.28" width="4.65" height="4.65" fill="#fff" stroke="#ff0000" stroke-width="0.75"/>
<rect x="296.92" y="349.18" width="4.65" height="4.65" fill="#fff" stroke="#ff0000" stroke-width="0.75"/>
<rect x="549.97" y="332.88" width="4.65" height="4.65" fill="#fff" stroke="#ff0000" stroke-width="0.75"/>
<rect x="549.97" y="346.38" width="4.65" height="4.65" fill="#fff" stroke="#ff0000" stroke-width="0.75"/>
<rect x="331.7" y="369.3" width="6" height="6" fill="#000000"/>
<rect x="332.05" y="391.85" width="5.1" height="5.1" fill="#fff" stroke="#404040" stroke-width="0.9"/>
<text x="355.3" y="377.5" font-size="18.4" font-family="Liberation Serif" font-weight="bold" fill="#000000" stroke="#000000" text-anchor="start">Charge</text>
<text x="355.3" y="400" font-size="18.4" font-family="Liberation Serif" font-weight="bold" fill="#000000" stroke="#000000" text-anchor="start">Dicharge</text>
<line x1="112.5" y1="314.3" x2="678.4" y2="314.3" stroke="#000000" stroke-width="1.6"/>
<line x1="112.5" y1="313.5" x2="112.5" y2="513" stroke="#000000" stroke-width="1.6"/>
<line x1="112.5" y1="512.2" x2="678.4" y2="512.2" stroke="#000000" stroke-width="1.6"/>
<line x1="678.4" y1="313.5" x2="678.4" y2="513" stroke="#ff0000" stroke-width="1.6"/>
<line x1="107.5" y1="512.2" x2="112.5" y2="512.2" stroke="#000000" stroke-width="1.5"/>
<line x1="107.5" y1="472.62" x2="112.5" y2="472.62" stroke="#000000" stroke-width="1.5"/>
<line x1="107.5" y1="433.04" x2="112.5" y2="433.04" stroke="#000000" stroke-width="1.5"/>
<line x1="107.5" y1="393.46" x2="112.5" y2="393.46" stroke="#000000" stroke-width="1.5"/>
<line x1="107.5" y1="353.88" x2="112.5" y2="353.88" stroke="#000000" stroke-width="1.5"/>
<line x1="107.5" y1="314.3" x2="112.5" y2="314.3" stroke="#000000" stroke-width="1.5"/>
<line x1="109.5" y1="492.41" x2="112.5" y2="492.41" stroke="#000000" stroke-width="1.5"/>
<line x1="109.5" y1="452.83" x2="112.5" y2="452.83" stroke="#000000" stroke-width="1.5"/>
<line x1="109.5" y1="413.25" x2="112.5" y2="413.25" stroke="#000000" stroke-width="1.5"/>
<line x1="109.5" y1="373.67" x2="112.5" y2="373.67" stroke="#000000" stroke-width="1.5"/>
<line x1="109.5" y1="334.09" x2="112.5" y2="334.09" stroke="#000000" stroke-width="1.5"/>
<line x1="112.5" y1="512.2" x2="112.5" y2="517.2" stroke="#000000" stroke-width="1.5"/>
<line x1="206.81" y1="512.2" x2="206.81" y2="517.2" stroke="#000000" stroke-width="1.5"/>
<line x1="301.13" y1="512.2" x2="301.13" y2="517.2" stroke="#000000" stroke-width="1.5"/>
<line x1="395.44" y1="512.2" x2="395.44" y2="517.2" stroke="#000000" stroke-width="1.5"/>
<line x1="489.76" y1="512.2" x2="489.76" y2="517.2" stroke="#000000" stroke-width="1.5"/>
<line x1="584.08" y1="512.2" x2="584.08" y2="517.2" stroke="#000000" stroke-width="1.5"/>
<line x1="678.39" y1="512.2" x2="678.39" y2="517.2" stroke="#000000" stroke-width="1.5"/>
<line x1="159.66" y1="512.2" x2="159.66" y2="515.2" stroke="#000000" stroke-width="1.5"/>
<line x1="253.97" y1="512.2" x2="253.97" y2="515.2" stroke="#000000" stroke-width="1.5"/>
<line x1="348.29" y1="512.2" x2="348.29" y2="515.2" stroke="#000000" stroke-width="1.5"/>
<line x1="442.6" y1="512.2" x2="442.6" y2="515.2" stroke="#000000" stroke-width="1.5"/>
<line x1="536.92" y1="512.2" x2="536.92" y2="515.2" stroke="#000000" stroke-width="1.5"/>
<line x1="631.23" y1="512.2" x2="631.23" y2="515.2" stroke="#000000" stroke-width="1.5"/>
<line x1="672.9" y1="512.2" x2="678.4" y2="512.2" stroke="#ff0000" stroke-width="1.5"/>
<line x1="672.9" y1="476.23" x2="678.4" y2="476.23" stroke="#ff0000" stroke-width="1.5"/>
<line x1="672.9" y1="440.26" x2="678.4" y2="440.26" stroke="#ff0000" stroke-width="1.5"/>
<line x1="672.9" y1="404.29" x2="678.4" y2="404.29" stroke="#ff0000" stroke-width="1.5"/>
<line x1="672.9" y1="368.32" x2="678.4" y2="368.32" stroke="#ff0000" stroke-width="1.5"/>
<line x1="672.9" y1="332.35" x2="678.4" y2="332.35" stroke="#ff0000" stroke-width="1.5"/>
<line x1="675.2" y1="494.22" x2="678.4" y2="494.22" stroke="#ff0000" stroke-width="1.5"/>
<line x1="675.2" y1="458.25" x2="678.4" y2="458.25" stroke="#ff0000" stroke-width="1.5"/>
<line x1="675.2" y1="422.28" x2="678.4" y2="422.28" stroke="#ff0000" stroke-width="1.5"/>
<line x1="675.2" y1="386.31" x2="678.4" y2="386.31" stroke="#ff0000" stroke-width="1.5"/>
<line x1="675.2" y1="350.34" x2="678.4" y2="350.34" stroke="#ff0000" stroke-width="1.5"/>
<line x1="675.2" y1="314.37" x2="678.4" y2="314.37" stroke="#ff0000" stroke-width="1.5"/>
<text x="102.4" y="518.8" font-size="20.5" font-family="Liberation Serif" font-weight="bold" fill="#000000" stroke="#000000" text-anchor="end">0</text>
<text x="102.4" y="479.22" font-size="20.5" font-family="Liberation Serif" font-weight="bold" fill="#000000" stroke="#000000" text-anchor="end">400</text>
<text x="102.4" y="439.64" font-size="20.5" font-family="Liberation Serif" font-weight="bold" fill="#000000" stroke="#000000" text-anchor="end">800</text>
<text x="102.4" y="400.06" font-size="20.5" font-family="Liberation Serif" font-weight="bold" fill="#000000" stroke="#000000" text-anchor="end">1200</text>
<text x="102.4" y="360.48" font-size="20.5" font-family="Liberation Serif" font-weight="bold" fill="#000000" stroke="#000000" text-anchor="end">1600</text>
<text x="102.4" y="320.9" font-size="20.5" font-family="Liberation Serif" font-weight="bold" fill="#000000" stroke="#000000" text-anchor="end">2000</text>
<text x="112.5" y="537" font-size="20.5" font-family="Liberation Serif" font-weight="bold" fill="#000000" stroke="#000000" text-anchor="middle">0</text>
<text x="206.81" y="537" font-size="20.5" font-family="Liberation Serif" font-weight="bold" fill="#000000" stroke="#000000" text-anchor="middle">50</text>
<text x="301.13" y="537" font-size="20.5" font-family="Liberation Serif" font-weight="bold" fill="#000000" stroke="#000000" text-anchor="middle">100</text>
<text x="395.44" y="537" font-size="20.5" font-family="Liberation Serif" font-weight="bold" fill="#000000" stroke="#000000" text-anchor="middle">150</text>
<text x="489.76" y="537" font-size="20.5" font-family="Liberation Serif" font-weight="bold" fill="#000000" stroke="#000000" text-anchor="middle">200</text>
<text x="584.08" y="537" font-size="20.5" font-family="Liberation Serif" font-weight="bold" fill="#000000" stroke="#000000" text-anchor="middle">250</text>
<text x="678.39" y="537" font-size="20.5" font-family="Liberation Serif" font-weight="bold" fill="#000000" stroke="#000000" text-anchor="middle">300</text>
<text x="684.4" y="518.7" font-size="20.3" font-family="Liberation Serif" font-weight="bold" fill="#ff0000" stroke="#ff0000" text-anchor="start">0</text>
<text x="684.4" y="482.73" font-size="20.3" font-family="Liberation Serif" font-weight="bold" fill="#ff0000" stroke="#ff0000" text-anchor="start">20</text>
<text x="684.4" y="446.76" font-size="20.3" font-family="Liberation Serif" font-weight="bold" fill="#ff0000" stroke="#ff0000" text-anchor="start">40</text>
<text x="684.4" y="410.79" font-size="20.3" font-family="Liberation Serif" font-weight="bold" fill="#ff0000" stroke="#ff0000" text-anchor="start">60</text>
<text x="684.4" y="374.82" font-size="20.3" font-family="Liberation Serif" font-weight="bold" fill="#ff0000" stroke="#ff0000" text-anchor="start">80</text>
<text x="684.4" y="338.85" font-size="20.3" font-family="Liberation Serif" font-weight="bold" fill="#ff0000" stroke="#ff0000" text-anchor="start">100</text>
<text x="395" y="571" font-size="20.7" font-family="Liberation Serif" font-weight="bold" fill="#000000" stroke="#000000" text-anchor="middle">Cycle number</text>
<text x="41.5" y="425" font-size="21" font-family="Liberation Serif" font-weight="bold" fill="#000000" stroke="#000000" text-anchor="middle" transform="rotate(-90 41.5 425)">Specific Capacity (mAh/g)</text>
<text x="739" y="421.6" font-size="20.7" font-family="Liberation Serif" font-weight="bold" fill="#ff0000" stroke="#ff0000" text-anchor="middle" transform="rotate(-90 739 421.6)">Coulombic efficiency (%)</text>
<text x="7.3" y="302.4" font-size="24.2" font-family="Liberation Serif" font-weight="bold" fill="#000000" stroke="#000000" text-anchor="start">(c)</text>
<text x="130.0" y="486.2" font-size="15.9" font-family="Liberation Serif" font-weight="bold" fill="#000" stroke="#000">S=1.7mg/cm<tspan x="214.6" font-size="9.5" dy="-9.3">2</tspan><tspan x="226.0" dy="9.3">1C</tspan></text>
<rect x="92.86" y="665.81" width="4.6" height="4.6" fill="#808000"/>
<rect x="96.28" y="669.08" width="4.6" height="4.6" fill="#808000"/>
<rect x="99.71" y="678.39" width="4.6" height="4.6" fill="#808000"/>
<rect x="103.14" y="687.49" width="4.6" height="4.6" fill="#808000"/>
<rect x="106.56" y="685.55" width="4.6" height="4.6" fill="#808000"/>
<rect x="109.99" y="687.59" width="4.6" height="4.6" fill="#808000"/>
<rect x="113.42" y="689.63" width="4.6" height="4.6" fill="#808000"/>
<rect x="116.85" y="691.68" width="4.6" height="4.6" fill="#808000"/>
<rect x="120.28" y="692.7" width="4.6" height="4.6" fill="#808000"/>
<rect x="123.7" y="695.26" width="4.6" height="4.6" fill="#808000"/>
<rect x="127.13" y="716.58" width="4.6" height="4.6" fill="#808000"/>
<rect x="130.56" y="716.91" width="4.6" height="4.6" fill="#808000"/>
<rect x="133.98" y="717.29" width="4.6" height="4.6" fill="#808000"/>
<rect x="137.41" y="717.72" width="4.6" height="4.6" fill="#808000"/>
<rect x="140.84" y="717.37" width="4.6" height="4.6" fill="#808000"/>
<rect x="144.27" y="719.29" width="4.6" height="4.6" fill="#808000"/>
<rect x="147.69" y="721.33" width="4.6" height="4.6" fill="#808000"/>
<rect x="151.12" y="723.58" width="4.6" height="4.6" fill="#808000"/>
<rect x="154.55" y="726.24" width="4.6" height="4.6" fill="#808000"/>
<rect x="157.98" y="725.42" width="4.6" height="4.6" fill="#808000"/>
<rect x="161.4" y="766.94" width="4.6" height="4.6" fill="#808000"/>
<rect x="164.83" y="741.88" width="4.6" height="4.6" fill="#808000"/>
<rect x="168.26" y="730.43" width="4.6" height="4.6" fill="#808000"/>
<rect x="171.69" y="738.72" width="4.6" height="4.6" fill="#808000"/>
<rect x="175.12" y="729.73" width="4.6" height="4.6" fill="#808000"/>
<rect x="178.54" y="730.3" width="4.6" height="4.6" fill="#808000"/>
<rect x="181.97" y="729.9" width="4.6" height="4.6" fill="#808000"/>
<rect x="185.4" y="729.99" width="4.6" height="4.6" fill="#808000"/>
<rect x="188.82" y="729.93" width="4.6" height="4.6" fill="#808000"/>
<rect x="192.25" y="729.84" width="4.6" height="4.6" fill="#808000"/>
<rect x="195.68" y="756.51" width="4.6" height="4.6" fill="#808000"/>
<rect x="199.11" y="748.02" width="4.6" height="4.6" fill="#808000"/>
<rect x="202.53" y="745.87" width="4.6" height="4.6" fill="#808000"/>
<rect x="205.96" y="778.59" width="4.6" height="4.6" fill="#808000"/>
<rect x="209.39" y="744.01" width="4.6" height="4.6" fill="#808000"/>
<rect x="212.82" y="744.21" width="4.6" height="4.6" fill="#808000"/>
<rect x="216.25" y="744.53" width="4.6" height="4.6" fill="#808000"/>
<rect x="219.67" y="744.82" width="4.6" height="4.6" fill="#808000"/>
<rect x="223.1" y="744.85" width="4.6" height="4.6" fill="#808000"/>
<rect x="226.53" y="745.16" width="4.6" height="4.6" fill="#808000"/>
<rect x="229.95" y="745.32" width="4.6" height="4.6" fill="#808000"/>
<rect x="233.38" y="745.3" width="4.6" height="4.6" fill="#808000"/>
<rect x="236.81" y="745.69" width="4.6" height="4.6" fill="#808000"/>
<rect x="240.24" y="746.05" width="4.6" height="4.6" fill="#808000"/>
<rect x="243.67" y="746.08" width="4.6" height="4.6" fill="#808000"/>
<rect x="247.09" y="746.03" width="4.6" height="4.6" fill="#808000"/>
<rect x="250.52" y="745.96" width="4.6" height="4.6" fill="#808000"/>
<rect x="253.95" y="745.93" width="4.6" height="4.6" fill="#808000"/>
<rect x="257.38" y="746.37" width="4.6" height="4.6" fill="#808000"/>
<rect x="260.8" y="746.14" width="4.6" height="4.6" fill="#808000"/>
<rect x="264.23" y="756" width="4.6" height="4.6" fill="#808000"/>
<rect x="267.66" y="756.21" width="4.6" height="4.6" fill="#808000"/>
<rect x="271.08" y="756.32" width="4.6" height="4.6" fill="#808000"/>
<rect x="274.51" y="756.27" width="4.6" height="4.6" fill="#808000"/>
<rect x="277.94" y="756.16" width="4.6" height="4.6" fill="#808000"/>
<rect x="281.37" y="756.45" width="4.6" height="4.6" fill="#808000"/>
<rect x="284.8" y="756.28" width="4.6" height="4.6" fill="#808000"/>
<rect x="288.22" y="756.53" width="4.6" height="4.6" fill="#808000"/>
<rect x="291.65" y="756.76" width="4.6" height="4.6" fill="#808000"/>
<rect x="295.08" y="756.58" width="4.6" height="4.6" fill="#808000"/>
<rect x="298.5" y="776.55" width="4.6" height="4.6" fill="#808000"/>
<rect x="301.93" y="775.53" width="4.6" height="4.6" fill="#808000"/>
<rect x="305.36" y="773.68" width="4.6" height="4.6" fill="#808000"/>
<rect x="308.79" y="773.48" width="4.6" height="4.6" fill="#808000"/>
<rect x="312.21" y="772.46" width="4.6" height="4.6" fill="#808000"/>
<rect x="315.64" y="770.92" width="4.6" height="4.6" fill="#808000"/>
<rect x="319.07" y="768.57" width="4.6" height="4.6" fill="#808000"/>
<rect x="322.5" y="768.16" width="4.6" height="4.6" fill="#808000"/>
<rect x="325.93" y="771.44" width="4.6" height="4.6" fill="#808000"/>
<rect x="329.35" y="773.17" width="4.6" height="4.6" fill="#808000"/>
<rect x="332.78" y="672.25" width="4.6" height="4.6" fill="#808000"/>
<rect x="336.21" y="676.34" width="4.6" height="4.6" fill="#808000"/>
<rect x="339.63" y="677.88" width="4.6" height="4.6" fill="#808000"/>
<rect x="343.06" y="679.41" width="4.6" height="4.6" fill="#808000"/>
<rect x="346.49" y="680.94" width="4.6" height="4.6" fill="#808000"/>
<rect x="349.92" y="682.48" width="4.6" height="4.6" fill="#808000"/>
<rect x="353.35" y="683.5" width="4.6" height="4.6" fill="#808000"/>
<rect x="356.77" y="684.52" width="4.6" height="4.6" fill="#808000"/>
<rect x="360.2" y="685.24" width="4.6" height="4.6" fill="#808000"/>
<rect x="89.88" y="670.86" width="3.7" height="3.7" fill="#fff" stroke="#808000" stroke-width="0.9"/>
<rect x="93.31" y="680.17" width="3.7" height="3.7" fill="#fff" stroke="#808000" stroke-width="0.9"/>
<rect x="96.73" y="686.51" width="3.7" height="3.7" fill="#fff" stroke="#808000" stroke-width="0.9"/>
<rect x="100.16" y="697.55" width="3.7" height="3.7" fill="#fff" stroke="#808000" stroke-width="0.9"/>
<rect x="103.59" y="694.17" width="3.7" height="3.7" fill="#fff" stroke="#808000" stroke-width="0.9"/>
<rect x="107.02" y="696.22" width="3.7" height="3.7" fill="#fff" stroke="#808000" stroke-width="0.9"/>
<rect x="110.44" y="698.26" width="3.7" height="3.7" fill="#fff" stroke="#808000" stroke-width="0.9"/>
<rect x="113.87" y="700.11" width="3.7" height="3.7" fill="#fff" stroke="#808000" stroke-width="0.9"/>
<rect x="117.3" y="700.92" width="3.7" height="3.7" fill="#fff" stroke="#808000" stroke-width="0.9"/>
<rect x="120.73" y="704.2" width="3.7" height="3.7" fill="#fff" stroke="#808000" stroke-width="0.9"/>
<rect x="124.15" y="716.77" width="3.7" height="3.7" fill="#fff" stroke="#808000" stroke-width="0.9"/>
<rect x="127.58" y="721.42" width="3.7" height="3.7" fill="#fff" stroke="#808000" stroke-width="0.9"/>
<rect x="131.01" y="721.93" width="3.7" height="3.7" fill="#fff" stroke="#808000" stroke-width="0.9"/>
<rect x="134.44" y="721.64" width="3.7" height="3.7" fill="#fff" stroke="#808000" stroke-width="0.9"/>
<rect x="137.86" y="721.64" width="3.7" height="3.7" fill="#fff" stroke="#808000" stroke-width="0.9"/>
<rect x="141.29" y="721.27" width="3.7" height="3.7" fill="#fff" stroke="#808000" stroke-width="0.9"/>
<rect x="144.72" y="728.22" width="3.7" height="3.7" fill="#fff" stroke="#808000" stroke-width="0.9"/>
<rect x="148.15" y="730.88" width="3.7" height="3.7" fill="#fff" stroke="#808000" stroke-width="0.9"/>
<rect x="151.57" y="730.47" width="3.7" height="3.7" fill="#fff" stroke="#808000" stroke-width="0.9"/>
<rect x="155" y="730.88" width="3.7" height="3.7" fill="#fff" stroke="#808000" stroke-width="0.9"/>
<rect x="158.43" y="767.39" width="3.7" height="3.7" fill="#fff" stroke="#808000" stroke-width="0.9"/>
<rect x="161.85" y="743.36" width="3.7" height="3.7" fill="#fff" stroke="#808000" stroke-width="0.9"/>
<rect x="165.28" y="733.95" width="3.7" height="3.7" fill="#fff" stroke="#808000" stroke-width="0.9"/>
<rect x="168.71" y="742.33" width="3.7" height="3.7" fill="#fff" stroke="#808000" stroke-width="0.9"/>
<rect x="172.14" y="733.95" width="3.7" height="3.7" fill="#fff" stroke="#808000" stroke-width="0.9"/>
<rect x="175.57" y="731.55" width="3.7" height="3.7" fill="#fff" stroke="#808000" stroke-width="0.9"/>
<rect x="178.99" y="731.96" width="3.7" height="3.7" fill="#fff" stroke="#808000" stroke-width="0.9"/>
<rect x="182.42" y="731.48" width="3.7" height="3.7" fill="#fff" stroke="#808000" stroke-width="0.9"/>
<rect x="185.85" y="731.51" width="3.7" height="3.7" fill="#fff" stroke="#808000" stroke-width="0.9"/>
<rect x="189.28" y="731.9" width="3.7" height="3.7" fill="#fff" stroke="#808000" stroke-width="0.9"/>
<rect x="192.7" y="755.01" width="3.7" height="3.7" fill="#fff" stroke="#808000" stroke-width="0.9"/>
<rect x="196.13" y="756.34" width="3.7" height="3.7" fill="#fff" stroke="#808000" stroke-width="0.9"/>
<rect x="199.56" y="749.08" width="3.7" height="3.7" fill="#fff" stroke="#808000" stroke-width="0.9"/>
<rect x="202.99" y="781.09" width="3.7" height="3.7" fill="#fff" stroke="#808000" stroke-width="0.9"/>
<rect x="206.41" y="746.86" width="3.7" height="3.7" fill="#fff" stroke="#808000" stroke-width="0.9"/>
<rect x="209.84" y="747.35" width="3.7" height="3.7" fill="#fff" stroke="#808000" stroke-width="0.9"/>
<rect x="213.27" y="746.99" width="3.7" height="3.7" fill="#fff" stroke="#808000" stroke-width="0.9"/>
<rect x="216.7" y="747.31" width="3.7" height="3.7" fill="#fff" stroke="#808000" stroke-width="0.9"/>
<rect x="220.12" y="747.33" width="3.7" height="3.7" fill="#fff" stroke="#808000" stroke-width="0.9"/>
<rect x="223.55" y="747.62" width="3.7" height="3.7" fill="#fff" stroke="#808000" stroke-width="0.9"/>
<rect x="226.98" y="757.37" width="3.7" height="3.7" fill="#fff" stroke="#808000" stroke-width="0.9"/>
<rect x="230.41" y="749.25" width="3.7" height="3.7" fill="#fff" stroke="#808000" stroke-width="0.9"/>
<rect x="233.83" y="749.3" width="3.7" height="3.7" fill="#fff" stroke="#808000" stroke-width="0.9"/>
<rect x="237.26" y="749.54" width="3.7" height="3.7" fill="#fff" stroke="#808000" stroke-width="0.9"/>
<rect x="240.69" y="750.02" width="3.7" height="3.7" fill="#fff" stroke="#808000" stroke-width="0.9"/>
<rect x="244.12" y="749.73" width="3.7" height="3.7" fill="#fff" stroke="#808000" stroke-width="0.9"/>
<rect x="247.54" y="750.31" width="3.7" height="3.7" fill="#fff" stroke="#808000" stroke-width="0.9"/>
<rect x="250.97" y="750.3" width="3.7" height="3.7" fill="#fff" stroke="#808000" stroke-width="0.9"/>
<rect x="254.4" y="749.88" width="3.7" height="3.7" fill="#fff" stroke="#808000" stroke-width="0.9"/>
<rect x="257.82" y="750.58" width="3.7" height="3.7" fill="#fff" stroke="#808000" stroke-width="0.9"/>
<rect x="261.25" y="757.57" width="3.7" height="3.7" fill="#fff" stroke="#808000" stroke-width="0.9"/>
<rect x="264.68" y="759.44" width="3.7" height="3.7" fill="#fff" stroke="#808000" stroke-width="0.9"/>
<rect x="268.11" y="759.5" width="3.7" height="3.7" fill="#fff" stroke="#808000" stroke-width="0.9"/>
<rect x="271.53" y="758.92" width="3.7" height="3.7" fill="#fff" stroke="#808000" stroke-width="0.9"/>
<rect x="274.96" y="759.56" width="3.7" height="3.7" fill="#fff" stroke="#808000" stroke-width="0.9"/>
<rect x="278.39" y="759.75" width="3.7" height="3.7" fill="#fff" stroke="#808000" stroke-width="0.9"/>
<rect x="281.82" y="759.14" width="3.7" height="3.7" fill="#fff" stroke="#808000" stroke-width="0.9"/>
<rect x="285.25" y="759.8" width="3.7" height="3.7" fill="#fff" stroke="#808000" stroke-width="0.9"/>
<rect x="288.67" y="759.27" width="3.7" height="3.7" fill="#fff" stroke="#808000" stroke-width="0.9"/>
<rect x="292.1" y="759.47" width="3.7" height="3.7" fill="#fff" stroke="#808000" stroke-width="0.9"/>
<rect x="295.53" y="779.55" width="3.7" height="3.7" fill="#fff" stroke="#808000" stroke-width="0.9"/>
<rect x="298.95" y="777.51" width="3.7" height="3.7" fill="#fff" stroke="#808000" stroke-width="0.9"/>
<rect x="302.38" y="776.49" width="3.7" height="3.7" fill="#fff" stroke="#808000" stroke-width="0.9"/>
<rect x="305.81" y="775.98" width="3.7" height="3.7" fill="#fff" stroke="#808000" stroke-width="0.9"/>
<rect x="309.24" y="774.95" width="3.7" height="3.7" fill="#fff" stroke="#808000" stroke-width="0.9"/>
<rect x="312.66" y="774.13" width="3.7" height="3.7" fill="#fff" stroke="#808000" stroke-width="0.9"/>
<rect x="316.09" y="773.42" width="3.7" height="3.7" fill="#fff" stroke="#808000" stroke-width="0.9"/>
<rect x="319.52" y="772.4" width="3.7" height="3.7" fill="#fff" stroke="#808000" stroke-width="0.9"/>
<rect x="322.95" y="772.91" width="3.7" height="3.7" fill="#fff" stroke="#808000" stroke-width="0.9"/>
<rect x="326.38" y="772.91" width="3.7" height="3.7" fill="#fff" stroke="#808000" stroke-width="0.9"/>
<rect x="329.8" y="716.16" width="3.7" height="3.7" fill="#fff" stroke="#808000" stroke-width="0.9"/>
<rect x="333.23" y="703.82" width="3.7" height="3.7" fill="#fff" stroke="#808000" stroke-width="0.9"/>
<rect x="336.66" y="703.85" width="3.7" height="3.7" fill="#fff" stroke="#808000" stroke-width="0.9"/>
<rect x="340.08" y="704.28" width="3.7" height="3.7" fill="#fff" stroke="#808000" stroke-width="0.9"/>
<rect x="343.51" y="704.23" width="3.7" height="3.7" fill="#fff" stroke="#808000" stroke-width="0.9"/>
<rect x="346.94" y="704.98" width="3.7" height="3.7" fill="#fff" stroke="#808000" stroke-width="0.9"/>
<rect x="350.37" y="704.51" width="3.7" height="3.7" fill="#fff" stroke="#808000" stroke-width="0.9"/>
<rect x="353.8" y="704.85" width="3.7" height="3.7" fill="#fff" stroke="#808000" stroke-width="0.9"/>
<rect x="357.22" y="704.81" width="3.7" height="3.7" fill="#fff" stroke="#808000" stroke-width="0.9"/>
<rect x="360.65" y="705.44" width="3.7" height="3.7" fill="#fff" stroke="#808000" stroke-width="0.9"/>
<polygon points="95.16,650.68 92.25,655.7 98.06,655.7" fill="#0000ff"/>
<polygon points="98.58,664.08 95.68,669.1 101.48,669.1" fill="#0000ff"/>
<polygon points="102.01,674.3 99.11,679.32 104.91,679.32" fill="#0000ff"/>
<polygon points="105.44,678.6 102.54,683.62 108.34,683.62" fill="#0000ff"/>
<polygon points="108.86,682.69 105.96,687.71 111.77,687.71" fill="#0000ff"/>
<polygon points="112.29,686.26 109.39,691.29 115.19,691.29" fill="#0000ff"/>
<polygon points="115.72,689.84 112.82,694.87 118.62,694.87" fill="#0000ff"/>
<polygon points="119.15,692.3 116.25,697.32 122.05,697.32" fill="#0000ff"/>
<polygon points="122.58,692.3 119.67,697.32 125.48,697.32" fill="#0000ff"/>
<polygon points="126,696.39 123.1,701.41 128.9,701.41" fill="#0000ff"/>
<polygon points="129.43,717.69 126.53,722.71 132.33,722.71" fill="#0000ff"/>
<polygon points="132.86,717.41 129.96,722.43 135.76,722.43" fill="#0000ff"/>
<polygon points="136.28,717.46 133.38,722.48 139.19,722.48" fill="#0000ff"/>
<polygon points="139.71,717.26 136.81,722.28 142.61,722.28" fill="#0000ff"/>
<polygon points="143.14,717.13 140.24,722.15 146.04,722.15" fill="#0000ff"/>
<polygon points="146.57,716.91 143.67,721.93 149.47,721.93" fill="#0000ff"/>
<polygon points="150,716.55 147.09,721.58 152.9,721.58" fill="#0000ff"/>
<polygon points="153.42,716.63 150.52,721.65 156.32,721.65" fill="#0000ff"/>
<polygon points="156.85,716.39 153.95,721.42 159.75,721.42" fill="#0000ff"/>
<polygon points="160.28,715.9 157.38,720.92 163.18,720.92" fill="#0000ff"/>
<polygon points="163.7,721.62 160.8,726.64 166.6,726.64" fill="#0000ff"/>
<polygon points="167.13,721.18 164.23,726.2 170.03,726.2" fill="#0000ff"/>
<polygon points="170.56,721.04 167.66,726.06 173.46,726.06" fill="#0000ff"/>
<polygon points="173.99,721.39 171.09,726.41 176.89,726.41" fill="#0000ff"/>
<polygon points="177.42,721.46 174.52,726.48 180.32,726.48" fill="#0000ff"/>
<polygon points="180.84,720.99 177.94,726.01 183.74,726.01" fill="#0000ff"/>
<polygon points="184.27,721.45 181.37,726.47 187.17,726.47" fill="#0000ff"/>
<polygon points="187.7,721.49 184.8,726.51 190.6,726.51" fill="#0000ff"/>
<polygon points="191.12,721.29 188.22,726.31 194.03,726.31" fill="#0000ff"/>
<polygon points="194.55,721.07 191.65,726.09 197.45,726.09" fill="#0000ff"/>
<polygon points="197.98,736.18 195.08,741.2 200.88,741.2" fill="#0000ff"/>
<polygon points="201.41,736.05 198.51,741.07 204.31,741.07" fill="#0000ff"/>
<polygon points="204.84,736.08 201.94,741.11 207.74,741.11" fill="#0000ff"/>
<polygon points="208.26,735.72 205.36,740.74 211.16,740.74" fill="#0000ff"/>
<polygon points="211.69,736.09 208.79,741.11 214.59,741.11" fill="#0000ff"/>
<polygon points="215.12,735.79 212.22,740.82 218.02,740.82" fill="#0000ff"/>
<polygon points="218.55,736.4 215.65,741.42 221.45,741.42" fill="#0000ff"/>
<polygon points="221.97,736.31 219.07,741.33 224.87,741.33" fill="#0000ff"/>
<polygon points="225.4,736.1 222.5,741.12 228.3,741.12" fill="#0000ff"/>
<polygon points="228.83,735.95 225.93,740.97 231.73,740.97" fill="#0000ff"/>
<polygon points="232.25,752.83 229.35,757.85 235.16,757.85" fill="#0000ff"/>
<polygon points="235.68,758.66 232.78,763.68 238.58,763.68" fill="#0000ff"/>
<polygon points="239.11,740.46 236.21,745.48 242.01,745.48" fill="#0000ff"/>
<polygon points="242.54,762.44 239.64,767.46 245.44,767.46" fill="#0000ff"/>
<polygon points="245.97,766.43 243.07,771.45 248.87,771.45" fill="#0000ff"/>
<polygon points="249.39,768.58 246.49,773.6 252.29,773.6" fill="#0000ff"/>
<polygon points="252.82,769.6 249.92,774.62 255.72,774.62" fill="#0000ff"/>
<polygon points="256.25,770.42 253.35,775.44 259.15,775.44" fill="#0000ff"/>
<polygon points="259.68,771.03 256.78,776.05 262.57,776.05" fill="#0000ff"/>
<polygon points="263.1,772.15 260.2,777.18 266,777.18" fill="#0000ff"/>
<polygon points="266.53,793.36 263.63,798.38 269.43,798.38" fill="#0000ff"/>
<polygon points="269.96,793.41 267.06,798.43 272.86,798.43" fill="#0000ff"/>
<polygon points="273.38,793.36 270.49,798.38 276.28,798.38" fill="#0000ff"/>
<polygon points="276.81,792.89 273.91,797.91 279.71,797.91" fill="#0000ff"/>
<polygon points="280.24,793.03 277.34,798.05 283.14,798.05" fill="#0000ff"/>
<polygon points="283.67,792.39 280.77,797.41 286.57,797.41" fill="#0000ff"/>
<polygon points="287.1,792.23 284.2,797.25 290,797.25" fill="#0000ff"/>
<polygon points="290.52,792.62 287.62,797.65 293.42,797.65" fill="#0000ff"/>
<polygon points="293.95,792.41 291.05,797.43 296.85,797.43" fill="#0000ff"/>
<polygon points="297.38,791.84 294.48,796.86 300.28,796.86" fill="#0000ff"/>
<polygon points="300.81,800.36 297.91,805.38 303.7,805.38" fill="#0000ff"/>
<polygon points="304.23,800.2 301.33,805.23 307.13,805.23" fill="#0000ff"/>
<polygon points="307.66,800.56 304.76,805.58 310.56,805.58" fill="#0000ff"/>
<polygon points="311.09,800.71 308.19,805.74 313.99,805.74" fill="#0000ff"/>
<polygon points="314.51,800.56 311.62,805.58 317.41,805.58" fill="#0000ff"/>
<polygon points="317.94,800.12 315.04,805.15 320.84,805.15" fill="#0000ff"/>
<polygon points="321.37,800.53 318.47,805.55 324.27,805.55" fill="#0000ff"/>
<polygon points="324.8,800.44 321.9,805.47 327.7,805.47" fill="#0000ff"/>
<polygon points="328.23,800.36 325.33,805.39 331.12,805.39" fill="#0000ff"/>
<polygon points="331.65,800.34 328.75,805.36 334.55,805.36" fill="#0000ff"/>
<polygon points="335.08,684.5 332.18,689.52 337.98,689.52" fill="#0000ff"/>
<polygon points="338.51,684.39 335.61,689.41 341.41,689.41" fill="#0000ff"/>
<polygon points="341.94,685.32 339.04,690.34 344.83,690.34" fill="#0000ff"/>
<polygon points="345.36,685.75 342.46,690.77 348.26,690.77" fill="#0000ff"/>
<polygon points="348.79,685.29 345.89,690.31 351.69,690.31" fill="#0000ff"/>
<polygon points="352.22,685.65 349.32,690.67 355.12,690.67" fill="#0000ff"/>
<polygon points="355.65,685.87 352.75,690.89 358.55,690.89" fill="#0000ff"/>
<polygon points="359.07,686.63 356.17,691.65 361.97,691.65" fill="#0000ff"/>
<polygon points="362.5,686.51 359.6,691.53 365.4,691.53" fill="#0000ff"/>
<polygon points="91.73,656.06 89.46,659.99 94,659.99" fill="#fff" stroke="#0000ff" stroke-width="0.9"/>
<polygon points="95.16,676.31 92.89,680.24 97.42,680.24" fill="#fff" stroke="#0000ff" stroke-width="0.9"/>
<polygon points="98.58,685.92 96.31,689.85 100.85,689.85" fill="#fff" stroke="#0000ff" stroke-width="0.9"/>
<polygon points="102.01,690.52 99.74,694.45 104.28,694.45" fill="#fff" stroke="#0000ff" stroke-width="0.9"/>
<polygon points="105.44,692.97 103.17,696.91 107.71,696.91" fill="#fff" stroke="#0000ff" stroke-width="0.9"/>
<polygon points="108.86,695.22 106.59,699.16 111.13,699.16" fill="#fff" stroke="#0000ff" stroke-width="0.9"/>
<polygon points="112.29,697.58 110.02,701.51 114.56,701.51" fill="#fff" stroke="#0000ff" stroke-width="0.9"/>
<polygon points="115.72,699.42 113.45,703.35 117.99,703.35" fill="#fff" stroke="#0000ff" stroke-width="0.9"/>
<polygon points="119.15,700.23 116.88,704.17 121.42,704.17" fill="#fff" stroke="#0000ff" stroke-width="0.9"/>
<polygon points="122.58,703.61 120.31,707.54 124.84,707.54" fill="#fff" stroke="#0000ff" stroke-width="0.9"/>
<polygon points="126,720.38 123.73,724.31 128.27,724.31" fill="#fff" stroke="#0000ff" stroke-width="0.9"/>
<polygon points="129.43,721.36 127.16,725.29 131.7,725.29" fill="#fff" stroke="#0000ff" stroke-width="0.9"/>
<polygon points="132.86,721.61 130.59,725.55 135.13,725.55" fill="#fff" stroke="#0000ff" stroke-width="0.9"/>
<polygon points="136.28,720.87 134.01,724.8 138.56,724.8" fill="#fff" stroke="#0000ff" stroke-width="0.9"/>
<polygon points="139.71,720.47 137.44,724.4 141.98,724.4" fill="#fff" stroke="#0000ff" stroke-width="0.9"/>
<polygon points="143.14,720.29 140.87,724.23 145.41,724.23" fill="#fff" stroke="#0000ff" stroke-width="0.9"/>
<polygon points="146.57,720.09 144.3,724.02 148.84,724.02" fill="#fff" stroke="#0000ff" stroke-width="0.9"/>
<polygon points="150,719.96 147.72,723.89 152.27,723.89" fill="#fff" stroke="#0000ff" stroke-width="0.9"/>
<polygon points="153.42,719.6 151.15,723.53 155.69,723.53" fill="#fff" stroke="#0000ff" stroke-width="0.9"/>
<polygon points="156.85,719.37 154.58,723.3 159.12,723.3" fill="#fff" stroke="#0000ff" stroke-width="0.9"/>
<polygon points="160.28,725.28 158.01,729.22 162.55,729.22" fill="#fff" stroke="#0000ff" stroke-width="0.9"/>
<polygon points="163.7,727.99 161.43,731.92 165.97,731.92" fill="#fff" stroke="#0000ff" stroke-width="0.9"/>
<polygon points="167.13,727.53 164.86,731.46 169.4,731.46" fill="#fff" stroke="#0000ff" stroke-width="0.9"/>
<polygon points="170.56,727.73 168.29,731.67 172.83,731.67" fill="#fff" stroke="#0000ff" stroke-width="0.9"/>
<polygon points="173.99,727.27 171.72,731.2 176.26,731.2" fill="#fff" stroke="#0000ff" stroke-width="0.9"/>
<polygon points="177.42,727.86 175.15,731.79 179.69,731.79" fill="#fff" stroke="#0000ff" stroke-width="0.9"/>
<polygon points="180.84,727.11 178.57,731.05 183.11,731.05" fill="#fff" stroke="#0000ff" stroke-width="0.9"/>
<polygon points="184.27,727.25 182,731.18 186.54,731.18" fill="#fff" stroke="#0000ff" stroke-width="0.9"/>
<polygon points="187.7,727.02 185.43,730.95 189.97,730.95" fill="#fff" stroke="#0000ff" stroke-width="0.9"/>
<polygon points="191.12,727.01 188.85,730.94 193.4,730.94" fill="#fff" stroke="#0000ff" stroke-width="0.9"/>
<polygon points="194.55,738.58 192.28,742.51 196.82,742.51" fill="#fff" stroke="#0000ff" stroke-width="0.9"/>
<polygon points="197.98,739.27 195.71,743.2 200.25,743.2" fill="#fff" stroke="#0000ff" stroke-width="0.9"/>
<polygon points="201.41,739.56 199.14,743.49 203.68,743.49" fill="#fff" stroke="#0000ff" stroke-width="0.9"/>
<polygon points="204.84,740.05 202.56,743.98 207.11,743.98" fill="#fff" stroke="#0000ff" stroke-width="0.9"/>
<polygon points="208.26,739.48 205.99,743.41 210.53,743.41" fill="#fff" stroke="#0000ff" stroke-width="0.9"/>
<polygon points="211.69,739.97 209.42,743.9 213.96,743.9" fill="#fff" stroke="#0000ff" stroke-width="0.9"/>
<polygon points="215.12,739.89 212.85,743.82 217.39,743.82" fill="#fff" stroke="#0000ff" stroke-width="0.9"/>
<polygon points="218.55,739.62 216.28,743.55 220.82,743.55" fill="#fff" stroke="#0000ff" stroke-width="0.9"/>
<polygon points="221.97,739.76 219.7,743.69 224.24,743.69" fill="#fff" stroke="#0000ff" stroke-width="0.9"/>
<polygon points="225.4,739.87 223.13,743.81 227.67,743.81" fill="#fff" stroke="#0000ff" stroke-width="0.9"/>
<polygon points="228.83,752.89 226.56,756.82 231.1,756.82" fill="#fff" stroke="#0000ff" stroke-width="0.9"/>
<polygon points="232.25,755.96 229.98,759.89 234.53,759.89" fill="#fff" stroke="#0000ff" stroke-width="0.9"/>
<polygon points="235.68,761.89 233.41,765.82 237.95,765.82" fill="#fff" stroke="#0000ff" stroke-width="0.9"/>
<polygon points="239.11,758.82 236.84,762.75 241.38,762.75" fill="#fff" stroke="#0000ff" stroke-width="0.9"/>
<polygon points="242.54,765.16 240.27,769.09 244.81,769.09" fill="#fff" stroke="#0000ff" stroke-width="0.9"/>
<polygon points="245.97,768.03 243.7,771.96 248.24,771.96" fill="#fff" stroke="#0000ff" stroke-width="0.9"/>
<polygon points="249.39,770.48 247.12,774.41 251.66,774.41" fill="#fff" stroke="#0000ff" stroke-width="0.9"/>
<polygon points="252.82,771.3 250.55,775.23 255.09,775.23" fill="#fff" stroke="#0000ff" stroke-width="0.9"/>
<polygon points="256.25,772.12 253.98,776.05 258.52,776.05" fill="#fff" stroke="#0000ff" stroke-width="0.9"/>
<polygon points="259.68,772.73 257.41,776.66 261.94,776.66" fill="#fff" stroke="#0000ff" stroke-width="0.9"/>
<polygon points="263.1,793.79 260.83,797.72 265.37,797.72" fill="#fff" stroke="#0000ff" stroke-width="0.9"/>
<polygon points="266.53,795.27 264.26,799.21 268.8,799.21" fill="#fff" stroke="#0000ff" stroke-width="0.9"/>
<polygon points="269.96,795.41 267.69,799.34 272.23,799.34" fill="#fff" stroke="#0000ff" stroke-width="0.9"/>
<polygon points="273.38,795.51 271.12,799.44 275.65,799.44" fill="#fff" stroke="#0000ff" stroke-width="0.9"/>
<polygon points="276.81,795.45 274.54,799.38 279.08,799.38" fill="#fff" stroke="#0000ff" stroke-width="0.9"/>
<polygon points="280.24,794.83 277.97,798.76 282.51,798.76" fill="#fff" stroke="#0000ff" stroke-width="0.9"/>
<polygon points="283.67,795.01 281.4,798.94 285.94,798.94" fill="#fff" stroke="#0000ff" stroke-width="0.9"/>
<polygon points="287.1,794.64 284.83,798.57 289.37,798.57" fill="#fff" stroke="#0000ff" stroke-width="0.9"/>
<polygon points="290.52,794.86 288.25,798.79 292.79,798.79" fill="#fff" stroke="#0000ff" stroke-width="0.9"/>
<polygon points="293.95,794.86 291.68,798.79 296.22,798.79" fill="#fff" stroke="#0000ff" stroke-width="0.9"/>
<polygon points="297.38,799.93 295.11,803.86 299.65,803.86" fill="#fff" stroke="#0000ff" stroke-width="0.9"/>
<polygon points="300.81,801.94 298.54,805.88 303.07,805.88" fill="#fff" stroke="#0000ff" stroke-width="0.9"/>
<polygon points="304.23,801.69 301.96,805.62 306.5,805.62" fill="#fff" stroke="#0000ff" stroke-width="0.9"/>
<polygon points="307.66,802.19 305.39,806.12 309.93,806.12" fill="#fff" stroke="#0000ff" stroke-width="0.9"/>
<polygon points="311.09,801.66 308.82,805.59 313.36,805.59" fill="#fff" stroke="#0000ff" stroke-width="0.9"/>
<polygon points="314.51,801.53 312.25,805.46 316.78,805.46" fill="#fff" stroke="#0000ff" stroke-width="0.9"/>
<polygon points="317.94,801.59 315.67,805.53 320.21,805.53" fill="#fff" stroke="#0000ff" stroke-width="0.9"/>
<polygon points="321.37,801.55 319.1,805.49 323.64,805.49" fill="#fff" stroke="#0000ff" stroke-width="0.9"/>
<polygon points="324.8,802.2 322.53,806.13 327.07,806.13" fill="#fff" stroke="#0000ff" stroke-width="0.9"/>
<polygon points="328.23,801.66 325.96,805.59 330.5,805.59" fill="#fff" stroke="#0000ff" stroke-width="0.9"/>
<polygon points="331.65,728.45 329.38,732.39 333.92,732.39" fill="#fff" stroke="#0000ff" stroke-width="0.9"/>
<polygon points="335.08,703.52 332.81,707.45 337.35,707.45" fill="#fff" stroke="#0000ff" stroke-width="0.9"/>
<polygon points="338.51,704.27 336.24,708.2 340.78,708.2" fill="#fff" stroke="#0000ff" stroke-width="0.9"/>
<polygon points="341.94,704.18 339.67,708.11 344.2,708.11" fill="#fff" stroke="#0000ff" stroke-width="0.9"/>
<polygon points="345.36,704.27 343.09,708.2 347.63,708.2" fill="#fff" stroke="#0000ff" stroke-width="0.9"/>
<polygon points="348.79,704.15 346.52,708.08 351.06,708.08" fill="#fff" stroke="#0000ff" stroke-width="0.9"/>
<polygon points="352.22,704.32 349.95,708.25 354.49,708.25" fill="#fff" stroke="#0000ff" stroke-width="0.9"/>
<polygon points="355.65,704.37 353.38,708.3 357.92,708.3" fill="#fff" stroke="#0000ff" stroke-width="0.9"/>
<polygon points="359.07,704.21 356.8,708.14 361.34,708.14" fill="#fff" stroke="#0000ff" stroke-width="0.9"/>
<polygon points="362.5,704.94 360.23,708.87 364.77,708.87" fill="#fff" stroke="#0000ff" stroke-width="0.9"/>
<circle cx="95.16" cy="664.23" r="2.5" fill="#ff0000"/>
<circle cx="98.58" cy="675.98" r="2.5" fill="#ff0000"/>
<circle cx="102.01" cy="680.59" r="2.5" fill="#ff0000"/>
<circle cx="105.44" cy="682.43" r="2.5" fill="#ff0000"/>
<circle cx="108.86" cy="684.27" r="2.5" fill="#ff0000"/>
<circle cx="112.29" cy="686.11" r="2.5" fill="#ff0000"/>
<circle cx="115.72" cy="686.62" r="2.5" fill="#ff0000"/>
<circle cx="119.15" cy="686.82" r="2.5" fill="#ff0000"/>
<circle cx="122.58" cy="687.03" r="2.5" fill="#ff0000"/>
<circle cx="126" cy="688.36" r="2.5" fill="#ff0000"/>
<circle cx="129.43" cy="711.07" r="2.5" fill="#ff0000"/>
<circle cx="132.86" cy="711.22" r="2.5" fill="#ff0000"/>
<circle cx="136.28" cy="711.78" r="2.5" fill="#ff0000"/>
<circle cx="139.71" cy="711.99" r="2.5" fill="#ff0000"/>
<circle cx="143.14" cy="712.38" r="2.5" fill="#ff0000"/>
<circle cx="146.57" cy="713.25" r="2.5" fill="#ff0000"/>
<circle cx="150" cy="713.7" r="2.5" fill="#ff0000"/>
<circle cx="153.42" cy="713.44" r="2.5" fill="#ff0000"/>
<circle cx="156.85" cy="714.32" r="2.5" fill="#ff0000"/>
<circle cx="160.28" cy="714.75" r="2.5" fill="#ff0000"/>
<circle cx="163.7" cy="725.27" r="2.5" fill="#ff0000"/>
<circle cx="167.13" cy="725.82" r="2.5" fill="#ff0000"/>
<circle cx="170.56" cy="725.63" r="2.5" fill="#ff0000"/>
<circle cx="173.99" cy="726.04" r="2.5" fill="#ff0000"/>
<circle cx="177.42" cy="726.02" r="2.5" fill="#ff0000"/>
<circle cx="180.84" cy="726.53" r="2.5" fill="#ff0000"/>
<circle cx="184.27" cy="726.25" r="2.5" fill="#ff0000"/>
<circle cx="187.7" cy="726.17" r="2.5" fill="#ff0000"/>
<circle cx="191.12" cy="726.57" r="2.5" fill="#ff0000"/>
<circle cx="194.55" cy="726.5" r="2.5" fill="#ff0000"/>
<circle cx="197.98" cy="742.1" r="2.5" fill="#ff0000"/>
<circle cx="201.41" cy="742.69" r="2.5" fill="#ff0000"/>
<circle cx="204.84" cy="742.21" r="2.5" fill="#ff0000"/>
<circle cx="208.26" cy="742.44" r="2.5" fill="#ff0000"/>
<circle cx="211.69" cy="742.77" r="2.5" fill="#ff0000"/>
<circle cx="215.12" cy="743.08" r="2.5" fill="#ff0000"/>
<circle cx="218.55" cy="742.49" r="2.5" fill="#ff0000"/>
<circle cx="221.97" cy="742.9" r="2.5" fill="#ff0000"/>
<circle cx="225.4" cy="742.79" r="2.5" fill="#ff0000"/>
<circle cx="228.83" cy="742.75" r="2.5" fill="#ff0000"/>
<circle cx="232.25" cy="749.22" r="2.5" fill="#ff0000"/>
<circle cx="235.68" cy="749.15" r="2.5" fill="#ff0000"/>
<circle cx="239.11" cy="749.67" r="2.5" fill="#ff0000"/>
<circle cx="242.54" cy="749.43" r="2.5" fill="#ff0000"/>
<circle cx="245.97" cy="749.81" r="2.5" fill="#ff0000"/>
<circle cx="249.39" cy="749.5" r="2.5" fill="#ff0000"/>
<circle cx="252.82" cy="749.63" r="2.5" fill="#ff0000"/>
<circle cx="256.25" cy="750.37" r="2.5" fill="#ff0000"/>
<circle cx="259.68" cy="750.42" r="2.5" fill="#ff0000"/>
<circle cx="263.1" cy="750.45" r="2.5" fill="#ff0000"/>
<circle cx="266.53" cy="751.57" r="2.5" fill="#ff0000"/>
<circle cx="269.96" cy="752.1" r="2.5" fill="#ff0000"/>
<circle cx="273.38" cy="752.03" r="2.5" fill="#ff0000"/>
<circle cx="276.81" cy="752.39" r="2.5" fill="#ff0000"/>
<circle cx="280.24" cy="752.31" r="2.5" fill="#ff0000"/>
<circle cx="283.67" cy="752.5" r="2.5" fill="#ff0000"/>
<circle cx="287.1" cy="752.62" r="2.5" fill="#ff0000"/>
<circle cx="290.52" cy="752.52" r="2.5" fill="#ff0000"/>
<circle cx="293.95" cy="752.61" r="2.5" fill="#ff0000"/>
<circle cx="297.38" cy="752.44" r="2.5" fill="#ff0000"/>
<circle cx="300.81" cy="755.79" r="2.5" fill="#ff0000"/>
<circle cx="304.23" cy="755.75" r="2.5" fill="#ff0000"/>
<circle cx="307.66" cy="755.97" r="2.5" fill="#ff0000"/>
<circle cx="311.09" cy="756.02" r="2.5" fill="#ff0000"/>
<circle cx="314.51" cy="756.44" r="2.5" fill="#ff0000"/>
<circle cx="317.94" cy="757.01" r="2.5" fill="#ff0000"/>
<circle cx="321.37" cy="756.6" r="2.5" fill="#ff0000"/>
<circle cx="324.8" cy="756.68" r="2.5" fill="#ff0000"/>
<circle cx="328.23" cy="756.88" r="2.5" fill="#ff0000"/>
<circle cx="331.65" cy="757.32" r="2.5" fill="#ff0000"/>
<circle cx="335.08" cy="692.07" r="2.5" fill="#ff0000"/>
<circle cx="338.51" cy="693.07" r="2.5" fill="#ff0000"/>
<circle cx="341.94" cy="693.15" r="2.5" fill="#ff0000"/>
<circle cx="345.36" cy="693.95" r="2.5" fill="#ff0000"/>
<circle cx="348.79" cy="694.77" r="2.5" fill="#ff0000"/>
<circle cx="352.22" cy="695.54" r="2.5" fill="#ff0000"/>
<circle cx="355.65" cy="695.48" r="2.5" fill="#ff0000"/>
<circle cx="359.07" cy="695.96" r="2.5" fill="#ff0000"/>
<circle cx="362.5" cy="697.28" r="2.5" fill="#ff0000"/>
<circle cx="91.73" cy="641.53" r="2.05" fill="#fff" stroke="#ff0000" stroke-width="0.9"/>
<circle cx="95.16" cy="672.71" r="2.05" fill="#fff" stroke="#ff0000" stroke-width="0.9"/>
<circle cx="98.58" cy="679.66" r="2.05" fill="#fff" stroke="#ff0000" stroke-width="0.9"/>
<circle cx="102.01" cy="683.35" r="2.05" fill="#fff" stroke="#ff0000" stroke-width="0.9"/>
<circle cx="105.44" cy="685.7" r="2.05" fill="#fff" stroke="#ff0000" stroke-width="0.9"/>
<circle cx="108.86" cy="687.54" r="2.05" fill="#fff" stroke="#ff0000" stroke-width="0.9"/>
<circle cx="112.29" cy="688.05" r="2.05" fill="#fff" stroke="#ff0000" stroke-width="0.9"/>
<circle cx="115.72" cy="689.79" r="2.05" fill="#fff" stroke="#ff0000" stroke-width="0.9"/>
<circle cx="119.15" cy="689.89" r="2.05" fill="#fff" stroke="#ff0000" stroke-width="0.9"/>
<circle cx="122.58" cy="690.71" r="2.05" fill="#fff" stroke="#ff0000" stroke-width="0.9"/>
<circle cx="126" cy="709.62" r="2.05" fill="#fff" stroke="#ff0000" stroke-width="0.9"/>
<circle cx="129.43" cy="712.59" r="2.05" fill="#fff" stroke="#ff0000" stroke-width="0.9"/>
<circle cx="132.86" cy="713.37" r="2.05" fill="#fff" stroke="#ff0000" stroke-width="0.9"/>
<circle cx="136.28" cy="713.89" r="2.05" fill="#fff" stroke="#ff0000" stroke-width="0.9"/>
<circle cx="139.71" cy="714.31" r="2.05" fill="#fff" stroke="#ff0000" stroke-width="0.9"/>
<circle cx="143.14" cy="714.39" r="2.05" fill="#fff" stroke="#ff0000" stroke-width="0.9"/>
<circle cx="146.57" cy="714.21" r="2.05" fill="#fff" stroke="#ff0000" stroke-width="0.9"/>
<circle cx="150" cy="714.33" r="2.05" fill="#fff" stroke="#ff0000" stroke-width="0.9"/>
<circle cx="153.42" cy="715.21" r="2.05" fill="#fff" stroke="#ff0000" stroke-width="0.9"/>
<circle cx="156.85" cy="714.95" r="2.05" fill="#fff" stroke="#ff0000" stroke-width="0.9"/>
<circle cx="160.28" cy="723.94" r="2.05" fill="#fff" stroke="#ff0000" stroke-width="0.9"/>
<circle cx="163.7" cy="727.58" r="2.05" fill="#fff" stroke="#ff0000" stroke-width="0.9"/>
<circle cx="167.13" cy="727.1" r="2.05" fill="#fff" stroke="#ff0000" stroke-width="0.9"/>
<circle cx="170.56" cy="727.48" r="2.05" fill="#fff" stroke="#ff0000" stroke-width="0.9"/>
<circle cx="173.99" cy="727.09" r="2.05" fill="#fff" stroke="#ff0000" stroke-width="0.9"/>
<circle cx="177.42" cy="727.07" r="2.05" fill="#fff" stroke="#ff0000" stroke-width="0.9"/>
<circle cx="180.84" cy="727.53" r="2.05" fill="#fff" stroke="#ff0000" stroke-width="0.9"/>
<circle cx="184.27" cy="727.19" r="2.05" fill="#fff" stroke="#ff0000" stroke-width="0.9"/>
<circle cx="187.7" cy="727.81" r="2.05" fill="#fff" stroke="#ff0000" stroke-width="0.9"/>
<circle cx="191.12" cy="728.07" r="2.05" fill="#fff" stroke="#ff0000" stroke-width="0.9"/>
<circle cx="194.55" cy="737.44" r="2.05" fill="#fff" stroke="#ff0000" stroke-width="0.9"/>
<circle cx="197.98" cy="742.77" r="2.05" fill="#fff" stroke="#ff0000" stroke-width="0.9"/>
<circle cx="201.41" cy="743.32" r="2.05" fill="#fff" stroke="#ff0000" stroke-width="0.9"/>
<circle cx="204.84" cy="743.26" r="2.05" fill="#fff" stroke="#ff0000" stroke-width="0.9"/>
<circle cx="208.26" cy="743.16" r="2.05" fill="#fff" stroke="#ff0000" stroke-width="0.9"/>
<circle cx="211.69" cy="743.07" r="2.05" fill="#fff" stroke="#ff0000" stroke-width="0.9"/>
<circle cx="215.12" cy="743.52" r="2.05" fill="#fff" stroke="#ff0000" stroke-width="0.9"/>
<circle cx="218.55" cy="743.69" r="2.05" fill="#fff" stroke="#ff0000" stroke-width="0.9"/>
<circle cx="221.97" cy="743.09" r="2.05" fill="#fff" stroke="#ff0000" stroke-width="0.9"/>
<circle cx="225.4" cy="743.62" r="2.05" fill="#fff" stroke="#ff0000" stroke-width="0.9"/>
<circle cx="228.83" cy="749.71" r="2.05" fill="#fff" stroke="#ff0000" stroke-width="0.9"/>
<circle cx="232.25" cy="750.86" r="2.05" fill="#fff" stroke="#ff0000" stroke-width="0.9"/>
<circle cx="235.68" cy="750.98" r="2.05" fill="#fff" stroke="#ff0000" stroke-width="0.9"/>
<circle cx="239.11" cy="751.47" r="2.05" fill="#fff" stroke="#ff0000" stroke-width="0.9"/>
<circle cx="242.54" cy="751.46" r="2.05" fill="#fff" stroke="#ff0000" stroke-width="0.9"/>
<circle cx="245.97" cy="751.48" r="2.05" fill="#fff" stroke="#ff0000" stroke-width="0.9"/>
<circle cx="249.39" cy="751.44" r="2.05" fill="#fff" stroke="#ff0000" stroke-width="0.9"/>
<circle cx="252.82" cy="751.55" r="2.05" fill="#fff" stroke="#ff0000" stroke-width="0.9"/>
<circle cx="256.25" cy="751.64" r="2.05" fill="#fff" stroke="#ff0000" stroke-width="0.9"/>
<circle cx="259.68" cy="751.65" r="2.05" fill="#fff" stroke="#ff0000" stroke-width="0.9"/>
<circle cx="263.1" cy="752.77" r="2.05" fill="#fff" stroke="#ff0000" stroke-width="0.9"/>
<circle cx="266.53" cy="754.25" r="2.05" fill="#fff" stroke="#ff0000" stroke-width="0.9"/>
<circle cx="269.96" cy="754.67" r="2.05" fill="#fff" stroke="#ff0000" stroke-width="0.9"/>
<circle cx="273.38" cy="754.8" r="2.05" fill="#fff" stroke="#ff0000" stroke-width="0.9"/>
<circle cx="276.81" cy="754.63" r="2.05" fill="#fff" stroke="#ff0000" stroke-width="0.9"/>
<circle cx="280.24" cy="755.08" r="2.05" fill="#fff" stroke="#ff0000" stroke-width="0.9"/>
<circle cx="283.67" cy="755.1" r="2.05" fill="#fff" stroke="#ff0000" stroke-width="0.9"/>
<circle cx="287.1" cy="754.61" r="2.05" fill="#fff" stroke="#ff0000" stroke-width="0.9"/>
<circle cx="290.52" cy="755.04" r="2.05" fill="#fff" stroke="#ff0000" stroke-width="0.9"/>
<circle cx="293.95" cy="755.09" r="2.05" fill="#fff" stroke="#ff0000" stroke-width="0.9"/>
<circle cx="297.38" cy="756.86" r="2.05" fill="#fff" stroke="#ff0000" stroke-width="0.9"/>
<circle cx="300.81" cy="757.77" r="2.05" fill="#fff" stroke="#ff0000" stroke-width="0.9"/>
<circle cx="304.23" cy="757.57" r="2.05" fill="#fff" stroke="#ff0000" stroke-width="0.9"/>
<circle cx="307.66" cy="757.57" r="2.05" fill="#fff" stroke="#ff0000" stroke-width="0.9"/>
<circle cx="311.09" cy="758.15" r="2.05" fill="#fff" stroke="#ff0000" stroke-width="0.9"/>
<circle cx="314.51" cy="757.79" r="2.05" fill="#fff" stroke="#ff0000" stroke-width="0.9"/>
<circle cx="317.94" cy="757.91" r="2.05" fill="#fff" stroke="#ff0000" stroke-width="0.9"/>
<circle cx="321.37" cy="758.5" r="2.05" fill="#fff" stroke="#ff0000" stroke-width="0.9"/>
<circle cx="324.8" cy="758.17" r="2.05" fill="#fff" stroke="#ff0000" stroke-width="0.9"/>
<circle cx="328.23" cy="758.43" r="2.05" fill="#fff" stroke="#ff0000" stroke-width="0.9"/>
<circle cx="331.65" cy="717.4" r="2.05" fill="#fff" stroke="#ff0000" stroke-width="0.9"/>
<circle cx="335.08" cy="703.14" r="2.05" fill="#fff" stroke="#ff0000" stroke-width="0.9"/>
<circle cx="338.51" cy="703.62" r="2.05" fill="#fff" stroke="#ff0000" stroke-width="0.9"/>
<circle cx="341.94" cy="703.55" r="2.05" fill="#fff" stroke="#ff0000" stroke-width="0.9"/>
<circle cx="345.36" cy="703.74" r="2.05" fill="#fff" stroke="#ff0000" stroke-width="0.9"/>
<circle cx="348.79" cy="704.54" r="2.05" fill="#fff" stroke="#ff0000" stroke-width="0.9"/>
<circle cx="352.22" cy="704.73" r="2.05" fill="#fff" stroke="#ff0000" stroke-width="0.9"/>
<circle cx="355.65" cy="704.44" r="2.05" fill="#fff" stroke="#ff0000" stroke-width="0.9"/>
<circle cx="359.07" cy="704.43" r="2.05" fill="#fff" stroke="#ff0000" stroke-width="0.9"/>
<circle cx="362.5" cy="705.23" r="2.05" fill="#fff" stroke="#ff0000" stroke-width="0.9"/>
<rect x="111.9" y="618.4" width="4.8" height="4.8" fill="#808000"/>
<rect x="236.08" y="618.47" width="4.65" height="4.65" fill="#fff" stroke="#808000" stroke-width="0.75"/>
<text x="127.3" y="624.2" font-size="9.55" font-family="Liberation Serif" font-weight="bold" fill="#808000" stroke="#808000" text-anchor="start">NiS/NCF (charge)</text>
<text x="250.8" y="624.2" font-size="9.55" font-family="Liberation Serif" font-weight="bold" fill="#808000" stroke="#808000" text-anchor="start">NiS/NCF (discharge)</text>
<polygon points="114.3,635.28 111.3,640.47 117.3,640.47" fill="#0000ff"/>
<polygon points="238,635.68 235.38,640.23 240.62,640.23" fill="#fff" stroke="#0000ff" stroke-width="0.75"/>
<text x="127.3" y="641.9" font-size="9.55" font-family="Liberation Serif" font-weight="bold" fill="#0000ff" stroke="#0000ff" text-anchor="start">Ni/NCF&#160;&#160;(charge)</text>
<text x="250.6" y="641.9" font-size="9.55" font-family="Liberation Serif" font-weight="bold" fill="#0000ff" stroke="#0000ff" text-anchor="start">Ni/NCF (discharge)</text>
<circle cx="114.3" cy="656.2" r="2.55" fill="#ff0000"/>
<circle cx="236.7" cy="656.2" r="2.42" fill="#fff" stroke="#ff0000" stroke-width="0.75"/>
<text x="127.3" y="659.6" font-size="9.55" font-family="Liberation Serif" font-weight="bold" fill="#ff0000" stroke="#ff0000" text-anchor="start">Ni-NiS/NCF (charge)</text>
<text x="249.6" y="659.6" font-size="9.55" font-family="Liberation Serif" font-weight="bold" fill="#ff0000" stroke="#ff0000" text-anchor="start">Ni-NiS/NCF (discharge)</text>
<line x1="88.3" y1="604" x2="362.5" y2="604" stroke="#000000" stroke-width="1.5"/>
<line x1="88.3" y1="603.25" x2="88.3" y2="809.25" stroke="#000000" stroke-width="1.5"/>
<line x1="88.3" y1="808.5" x2="362.5" y2="808.5" stroke="#000000" stroke-width="1.5"/>
<line x1="362.5" y1="603.25" x2="362.5" y2="809.25" stroke="#000000" stroke-width="1.5"/>
<line x1="83.8" y1="808.5" x2="88.3" y2="808.5" stroke="#000000" stroke-width="1.4"/>
<line x1="83.8" y1="767.6" x2="88.3" y2="767.6" stroke="#000000" stroke-width="1.4"/>
<line x1="83.8" y1="726.7" x2="88.3" y2="726.7" stroke="#000000" stroke-width="1.4"/>
<line x1="83.8" y1="685.8" x2="88.3" y2="685.8" stroke="#000000" stroke-width="1.4"/>
<line x1="83.8" y1="644.9" x2="88.3" y2="644.9" stroke="#000000" stroke-width="1.4"/>
<line x1="83.8" y1="604" x2="88.3" y2="604" stroke="#000000" stroke-width="1.4"/>
<line x1="85.8" y1="788.05" x2="88.3" y2="788.05" stroke="#000000" stroke-width="1.4"/>
<line x1="85.8" y1="747.15" x2="88.3" y2="747.15" stroke="#000000" stroke-width="1.4"/>
<line x1="85.8" y1="706.25" x2="88.3" y2="706.25" stroke="#000000" stroke-width="1.4"/>
<line x1="85.8" y1="665.35" x2="88.3" y2="665.35" stroke="#000000" stroke-width="1.4"/>
<line x1="85.8" y1="624.45" x2="88.3" y2="624.45" stroke="#000000" stroke-width="1.4"/>
<line x1="88.3" y1="808.5" x2="88.3" y2="813" stroke="#000000" stroke-width="1.4"/>
<line x1="156.85" y1="808.5" x2="156.85" y2="813" stroke="#000000" stroke-width="1.4"/>
<line x1="225.4" y1="808.5" x2="225.4" y2="813" stroke="#000000" stroke-width="1.4"/>
<line x1="293.95" y1="808.5" x2="293.95" y2="813" stroke="#000000" stroke-width="1.4"/>
<line x1="362.5" y1="808.5" x2="362.5" y2="813" stroke="#000000" stroke-width="1.4"/>
<line x1="122.58" y1="808.5" x2="122.58" y2="811" stroke="#000000" stroke-width="1.4"/>
<line x1="191.12" y1="808.5" x2="191.12" y2="811" stroke="#000000" stroke-width="1.4"/>
<line x1="259.68" y1="808.5" x2="259.68" y2="811" stroke="#000000" stroke-width="1.4"/>
<line x1="328.23" y1="808.5" x2="328.23" y2="811" stroke="#000000" stroke-width="1.4"/>
<text x="80.3" y="813.7" font-size="16.0" font-family="Liberation Serif" font-weight="bold" fill="#000000" stroke="#000000" text-anchor="end">0</text>
<text x="80.3" y="772.8" font-size="16.0" font-family="Liberation Serif" font-weight="bold" fill="#000000" stroke="#000000" text-anchor="end">400</text>
<text x="80.3" y="731.9" font-size="16.0" font-family="Liberation Serif" font-weight="bold" fill="#000000" stroke="#000000" text-anchor="end">800</text>
<text x="80.3" y="691" font-size="16.0" font-family="Liberation Serif" font-weight="bold" fill="#000000" stroke="#000000" text-anchor="end">1200</text>
<text x="80.3" y="650.1" font-size="16.0" font-family="Liberation Serif" font-weight="bold" fill="#000000" stroke="#000000" text-anchor="end">1600</text>
<text x="80.3" y="609.2" font-size="16.0" font-family="Liberation Serif" font-weight="bold" fill="#000000" stroke="#000000" text-anchor="end">2000</text>
<text x="88.3" y="828" font-size="16.0" font-family="Liberation Serif" font-weight="bold" fill="#000000" stroke="#000000" text-anchor="middle">0</text>
<text x="156.85" y="828" font-size="16.0" font-family="Liberation Serif" font-weight="bold" fill="#000000" stroke="#000000" text-anchor="middle">20</text>
<text x="225.4" y="828" font-size="16.0" font-family="Liberation Serif" font-weight="bold" fill="#000000" stroke="#000000" text-anchor="middle">40</text>
<text x="293.95" y="828" font-size="16.0" font-family="Liberation Serif" font-weight="bold" fill="#000000" stroke="#000000" text-anchor="middle">60</text>
<text x="362.5" y="828" font-size="16.0" font-family="Liberation Serif" font-weight="bold" fill="#000000" stroke="#000000" text-anchor="middle">80</text>
<text x="225" y="854" font-size="16.0" font-family="Liberation Serif" font-weight="bold" fill="#000000" stroke="#000000" text-anchor="middle">Cycle number</text>
<text x="31.6" y="724.7" font-size="16.0" font-family="Liberation Serif" font-weight="bold" fill="#000000" stroke="#000000" text-anchor="middle" transform="rotate(-90 31.6 724.7)">Specific Capacity (mAh/g)</text>
<text x="7.3" y="616" font-size="24.2" font-family="Liberation Serif" font-weight="bold" fill="#000000" stroke="#000000" text-anchor="start">(d)</text>
<rect x="474.34" y="717.7" width="4.5" height="4.5" fill="#000000"/>
<rect x="480.14" y="728.36" width="4.5" height="4.5" fill="#000000"/>
<rect x="485.93" y="735.88" width="4.5" height="4.5" fill="#000000"/>
<rect x="491.73" y="738.2" width="4.5" height="4.5" fill="#000000"/>
<rect x="497.52" y="738.46" width="4.5" height="4.5" fill="#000000"/>
<rect x="503.31" y="738.27" width="4.5" height="4.5" fill="#000000"/>
<rect x="509.11" y="737.01" width="4.5" height="4.5" fill="#000000"/>
<rect x="514.9" y="737.3" width="4.5" height="4.5" fill="#000000"/>
<rect x="520.7" y="738.06" width="4.5" height="4.5" fill="#000000"/>
<rect x="526.49" y="737.74" width="4.5" height="4.5" fill="#000000"/>
<rect x="532.28" y="737.93" width="4.5" height="4.5" fill="#000000"/>
<rect x="538.08" y="738.35" width="4.5" height="4.5" fill="#000000"/>
<rect x="543.87" y="737.74" width="4.5" height="4.5" fill="#000000"/>
<rect x="549.67" y="737.33" width="4.5" height="4.5" fill="#000000"/>
<rect x="555.46" y="737.48" width="4.5" height="4.5" fill="#000000"/>
<rect x="561.25" y="738.01" width="4.5" height="4.5" fill="#000000"/>
<rect x="567.05" y="737.77" width="4.5" height="4.5" fill="#000000"/>
<rect x="572.84" y="738.25" width="4.5" height="4.5" fill="#000000"/>
<rect x="578.64" y="738.31" width="4.5" height="4.5" fill="#000000"/>
<rect x="584.43" y="737.96" width="4.5" height="4.5" fill="#000000"/>
<rect x="590.22" y="737.73" width="4.5" height="4.5" fill="#000000"/>
<rect x="596.02" y="737.08" width="4.5" height="4.5" fill="#000000"/>
<rect x="601.81" y="737.97" width="4.5" height="4.5" fill="#000000"/>
<rect x="607.61" y="738.82" width="4.5" height="4.5" fill="#000000"/>
<rect x="613.4" y="738.23" width="4.5" height="4.5" fill="#000000"/>
<rect x="619.19" y="738.57" width="4.5" height="4.5" fill="#000000"/>
<rect x="624.99" y="738.37" width="4.5" height="4.5" fill="#000000"/>
<rect x="630.78" y="738.57" width="4.5" height="4.5" fill="#000000"/>
<rect x="636.58" y="738.76" width="4.5" height="4.5" fill="#000000"/>
<rect x="642.37" y="739.2" width="4.5" height="4.5" fill="#000000"/>
<rect x="648.16" y="739.18" width="4.5" height="4.5" fill="#000000"/>
<rect x="653.96" y="739.59" width="4.5" height="4.5" fill="#000000"/>
<rect x="659.75" y="739.37" width="4.5" height="4.5" fill="#000000"/>
<rect x="665.55" y="739.21" width="4.5" height="4.5" fill="#000000"/>
<rect x="671.34" y="738.99" width="4.5" height="4.5" fill="#000000"/>
<rect x="677.13" y="739.64" width="4.5" height="4.5" fill="#000000"/>
<rect x="682.93" y="739.44" width="4.5" height="4.5" fill="#000000"/>
<rect x="688.72" y="740.27" width="4.5" height="4.5" fill="#000000"/>
<rect x="694.52" y="739.83" width="4.5" height="4.5" fill="#000000"/>
<rect x="700.31" y="740.14" width="4.5" height="4.5" fill="#000000"/>
<rect x="706.1" y="740.41" width="4.5" height="4.5" fill="#000000"/>
<rect x="711.9" y="740.43" width="4.5" height="4.5" fill="#000000"/>
<rect x="717.69" y="739.85" width="4.5" height="4.5" fill="#000000"/>
<rect x="723.49" y="740.12" width="4.5" height="4.5" fill="#000000"/>
<rect x="729.28" y="741.05" width="4.5" height="4.5" fill="#000000"/>
<rect x="735.07" y="741.11" width="4.5" height="4.5" fill="#000000"/>
<rect x="740.87" y="741.3" width="4.5" height="4.5" fill="#000000"/>
<rect x="746.66" y="740.9" width="4.5" height="4.5" fill="#000000"/>
<rect x="752.46" y="740.48" width="4.5" height="4.5" fill="#000000"/>
<rect x="468.93" y="721.42" width="3.75" height="3.75" fill="#fff" stroke="#555555" stroke-width="0.85"/>
<rect x="474.72" y="730.82" width="3.75" height="3.75" fill="#fff" stroke="#555555" stroke-width="0.85"/>
<rect x="480.51" y="737.3" width="3.75" height="3.75" fill="#fff" stroke="#555555" stroke-width="0.85"/>
<rect x="486.31" y="741.68" width="3.75" height="3.75" fill="#fff" stroke="#555555" stroke-width="0.85"/>
<rect x="492.1" y="742.35" width="3.75" height="3.75" fill="#fff" stroke="#555555" stroke-width="0.85"/>
<rect x="497.89" y="741.69" width="3.75" height="3.75" fill="#fff" stroke="#555555" stroke-width="0.85"/>
<rect x="503.69" y="742.21" width="3.75" height="3.75" fill="#fff" stroke="#555555" stroke-width="0.85"/>
<rect x="509.48" y="742.92" width="3.75" height="3.75" fill="#fff" stroke="#555555" stroke-width="0.85"/>
<rect x="515.28" y="742.45" width="3.75" height="3.75" fill="#fff" stroke="#555555" stroke-width="0.85"/>
<rect x="521.07" y="742.28" width="3.75" height="3.75" fill="#fff" stroke="#555555" stroke-width="0.85"/>
<rect x="526.87" y="742.04" width="3.75" height="3.75" fill="#fff" stroke="#555555" stroke-width="0.85"/>
<rect x="532.66" y="742.56" width="3.75" height="3.75" fill="#fff" stroke="#555555" stroke-width="0.85"/>
<rect x="538.45" y="742.93" width="3.75" height="3.75" fill="#fff" stroke="#555555" stroke-width="0.85"/>
<rect x="544.25" y="742.15" width="3.75" height="3.75" fill="#fff" stroke="#555555" stroke-width="0.85"/>
<rect x="550.04" y="741.89" width="3.75" height="3.75" fill="#fff" stroke="#555555" stroke-width="0.85"/>
<rect x="555.84" y="741.81" width="3.75" height="3.75" fill="#fff" stroke="#555555" stroke-width="0.85"/>
<rect x="561.63" y="742.52" width="3.75" height="3.75" fill="#fff" stroke="#555555" stroke-width="0.85"/>
<rect x="567.42" y="742.43" width="3.75" height="3.75" fill="#fff" stroke="#555555" stroke-width="0.85"/>
<rect x="573.22" y="742.79" width="3.75" height="3.75" fill="#fff" stroke="#555555" stroke-width="0.85"/>
<rect x="579.01" y="742.31" width="3.75" height="3.75" fill="#fff" stroke="#555555" stroke-width="0.85"/>
<rect x="584.81" y="741.79" width="3.75" height="3.75" fill="#fff" stroke="#555555" stroke-width="0.85"/>
<rect x="590.6" y="742.09" width="3.75" height="3.75" fill="#fff" stroke="#555555" stroke-width="0.85"/>
<rect x="596.39" y="743.09" width="3.75" height="3.75" fill="#fff" stroke="#555555" stroke-width="0.85"/>
<rect x="602.19" y="742.58" width="3.75" height="3.75" fill="#fff" stroke="#555555" stroke-width="0.85"/>
<rect x="607.98" y="742.38" width="3.75" height="3.75" fill="#fff" stroke="#555555" stroke-width="0.85"/>
<rect x="613.77" y="742.8" width="3.75" height="3.75" fill="#fff" stroke="#555555" stroke-width="0.85"/>
<rect x="619.57" y="743.27" width="3.75" height="3.75" fill="#fff" stroke="#555555" stroke-width="0.85"/>
<rect x="625.36" y="742.86" width="3.75" height="3.75" fill="#fff" stroke="#555555" stroke-width="0.85"/>
<rect x="631.16" y="743.39" width="3.75" height="3.75" fill="#fff" stroke="#555555" stroke-width="0.85"/>
<rect x="636.95" y="742.74" width="3.75" height="3.75" fill="#fff" stroke="#555555" stroke-width="0.85"/>
<rect x="642.75" y="743.36" width="3.75" height="3.75" fill="#fff" stroke="#555555" stroke-width="0.85"/>
<rect x="648.54" y="743.13" width="3.75" height="3.75" fill="#fff" stroke="#555555" stroke-width="0.85"/>
<rect x="654.33" y="743.73" width="3.75" height="3.75" fill="#fff" stroke="#555555" stroke-width="0.85"/>
<rect x="660.13" y="743.74" width="3.75" height="3.75" fill="#fff" stroke="#555555" stroke-width="0.85"/>
<rect x="665.92" y="743.52" width="3.75" height="3.75" fill="#fff" stroke="#555555" stroke-width="0.85"/>
<rect x="671.72" y="743.17" width="3.75" height="3.75" fill="#fff" stroke="#555555" stroke-width="0.85"/>
<rect x="677.51" y="743.96" width="3.75" height="3.75" fill="#fff" stroke="#555555" stroke-width="0.85"/>
<rect x="683.3" y="744.38" width="3.75" height="3.75" fill="#fff" stroke="#555555" stroke-width="0.85"/>
<rect x="689.1" y="743.4" width="3.75" height="3.75" fill="#fff" stroke="#555555" stroke-width="0.85"/>
<rect x="694.89" y="744.05" width="3.75" height="3.75" fill="#fff" stroke="#555555" stroke-width="0.85"/>
<rect x="700.68" y="743.73" width="3.75" height="3.75" fill="#fff" stroke="#555555" stroke-width="0.85"/>
<rect x="706.48" y="744.43" width="3.75" height="3.75" fill="#fff" stroke="#555555" stroke-width="0.85"/>
<rect x="712.27" y="744.63" width="3.75" height="3.75" fill="#fff" stroke="#555555" stroke-width="0.85"/>
<rect x="718.07" y="744.16" width="3.75" height="3.75" fill="#fff" stroke="#555555" stroke-width="0.85"/>
<rect x="723.86" y="744.57" width="3.75" height="3.75" fill="#fff" stroke="#555555" stroke-width="0.85"/>
<rect x="729.65" y="744.35" width="3.75" height="3.75" fill="#fff" stroke="#555555" stroke-width="0.85"/>
<rect x="735.45" y="745.06" width="3.75" height="3.75" fill="#fff" stroke="#555555" stroke-width="0.85"/>
<rect x="741.24" y="744.53" width="3.75" height="3.75" fill="#fff" stroke="#555555" stroke-width="0.85"/>
<rect x="747.04" y="745.07" width="3.75" height="3.75" fill="#fff" stroke="#555555" stroke-width="0.85"/>
<rect x="752.83" y="744.88" width="3.75" height="3.75" fill="#fff" stroke="#555555" stroke-width="0.85"/>
<rect x="585.9" y="668.7" width="4.8" height="4.8" fill="#000000"/>
<rect x="586.35" y="684.75" width="3.9" height="3.9" fill="#fff" stroke="#505050" stroke-width="0.9"/>
<text x="603.2" y="674.5" font-size="12.9" font-family="Liberation Serif" font-weight="bold" fill="#000000" stroke="#000000" text-anchor="start">Charge</text>
<text x="603.2" y="690.2" font-size="12.9" font-family="Liberation Serif" font-weight="bold" fill="#000000" stroke="#000000" text-anchor="start">Dicharge</text>
<text x="579.6" y="779.0" font-size="12.0" font-family="Liberation Serif" font-weight="bold" fill="#000" stroke="#000">S = 5 mg/cm<tspan font-size="7.5" dy="-6.6">2</tspan></text>
<line x1="470.8" y1="608.4" x2="754.7" y2="608.4" stroke="#000000" stroke-width="1.5"/>
<line x1="470.8" y1="607.65" x2="470.8" y2="818.05" stroke="#000000" stroke-width="1.5"/>
<line x1="470.8" y1="817.3" x2="754.7" y2="817.3" stroke="#000000" stroke-width="1.5"/>
<line x1="754.7" y1="607.65" x2="754.7" y2="818.05" stroke="#000000" stroke-width="1.5"/>
<line x1="466.3" y1="817.3" x2="470.8" y2="817.3" stroke="#000000" stroke-width="1.4"/>
<line x1="466.3" y1="775.52" x2="470.8" y2="775.52" stroke="#000000" stroke-width="1.4"/>
<line x1="466.3" y1="733.74" x2="470.8" y2="733.74" stroke="#000000" stroke-width="1.4"/>
<line x1="466.3" y1="691.96" x2="470.8" y2="691.96" stroke="#000000" stroke-width="1.4"/>
<line x1="466.3" y1="650.18" x2="470.8" y2="650.18" stroke="#000000" stroke-width="1.4"/>
<line x1="466.3" y1="608.4" x2="470.8" y2="608.4" stroke="#000000" stroke-width="1.4"/>
<line x1="468.3" y1="796.41" x2="470.8" y2="796.41" stroke="#000000" stroke-width="1.4"/>
<line x1="468.3" y1="754.63" x2="470.8" y2="754.63" stroke="#000000" stroke-width="1.4"/>
<line x1="468.3" y1="712.85" x2="470.8" y2="712.85" stroke="#000000" stroke-width="1.4"/>
<line x1="468.3" y1="671.07" x2="470.8" y2="671.07" stroke="#000000" stroke-width="1.4"/>
<line x1="468.3" y1="629.29" x2="470.8" y2="629.29" stroke="#000000" stroke-width="1.4"/>
<line x1="493.98" y1="817.3" x2="493.98" y2="821.8" stroke="#000000" stroke-width="1.4"/>
<line x1="522.95" y1="817.3" x2="522.95" y2="821.8" stroke="#000000" stroke-width="1.4"/>
<line x1="551.92" y1="817.3" x2="551.92" y2="821.8" stroke="#000000" stroke-width="1.4"/>
<line x1="580.89" y1="817.3" x2="580.89" y2="821.8" stroke="#000000" stroke-width="1.4"/>
<line x1="609.86" y1="817.3" x2="609.86" y2="821.8" stroke="#000000" stroke-width="1.4"/>
<line x1="638.83" y1="817.3" x2="638.83" y2="821.8" stroke="#000000" stroke-width="1.4"/>
<line x1="667.8" y1="817.3" x2="667.8" y2="821.8" stroke="#000000" stroke-width="1.4"/>
<line x1="696.77" y1="817.3" x2="696.77" y2="821.8" stroke="#000000" stroke-width="1.4"/>
<line x1="725.74" y1="817.3" x2="725.74" y2="821.8" stroke="#000000" stroke-width="1.4"/>
<line x1="754.71" y1="817.3" x2="754.71" y2="821.8" stroke="#000000" stroke-width="1.4"/>
<line x1="479.49" y1="817.3" x2="479.49" y2="819.8" stroke="#000000" stroke-width="1.4"/>
<line x1="508.46" y1="817.3" x2="508.46" y2="819.8" stroke="#000000" stroke-width="1.4"/>
<line x1="537.43" y1="817.3" x2="537.43" y2="819.8" stroke="#000000" stroke-width="1.4"/>
<line x1="566.4" y1="817.3" x2="566.4" y2="819.8" stroke="#000000" stroke-width="1.4"/>
<line x1="595.37" y1="817.3" x2="595.37" y2="819.8" stroke="#000000" stroke-width="1.4"/>
<line x1="624.34" y1="817.3" x2="624.34" y2="819.8" stroke="#000000" stroke-width="1.4"/>
<line x1="653.31" y1="817.3" x2="653.31" y2="819.8" stroke="#000000" stroke-width="1.4"/>
<line x1="682.28" y1="817.3" x2="682.28" y2="819.8" stroke="#000000" stroke-width="1.4"/>
<line x1="711.25" y1="817.3" x2="711.25" y2="819.8" stroke="#000000" stroke-width="1.4"/>
<line x1="740.22" y1="817.3" x2="740.22" y2="819.8" stroke="#000000" stroke-width="1.4"/>
<text x="464.6" y="822.8" font-size="16.6" font-family="Liberation Serif" font-weight="bold" fill="#000000" stroke="#000000" text-anchor="end">0</text>
<text x="464.6" y="781.02" font-size="16.6" font-family="Liberation Serif" font-weight="bold" fill="#000000" stroke="#000000" text-anchor="end">2</text>
<text x="464.6" y="739.24" font-size="16.6" font-family="Liberation Serif" font-weight="bold" fill="#000000" stroke="#000000" text-anchor="end">4</text>
<text x="464.6" y="697.46" font-size="16.6" font-family="Liberation Serif" font-weight="bold" fill="#000000" stroke="#000000" text-anchor="end">6</text>
<text x="464.6" y="655.68" font-size="16.6" font-family="Liberation Serif" font-weight="bold" fill="#000000" stroke="#000000" text-anchor="end">8</text>
<text x="464.6" y="613.9" font-size="16.6" font-family="Liberation Serif" font-weight="bold" fill="#000000" stroke="#000000" text-anchor="end">10</text>
<text x="493.98" y="837.6" font-size="16.6" font-family="Liberation Serif" font-weight="bold" fill="#000000" stroke="#000000" text-anchor="middle">5</text>
<text x="522.95" y="837.6" font-size="16.6" font-family="Liberation Serif" font-weight="bold" fill="#000000" stroke="#000000" text-anchor="middle">10</text>
<text x="551.92" y="837.6" font-size="16.6" font-family="Liberation Serif" font-weight="bold" fill="#000000" stroke="#000000" text-anchor="middle">15</text>
<text x="580.89" y="837.6" font-size="16.6" font-family="Liberation Serif" font-weight="bold" fill="#000000" stroke="#000000" text-anchor="middle">20</text>
<text x="609.86" y="837.6" font-size="16.6" font-family="Liberation Serif" font-weight="bold" fill="#000000" stroke="#000000" text-anchor="middle">25</text>
<text x="638.83" y="837.6" font-size="16.6" font-family="Liberation Serif" font-weight="bold" fill="#000000" stroke="#000000" text-anchor="middle">30</text>
<text x="667.8" y="837.6" font-size="16.6" font-family="Liberation Serif" font-weight="bold" fill="#000000" stroke="#000000" text-anchor="middle">35</text>
<text x="696.77" y="837.6" font-size="16.6" font-family="Liberation Serif" font-weight="bold" fill="#000000" stroke="#000000" text-anchor="middle">40</text>
<text x="725.74" y="837.6" font-size="16.6" font-family="Liberation Serif" font-weight="bold" fill="#000000" stroke="#000000" text-anchor="middle">45</text>
<text x="754.71" y="837.6" font-size="16.6" font-family="Liberation Serif" font-weight="bold" fill="#000000" stroke="#000000" text-anchor="middle">50</text>
<text x="612.3" y="861" font-size="16.5" font-family="Liberation Serif" font-weight="bold" fill="#000000" stroke="#000000" text-anchor="middle">Cycle number</text>
<text x="434.2" y="735.5" font-size="16.8" font-family="Liberation Serif" font-weight="bold" fill="#000" stroke="#000" text-anchor="middle" transform="rotate(-90 434.2 735.5)">Areal Capacity (mAh/cm<tspan font-size="10" dy="-8.2">2</tspan><tspan dy="8.2">)</tspan></text>
<text x="405.8" y="616.8" font-size="24.2" font-family="Liberation Serif" font-weight="bold" fill="#000000" stroke="#000000" text-anchor="start">(e)</text>
</svg>
</body></html>
